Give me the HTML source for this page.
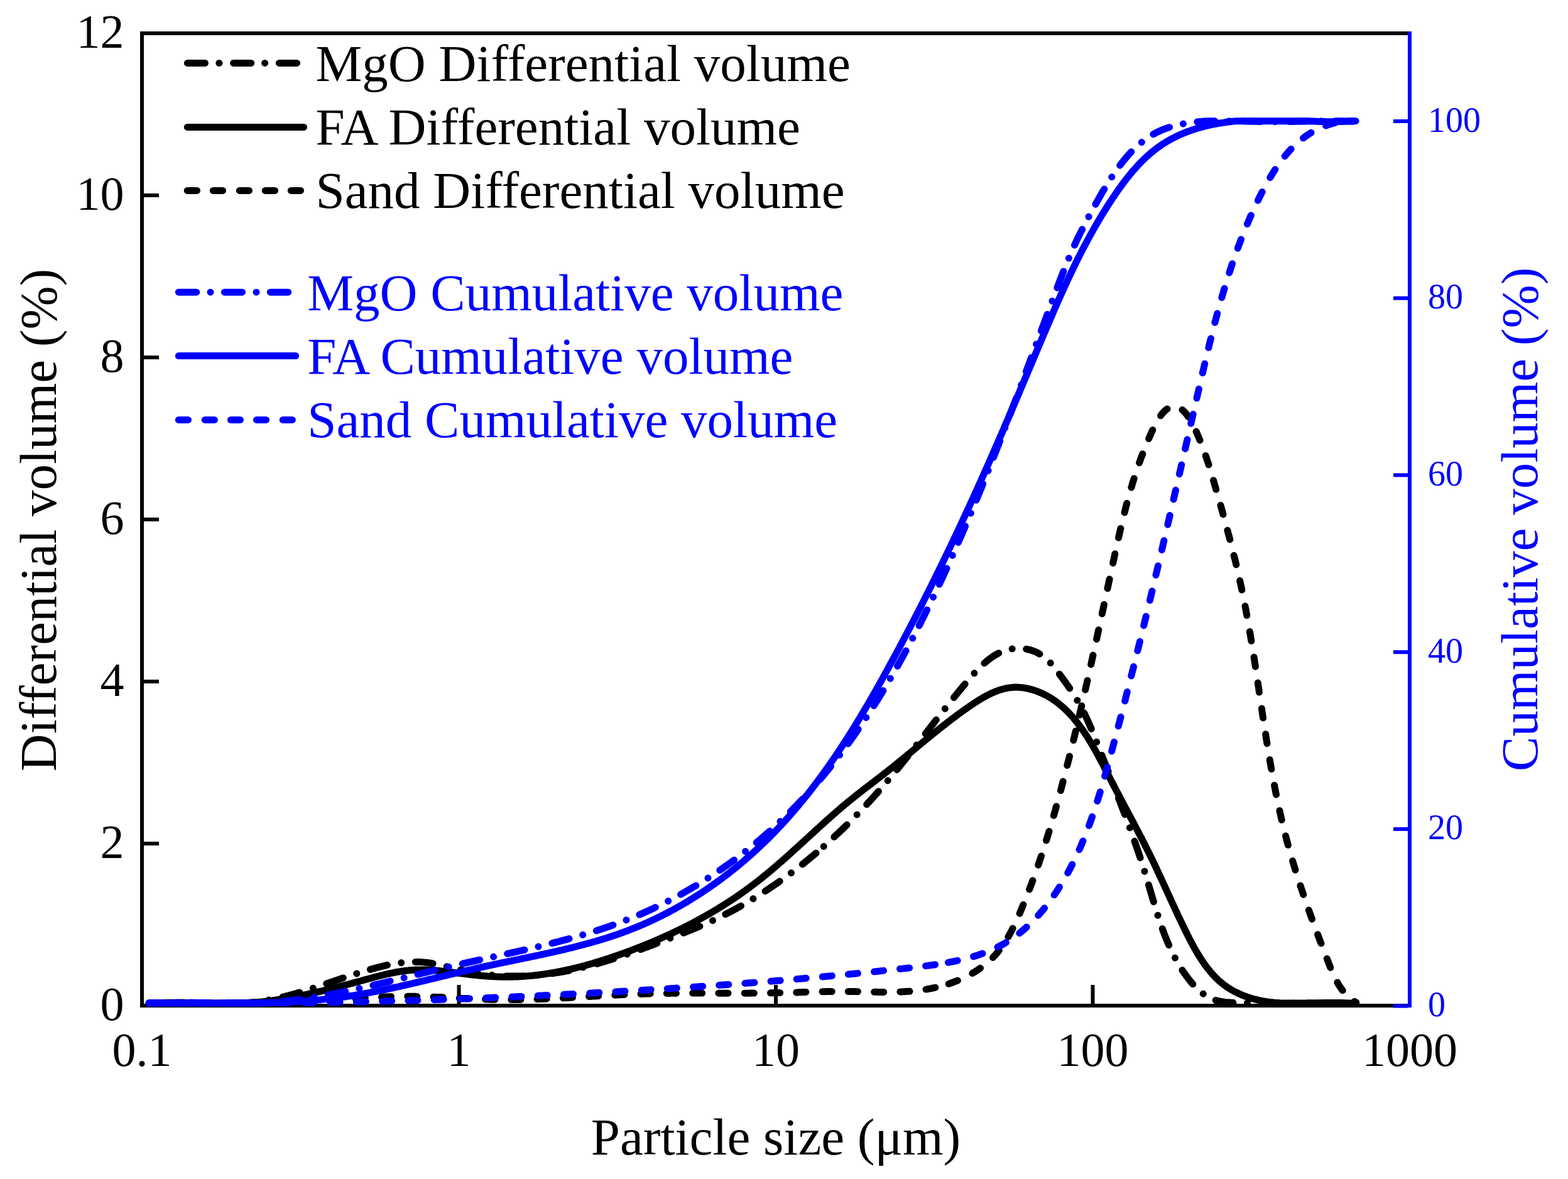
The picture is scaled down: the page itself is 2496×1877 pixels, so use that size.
<!DOCTYPE html>
<html><head><meta charset="utf-8"><title>Particle size distribution</title>
<style>html,body{margin:0;padding:0;background:#fff;overflow:hidden}svg{display:block}</style>
</head><body>
<svg xmlns="http://www.w3.org/2000/svg" width="2496" height="1877" viewBox="0 0 2496 1877">
<rect x="0" y="0" width="2496" height="1877" fill="#ffffff"/>
<g fill="#000">
<rect x="223" y="50" width="6" height="1554"/>
<rect x="223" y="50" width="2021" height="6"/>
<rect x="223" y="1598" width="2021" height="6"/>
<rect x="229" y="1598.0" width="24" height="6"/>
<rect x="229" y="1340.0" width="24" height="6"/>
<rect x="229" y="1082.0" width="24" height="6"/>
<rect x="229" y="824.0" width="24" height="6"/>
<rect x="229" y="566.0" width="24" height="6"/>
<rect x="229" y="308.0" width="24" height="6"/>
<rect x="229" y="50.0" width="24" height="6"/>
<rect x="223.0" y="1568" width="6" height="30"/>
<rect x="727.5" y="1568" width="6" height="30"/>
<rect x="1232.0" y="1568" width="6" height="30"/>
<rect x="1736.5" y="1568" width="6" height="30"/>
<rect x="2241.0" y="1568" width="6" height="30"/>
</g>
<g fill="#0000ff">
<rect x="2241" y="50" width="6" height="1554"/>
<rect x="2218" y="1598.6" width="23" height="6"/>
<rect x="2218" y="1316.9" width="23" height="6"/>
<rect x="2218" y="1035.2" width="23" height="6"/>
<rect x="2218" y="753.4" width="23" height="6"/>
<rect x="2218" y="471.7" width="23" height="6"/>
<rect x="2218" y="190.0" width="23" height="6"/>
</g>
<path d="M237.0 1597.0 L239.0 1597.0 L241.0 1597.0 L243.0 1597.0 L245.0 1597.0 L247.0 1597.0 L249.0 1597.0 L251.0 1597.0 L253.0 1597.0 L255.0 1597.0 L257.0 1597.0 L259.0 1597.0 L261.0 1596.9 L263.0 1596.8 L265.0 1596.8 L267.0 1596.7 L269.0 1596.7 L271.0 1596.6 L273.0 1596.6 L275.0 1596.5 L277.0 1596.5 L279.0 1596.4 L281.0 1596.4 L283.0 1596.4 L285.0 1596.3 L287.0 1596.3 L289.0 1596.3 L291.0 1596.3 L293.0 1596.3 L295.0 1596.3 L297.0 1596.3 L299.0 1596.3 L301.0 1596.3 L303.0 1596.3 L305.0 1596.3 L307.0 1596.3 L309.0 1596.3 L311.0 1596.3 L313.0 1596.3 L315.0 1596.3 L317.0 1596.3 L319.0 1596.3 L321.0 1596.4 L323.0 1596.4 L325.0 1596.4 L327.0 1596.4 L329.0 1596.5 L331.0 1596.5 L333.0 1596.5 L335.0 1596.6 L337.0 1596.6 L339.0 1596.6 L341.0 1596.7 L343.0 1596.7 L345.0 1596.7 L347.0 1596.8 L349.0 1596.8 L351.0 1596.9 L353.0 1596.9 L355.0 1596.9 L357.0 1597.0 L359.0 1597.0 L361.0 1597.0 L363.0 1597.0 L365.0 1597.0 L367.0 1597.0 L369.0 1597.0 L371.0 1597.0 L373.0 1597.0 L375.0 1597.0 L377.0 1597.0 L379.0 1597.0 L381.0 1597.0 L383.0 1597.0 L385.0 1597.0 L387.0 1597.0 L389.0 1597.0 L391.0 1597.0 L393.0 1597.0 L395.0 1597.0 L397.0 1597.0 L399.0 1597.0 L401.0 1597.0 L403.0 1597.0 L405.0 1597.0 L407.0 1597.0 L409.0 1597.0 L411.0 1597.0 L413.0 1597.0 L415.0 1597.0 L417.0 1597.0 L419.0 1597.0 L421.0 1597.0 L423.0 1597.0 L425.0 1597.0 L427.0 1597.0 L429.0 1597.0 L431.0 1597.0 L433.0 1597.0 L435.0 1597.0 L437.0 1597.0 L439.0 1597.0 L441.0 1597.0 L443.0 1597.0 L445.0 1597.0 L447.0 1597.0 L449.0 1597.0 L451.0 1597.0 L453.0 1597.0 L455.0 1597.0 L457.0 1597.0 L459.0 1597.0 L461.0 1597.0 L463.0 1597.0 L465.0 1597.0 L467.0 1597.0 L469.0 1597.0 L471.0 1597.0 L473.0 1597.0 L475.0 1597.0 L477.0 1596.9 L479.0 1596.8 L481.0 1596.7 L483.0 1596.6 L484.9 1596.5 L486.9 1596.4 L488.9 1596.2 L490.9 1596.1 L492.9 1596.0 L494.9 1595.9 L496.9 1595.7 L498.9 1595.6 L500.9 1595.5 L502.9 1595.3 L504.9 1595.2 L506.9 1595.0 L508.9 1594.9 L510.9 1594.7 L512.9 1594.6 L514.9 1594.4 L516.9 1594.3 L518.9 1594.1 L520.9 1594.0 L522.9 1593.8 L524.8 1593.6 L526.8 1593.5 L528.8 1593.3 L530.8 1593.2 L532.8 1593.0 L534.8 1592.8 L536.8 1592.7 L538.8 1592.5 L540.8 1592.3 L542.8 1592.1 L544.8 1592.0 L546.8 1591.8 L548.8 1591.6 L550.8 1591.5 L552.8 1591.3 L554.8 1591.1 L556.7 1591.0 L558.7 1590.8 L560.7 1590.6 L562.7 1590.5 L564.7 1590.3 L566.7 1590.1 L568.7 1590.0 L570.7 1589.8 L572.7 1589.7 L574.7 1589.5 L576.7 1589.4 L578.7 1589.2 L580.7 1589.1 L582.7 1588.9 L584.7 1588.8 L586.6 1588.6 L588.6 1588.5 L590.6 1588.4 L592.6 1588.2 L594.6 1588.1 L596.6 1588.0 L598.6 1587.8 L600.6 1587.7 L602.6 1587.6 L604.6 1587.5 L606.6 1587.4 L608.6 1587.3 L610.6 1587.2 L612.6 1587.1 L614.6 1587.0 L616.6 1586.9 L618.5 1586.8 L620.5 1586.8 L622.5 1586.7 L624.5 1586.6 L626.5 1586.6 L628.5 1586.5 L630.5 1586.4 L632.5 1586.4 L634.5 1586.4 L636.5 1586.3 L638.5 1586.3 L640.5 1586.3 L642.5 1586.3 L644.5 1586.2 L646.5 1586.2 L648.5 1586.2 L650.5 1586.2 L652.5 1586.3 L654.5 1586.3 L656.5 1586.3 L658.5 1586.3 L660.5 1586.3 L662.4 1586.4 L664.4 1586.4 L666.4 1586.4 L668.4 1586.5 L670.4 1586.5 L672.4 1586.6 L674.4 1586.6 L676.4 1586.7 L678.4 1586.8 L680.4 1586.8 L682.4 1586.9 L684.4 1587.0 L686.4 1587.0 L688.4 1587.1 L690.4 1587.2 L692.4 1587.3 L694.4 1587.4 L696.4 1587.4 L698.4 1587.5 L700.4 1587.6 L702.4 1587.7 L704.4 1587.8 L706.4 1587.9 L708.4 1588.0 L710.4 1588.1 L712.4 1588.2 L714.4 1588.3 L716.4 1588.4 L718.4 1588.5 L720.4 1588.6 L722.4 1588.7 L724.4 1588.8 L726.4 1588.9 L728.4 1589.0 L730.4 1589.1 L732.3 1589.2 L734.3 1589.3 L736.3 1589.4 L738.3 1589.5 L740.3 1589.6 L742.3 1589.7 L744.3 1589.8 L746.3 1589.9 L748.3 1589.9 L750.3 1590.0 L752.3 1590.1 L754.3 1590.2 L756.3 1590.3 L758.3 1590.4 L760.3 1590.5 L762.3 1590.6 L764.3 1590.6 L766.3 1590.7 L768.3 1590.8 L770.3 1590.9 L772.3 1590.9 L774.3 1591.0 L776.3 1591.1 L778.3 1591.1 L780.3 1591.2 L782.3 1591.2 L784.3 1591.3 L786.3 1591.3 L788.3 1591.4 L790.3 1591.4 L792.3 1591.4 L794.3 1591.5 L796.2 1591.5 L798.2 1591.5 L800.2 1591.5 L802.2 1591.6 L804.2 1591.6 L806.2 1591.6 L808.2 1591.6 L810.2 1591.6 L812.2 1591.6 L814.2 1591.6 L816.2 1591.5 L818.2 1591.5 L820.2 1591.5 L822.2 1591.5 L824.2 1591.5 L826.2 1591.4 L828.2 1591.4 L830.2 1591.4 L832.2 1591.3 L834.2 1591.3 L836.2 1591.2 L838.1 1591.2 L840.1 1591.2 L842.1 1591.1 L844.1 1591.0 L846.1 1591.0 L848.1 1590.9 L850.1 1590.9 L852.1 1590.8 L854.1 1590.7 L856.1 1590.7 L858.1 1590.6 L860.1 1590.5 L862.1 1590.4 L864.1 1590.4 L866.1 1590.3 L868.1 1590.2 L870.1 1590.1 L872.0 1590.0 L874.0 1589.9 L876.0 1589.8 L878.0 1589.8 L880.0 1589.7 L882.0 1589.6 L884.0 1589.5 L886.0 1589.4 L888.0 1589.3 L890.0 1589.2 L892.0 1589.1 L894.0 1589.0 L896.0 1588.9 L898.0 1588.8 L900.0 1588.6 L902.0 1588.5 L903.9 1588.4 L905.9 1588.3 L907.9 1588.2 L909.9 1588.1 L911.9 1588.0 L913.9 1587.9 L915.9 1587.8 L917.9 1587.6 L919.9 1587.5 L921.9 1587.4 L923.9 1587.3 L925.9 1587.2 L927.9 1587.1 L929.9 1586.9 L931.9 1586.8 L933.9 1586.7 L935.9 1586.6 L937.8 1586.5 L939.8 1586.4 L941.8 1586.2 L943.8 1586.1 L945.8 1586.0 L947.8 1585.9 L949.8 1585.8 L951.8 1585.7 L953.8 1585.5 L955.8 1585.4 L957.8 1585.3 L959.8 1585.2 L961.8 1585.1 L963.8 1585.0 L965.8 1584.9 L967.8 1584.8 L969.8 1584.6 L971.8 1584.5 L973.8 1584.4 L975.8 1584.3 L977.7 1584.2 L979.7 1584.1 L981.7 1584.0 L983.7 1583.9 L985.7 1583.8 L987.7 1583.7 L989.7 1583.6 L991.7 1583.5 L993.7 1583.4 L995.7 1583.3 L997.7 1583.2 L999.7 1583.2 L1001.7 1583.1 L1003.7 1583.0 L1005.7 1582.9 L1007.7 1582.8 L1009.7 1582.7 L1011.7 1582.7 L1013.7 1582.6 L1015.7 1582.5 L1017.7 1582.4 L1019.7 1582.4 L1021.7 1582.3 L1023.7 1582.2 L1025.7 1582.2 L1027.7 1582.1 L1029.7 1582.1 L1031.7 1582.0 L1033.7 1582.0 L1035.7 1581.9 L1037.7 1581.9 L1039.7 1581.8 L1041.7 1581.8 L1043.7 1581.7 L1045.7 1581.7 L1047.7 1581.6 L1049.7 1581.6 L1051.7 1581.6 L1053.7 1581.5 L1055.7 1581.5 L1057.7 1581.5 L1059.7 1581.4 L1061.7 1581.4 L1063.7 1581.4 L1065.7 1581.4 L1067.7 1581.3 L1069.7 1581.3 L1071.7 1581.3 L1073.6 1581.3 L1075.6 1581.3 L1077.6 1581.2 L1079.6 1581.2 L1081.6 1581.2 L1083.6 1581.2 L1085.6 1581.2 L1087.6 1581.2 L1089.7 1581.2 L1091.7 1581.2 L1093.7 1581.2 L1095.7 1581.1 L1097.7 1581.1 L1099.7 1581.1 L1101.7 1581.1 L1103.7 1581.1 L1105.7 1581.1 L1107.7 1581.1 L1109.7 1581.1 L1111.7 1581.1 L1113.7 1581.1 L1115.7 1581.1 L1117.7 1581.1 L1119.7 1581.1 L1121.7 1581.1 L1123.7 1581.1 L1125.7 1581.1 L1127.7 1581.1 L1129.7 1581.1 L1131.7 1581.1 L1133.7 1581.1 L1135.7 1581.1 L1137.7 1581.1 L1139.7 1581.2 L1141.7 1581.2 L1143.7 1581.2 L1145.7 1581.2 L1147.7 1581.2 L1149.7 1581.2 L1151.7 1581.2 L1153.7 1581.2 L1155.7 1581.2 L1157.7 1581.2 L1159.7 1581.2 L1161.7 1581.2 L1163.7 1581.2 L1165.7 1581.2 L1167.7 1581.2 L1169.7 1581.2 L1171.7 1581.2 L1173.6 1581.2 L1175.6 1581.2 L1177.6 1581.2 L1179.6 1581.2 L1181.6 1581.2 L1183.6 1581.2 L1185.6 1581.2 L1187.6 1581.2 L1189.6 1581.2 L1191.6 1581.2 L1193.6 1581.2 L1195.6 1581.1 L1197.6 1581.1 L1199.6 1581.1 L1201.6 1581.1 L1203.6 1581.1 L1205.6 1581.1 L1207.6 1581.1 L1209.6 1581.1 L1211.6 1581.0 L1213.6 1581.0 L1215.6 1581.0 L1217.6 1581.0 L1219.6 1581.0 L1221.6 1580.9 L1223.6 1580.9 L1225.6 1580.9 L1227.6 1580.8 L1229.6 1580.8 L1231.6 1580.8 L1233.6 1580.8 L1235.6 1580.7 L1237.6 1580.7 L1239.6 1580.6 L1241.6 1580.6 L1243.6 1580.6 L1245.5 1580.5 L1247.5 1580.5 L1249.5 1580.4 L1251.5 1580.4 L1253.5 1580.3 L1255.5 1580.3 L1257.5 1580.2 L1259.5 1580.1 L1261.5 1580.1 L1263.5 1580.0 L1265.5 1580.0 L1267.5 1579.9 L1269.5 1579.9 L1271.5 1579.8 L1273.5 1579.7 L1275.5 1579.7 L1277.5 1579.6 L1279.4 1579.6 L1281.4 1579.5 L1283.4 1579.4 L1285.4 1579.4 L1287.4 1579.3 L1289.4 1579.3 L1291.4 1579.2 L1293.4 1579.1 L1295.4 1579.1 L1297.4 1579.0 L1299.4 1579.0 L1301.4 1578.9 L1303.4 1578.9 L1305.4 1578.8 L1307.4 1578.8 L1309.4 1578.7 L1311.4 1578.7 L1313.4 1578.7 L1315.4 1578.6 L1317.4 1578.6 L1319.4 1578.6 L1321.4 1578.5 L1323.4 1578.5 L1325.4 1578.5 L1327.4 1578.5 L1329.4 1578.4 L1331.4 1578.4 L1333.4 1578.4 L1335.4 1578.4 L1337.4 1578.4 L1339.4 1578.4 L1341.4 1578.4 L1343.4 1578.4 L1345.4 1578.4 L1347.4 1578.4 L1349.4 1578.5 L1351.4 1578.5 L1353.4 1578.5 L1355.4 1578.5 L1357.4 1578.6 L1359.4 1578.6 L1361.4 1578.6 L1363.4 1578.7 L1365.4 1578.7 L1367.4 1578.8 L1369.4 1578.8 L1371.4 1578.9 L1373.5 1578.9 L1375.5 1578.9 L1377.5 1579.0 L1379.5 1579.0 L1381.5 1579.1 L1383.5 1579.1 L1385.5 1579.2 L1387.5 1579.2 L1389.5 1579.2 L1391.5 1579.3 L1393.5 1579.3 L1395.5 1579.3 L1397.5 1579.4 L1399.6 1579.4 L1401.6 1579.4 L1403.6 1579.4 L1405.6 1579.4 L1407.6 1579.5 L1409.6 1579.5 L1411.6 1579.5 L1413.6 1579.5 L1415.6 1579.4 L1417.6 1579.4 L1419.6 1579.4 L1421.6 1579.4 L1423.6 1579.3 L1425.6 1579.3 L1427.6 1579.2 L1429.6 1579.2 L1431.6 1579.1 L1433.6 1579.0 L1435.6 1578.9 L1437.6 1578.8 L1439.6 1578.7 L1441.5 1578.6 L1443.5 1578.5 L1445.5 1578.3 L1447.5 1578.2 L1449.5 1578.0 L1451.5 1577.9 L1453.5 1577.7 L1455.5 1577.5 L1457.4 1577.3 L1459.4 1577.1 L1461.4 1576.9 L1463.4 1576.6 L1465.3 1576.4 L1467.3 1576.1 L1469.3 1575.8 L1471.3 1575.5 L1473.2 1575.2 L1475.2 1574.9 L1477.2 1574.5 L1479.1 1574.2 L1481.1 1573.8 L1483.1 1573.4 L1485.0 1573.0 L1487.0 1572.6 L1488.9 1572.2 L1490.9 1571.7 L1492.8 1571.2 L1494.8 1570.7 L1496.7 1570.2 L1498.7 1569.7 L1500.6 1569.2" fill="none" stroke="#000" stroke-width="11" stroke-linecap="round" stroke-linejoin="round" stroke-dasharray="15.1 26.2" stroke-dashoffset="0.81"/>
<path d="M1500.6 1569.2 L1502.5 1568.6 L1504.4 1568.1 L1506.4 1567.5 L1508.3 1566.9 L1510.2 1566.3 L1512.1 1565.6 L1514.0 1565.0 L1515.8 1564.3 L1517.7 1563.6 L1519.6 1562.9 L1521.5 1562.2 L1523.3 1561.5 L1525.2 1560.7 L1527.0 1560.0 L1528.8 1559.2 L1530.6 1558.4 L1532.4 1557.5 L1534.2 1556.7 L1536.0 1555.8 L1537.8 1554.9 L1539.6 1554.1 L1541.3 1553.1 L1543.1 1552.2 L1544.8 1551.3 L1546.5 1550.3 L1548.2 1549.3 L1549.9 1548.3 L1551.6 1547.3 L1553.3 1546.2 L1554.9 1545.2 L1556.6 1544.1 L1558.2 1543.0 L1559.8 1541.9 L1561.4 1540.7 L1563.0 1539.6 L1564.5 1538.4 L1566.1 1537.2 L1567.6 1536.0 L1569.1 1534.7 L1570.6 1533.5 L1572.1 1532.2 L1573.6 1530.9 L1575.0 1529.6 L1576.5 1528.3 L1577.9 1526.9 L1579.3 1525.6 L1580.7 1524.2 L1582.0 1522.8 L1583.3 1521.3 L1584.7 1519.9 L1586.0 1518.4 L1587.2 1516.9 L1588.5 1515.4 L1589.7 1513.9 L1591.0 1512.3 L1592.2 1510.8 L1593.3 1509.2 L1594.5 1507.6 L1595.7 1506.0 L1596.8 1504.3 L1597.9 1502.7 L1599.0 1501.0 L1600.1 1499.3 L1601.2 1497.6 L1602.2 1495.9 L1603.3 1494.2 L1604.3 1492.5 L1605.3 1490.7 L1606.3 1489.0 L1607.3 1487.2 L1608.3 1485.4 L1609.2 1483.7 L1610.2 1481.9 L1611.1 1480.1 L1612.0 1478.2 L1612.9 1476.4 L1613.8 1474.6 L1614.7 1472.7 L1615.6 1470.9 L1616.5 1469.0 L1617.4 1467.2 L1618.2 1465.3 L1619.1 1463.5 L1619.9 1461.6 L1620.7 1459.7 L1621.6 1457.8 L1622.4 1455.9 L1623.2 1454.1 L1624.0 1452.2 L1624.8 1450.3 L1625.6 1448.4 L1626.4 1446.5 L1627.2 1444.6 L1628.0 1442.7 L1628.7 1440.8 L1629.5 1438.9 L1630.3 1437.0 L1631.1 1435.2 L1631.8 1433.3 L1632.6 1431.4 L1633.3 1429.5 L1634.1 1427.6 L1634.8 1425.7 L1635.6 1423.8 L1636.3 1421.9 L1637.0 1420.0 L1637.8 1418.1 L1638.5 1416.2 L1639.2 1414.4 L1639.9 1412.5 L1640.6 1410.6 L1641.4 1408.7 L1642.1 1406.8 L1642.8 1404.9 L1643.5 1403.0 L1644.2 1401.1 L1644.8 1399.2 L1645.5 1397.4 L1646.2 1395.5 L1646.9 1393.6 L1647.6 1391.7 L1648.3 1389.8 L1648.9 1387.9 L1649.6 1386.0 L1650.3 1384.1 L1650.9 1382.2 L1651.6 1380.3 L1652.2 1378.4 L1652.9 1376.6 L1653.5 1374.7 L1654.2 1372.8 L1654.8 1370.9 L1655.5 1369.0 L1656.1 1367.1 L1656.7 1365.2 L1657.4 1363.3 L1658.0 1361.4 L1658.6 1359.5 L1659.2 1357.6 L1659.9 1355.7 L1660.5 1353.9 L1661.1 1352.0 L1661.7 1350.1 L1662.3 1348.2 L1662.9 1346.3 L1663.5 1344.4 L1664.1 1342.5 L1664.7 1340.6 L1665.3 1338.7 L1665.9 1336.8 L1666.5 1334.9 L1667.1 1333.0 L1667.7 1331.1 L1668.2 1329.2 L1668.8 1327.3 L1669.4 1325.4 L1670.0 1323.5 L1670.5 1321.6 L1671.1 1319.7 L1671.7 1317.8 L1672.2 1315.9 L1672.8 1314.0 L1673.4 1312.1 L1673.9 1310.2 L1674.5 1308.3 L1675.0 1306.4 L1675.6 1304.5 L1676.2 1302.6 L1676.7 1300.7 L1677.2 1298.8 L1677.8 1296.9 L1678.3 1295.0 L1678.9 1293.1 L1679.4 1291.2 L1680.0 1289.3 L1680.5 1287.3 L1681.0 1285.4 L1681.6 1283.5 L1682.1 1281.6 L1682.6 1279.7 L1683.2 1277.8 L1683.7 1275.9 L1684.2 1274.0 L1684.7 1272.1 L1685.3 1270.1 L1685.8 1268.2 L1686.3 1266.3 L1686.8 1264.4 L1687.3 1262.5 L1687.9 1260.6 L1688.4 1258.6 L1688.9 1256.7 L1689.4 1254.8 L1689.9 1252.9 L1690.4 1251.0 L1690.9 1249.0 L1691.4 1247.1 L1691.9 1245.2 L1692.4 1243.3 L1692.9 1241.3 L1693.5 1239.4 L1694.0 1237.5 L1694.5 1235.6 L1695.0 1233.6 L1695.5 1231.7 L1696.0 1229.8 L1696.5 1227.8 L1696.9 1225.9 L1697.4 1224.0 L1697.9 1222.1 L1698.4 1220.1 L1698.9 1218.2 L1699.4 1216.2 L1699.9 1214.3 L1700.4 1212.4 L1700.9 1210.4 L1701.4 1208.5 L1701.9 1206.6 L1702.3 1204.6 L1702.8 1202.7 L1703.3 1200.8 L1703.8 1198.8 L1704.3 1196.9 L1704.8 1194.9 L1705.2 1193.0 L1705.7 1191.0 L1706.2 1189.1 L1706.7 1187.2 L1707.2 1185.2 L1707.6 1183.3 L1708.1 1181.3 L1708.6 1179.4 L1709.1 1177.4 L1709.5 1175.5 L1710.0 1173.5 L1710.5 1171.6 L1710.9 1169.6 L1711.4 1167.7 L1711.9 1165.7 L1712.4 1163.8 L1712.8 1161.8 L1713.3 1159.9 L1713.8 1157.9 L1714.2 1156.0 L1714.7 1154.0 L1715.1 1152.1 L1715.6 1150.1 L1716.1 1148.2 L1716.5 1146.2 L1717.0 1144.3 L1717.5 1142.3 L1717.9 1140.4 L1718.4 1138.4 L1718.8 1136.5 L1719.3 1134.5 L1719.7 1132.6 L1720.2 1130.6 L1720.7 1128.6 L1721.1 1126.7 L1721.6 1124.7 L1722.0 1122.8 L1722.5 1120.8 L1722.9 1118.9 L1723.4 1116.9 L1723.8 1114.9 L1724.3 1113.0 L1724.7 1111.0 L1725.2 1109.1 L1725.6 1107.1 L1726.1 1105.1 L1726.5 1103.2 L1727.0 1101.2 L1727.4 1099.3 L1727.9 1097.3 L1728.3 1095.3 L1728.7 1093.4 L1729.2 1091.4 L1729.6 1089.5 L1730.1 1087.5 L1730.5 1085.5 L1731.0 1083.6 L1731.4 1081.6 L1731.8 1079.7 L1732.3 1077.7 L1732.7 1075.7 L1733.2 1073.8 L1733.6 1071.8 L1734.0 1069.8 L1734.5 1067.9 L1734.9 1065.9 L1735.3 1064.0 L1735.8 1062.0 L1736.2 1060.0 L1736.6 1058.1 L1737.1 1056.1 L1737.5 1054.2 L1737.9 1052.2 L1738.4 1050.2 L1738.8 1048.3 L1739.2 1046.3 L1739.7 1044.3 L1740.1 1042.4 L1740.5 1040.4 L1741.0 1038.5 L1741.4 1036.5 L1741.8 1034.5 L1742.3 1032.6 L1742.7 1030.6 L1743.1 1028.6 L1743.5 1026.7 L1744.0 1024.7 L1744.4 1022.8 L1744.8 1020.8 L1745.3 1018.8 L1745.7 1016.9 L1746.1 1014.9 L1746.5 1013.0 L1747.0 1011.0 L1747.4 1009.0 L1747.8 1007.1 L1748.2 1005.1 L1748.7 1003.2 L1749.1 1001.2 L1749.5 999.2 L1749.9 997.3 L1750.4 995.3 L1750.8 993.4 L1751.2 991.4 L1751.6 989.4 L1752.1 987.5 L1752.5 985.5 L1752.9 983.6 L1753.3 981.6 L1753.7 979.7 L1754.2 977.7 L1754.6 975.7 L1755.0 973.8 L1755.4 971.8 L1755.9 969.9 L1756.3 967.9 L1756.7 966.0 L1757.1 964.0 L1757.5 962.1 L1758.0 960.1 L1758.4 958.1 L1758.8 956.2 L1759.2 954.2 L1759.6 952.3 L1760.1 950.3 L1760.5 948.4 L1760.9 946.4 L1761.3 944.5 L1761.7 942.5 L1762.2 940.6 L1762.6 938.6 L1763.0 936.7 L1763.4 934.7 L1763.8 932.8 L1764.3 930.8 L1764.7 928.9 L1765.1 926.9 L1765.5 925.0 L1765.9 923.1 L1766.4 921.1 L1766.8 919.2 L1767.2 917.2 L1767.6 915.3 L1768.0 913.3 L1768.4 911.4 L1768.9 909.4 L1769.3 907.5 L1769.7 905.6 L1770.1 903.6 L1770.5 901.7 L1771.0 899.7 L1771.4 897.8 L1771.8 895.9 L1772.2 893.9 L1772.6 892.0 L1773.1 890.1 L1773.5 888.1 L1773.9 886.2 L1774.3 884.3 L1774.7 882.3 L1775.2 880.4 L1775.6 878.5 L1776.0 876.5 L1776.4 874.6 L1776.9 872.7 L1777.3 870.7 L1777.7 868.8 L1778.1 866.9 L1778.6 865.0 L1779.0 863.0 L1779.4 861.1 L1779.8 859.2 L1780.3 857.2 L1780.7 855.3 L1781.1 853.4 L1781.6 851.5 L1782.0 849.5 L1782.5 847.6 L1782.9 845.7 L1783.3 843.8 L1783.8 841.8 L1784.2 839.9 L1784.7 838.0 L1785.1 836.1 L1785.6 834.2 L1786.0 832.2 L1786.5 830.3 L1787.0 828.4 L1787.4 826.5 L1787.9 824.5 L1788.4 822.6 L1788.8 820.7 L1789.3 818.8 L1789.8 816.9 L1790.3 814.9 L1790.8 813.0 L1791.3 811.1 L1791.7 809.2 L1792.2 807.3 L1792.7 805.3 L1793.2 803.4 L1793.7 801.5 L1794.3 799.6 L1794.8 797.7 L1795.3 795.7 L1795.8 793.8 L1796.3 791.9 L1796.9 790.0 L1797.4 788.1 L1798.0 786.2 L1798.5 784.2 L1799.0 782.3 L1799.6 780.4 L1800.2 778.5 L1800.7 776.5 L1801.3 774.6 L1801.9 772.7 L1802.4 770.8 L1803.0 768.9 L1803.6 766.9 L1804.2 765.0 L1804.8 763.1 L1805.4 761.2 L1806.0 759.3 L1806.6 757.3 L1807.3 755.4 L1807.9 753.5 L1808.5 751.6 L1809.2 749.6 L1809.8 747.7 L1810.5 745.8 L1811.1 743.9 L1811.8 741.9 L1812.5 740.0 L1813.1 738.1 L1813.8 736.2 L1814.5 734.2 L1815.2 732.3 L1815.9 730.4 L1816.6 728.4 L1817.4 726.5 L1818.1 724.6 L1818.8 722.7 L1819.6 720.7 L1820.3 718.8 L1821.1 716.9 L1821.8 714.9 L1822.6 713.0 L1823.4 711.1 L1824.2 709.1 L1825.0 707.2 L1825.8 705.2 L1826.6 703.3 L1827.4 701.4 L1828.2 699.4 L1829.0 697.5 L1829.9 695.6 L1830.7 693.6 L1831.6 691.7 L1832.5 689.7 L1833.3 687.8 L1834.2 685.8 L1835.1 683.9 L1836.0 682.0 L1837.0 680.1 L1837.9 678.2 L1838.8 676.3 L1839.8 674.5 L1840.8 672.6 L1841.8 670.8 L1842.8 669.1 L1843.8 667.4 L1844.9 665.7 L1845.9 664.1 L1847.0 662.5 L1848.1 661.0 L1849.2 659.5 L1850.4 658.1 L1851.6 656.8 L1852.8 655.5 L1854.0 654.3 L1855.2 653.2 L1856.5 652.1 L1857.8 651.2 L1859.2 650.3 L1860.5 649.5 L1861.9 648.8 L1863.3 648.2 L1864.8 647.7 L1866.3 647.4 L1867.7 647.1 L1869.2 647.1 L1870.7 647.1 L1872.1 647.4 L1873.5 647.7 L1875.0 648.2 L1876.4 648.8 L1877.7 649.5 L1879.1 650.3 L1880.4 651.2 L1881.8 652.3 L1883.1 653.4 L1884.3 654.6 L1885.6 655.9 L1886.8 657.3 L1888.1 658.7 L1889.2 660.3 L1890.4 661.9 L1891.6 663.5 L1892.7 665.3 L1893.9 667.0 L1895.0 668.9 L1896.0 670.7 L1897.1 672.7 L1898.2 674.6 L1899.2 676.6 L1900.2 678.6 L1901.2 680.7 L1902.2 682.7 L1903.1 684.8 L1904.1 686.9 L1905.0 688.9 L1905.9 691.0 L1906.8 693.1 L1907.7 695.2 L1908.5 697.2 L1909.4 699.3 L1910.2 701.3 L1911.0 703.3 L1911.8 705.3 L1912.6 707.3 L1913.4 709.3 L1914.1 711.3 L1914.9 713.3 L1915.6 715.2 L1916.3 717.2 L1917.0 719.1 L1917.7 721.0 L1918.4 723.0 L1919.0 724.9 L1919.7 726.8 L1920.3 728.7 L1921.0 730.6 L1921.6 732.4 L1922.2 734.3 L1922.9 736.2 L1923.5 738.1 L1924.1 739.9 L1924.6 741.8 L1925.2 743.6 L1925.8 745.5 L1926.4 747.3 L1926.9 749.2 L1927.5 751.0 L1928.1 752.9 L1928.6 754.7 L1929.2 756.5 L1929.7 758.4 L1930.3 760.2 L1930.8 762.1 L1931.3 763.9 L1931.9 765.7 L1932.4 767.6 L1932.9 769.4 L1933.5 771.3 L1934.0 773.1 L1934.5 774.9 L1935.1 776.8 L1935.6 778.7 L1936.1 780.5 L1936.7 782.4 L1937.2 784.2 L1937.7 786.1 L1938.3 788.0 L1938.8 789.8 L1939.3 791.7 L1939.9 793.6 L1940.4 795.4 L1940.9 797.3 L1941.5 799.2 L1942.0 801.1 L1942.5 803.0 L1943.1 804.9 L1943.6 806.8 L1944.1 808.6 L1944.7 810.5 L1945.2 812.4 L1945.7 814.3 L1946.3 816.2 L1946.8 818.1 L1947.3 820.0 L1947.8 822.0 L1948.4 823.9 L1948.9 825.8 L1949.4 827.7 L1949.9 829.6 L1950.5 831.5 L1951.0 833.4 L1951.5 835.4 L1952.0 837.3 L1952.6 839.2 L1953.1 841.1 L1953.6 843.1 L1954.1 845.0 L1954.6 846.9 L1955.1 848.8 L1955.6 850.8 L1956.2 852.7 L1956.7 854.7 L1957.2 856.6 L1957.7 858.5 L1958.2 860.5 L1958.7 862.4 L1959.2 864.4 L1959.7 866.3 L1960.2 868.2 L1960.7 870.2 L1961.2 872.1 L1961.7 874.1 L1962.2 876.0 L1962.7 878.0 L1963.2 879.9 L1963.6 881.9 L1964.1 883.9 L1964.6 885.8 L1965.1 887.8 L1965.6 889.7 L1966.1 891.7 L1966.5 893.6 L1967.0 895.6 L1967.5 897.6 L1967.9 899.5 L1968.4 901.5 L1968.9 903.5 L1969.3 905.4 L1969.8 907.4 L1970.3 909.3 L1970.7 911.3 L1971.2 913.3 L1971.6 915.2 L1972.1 917.2 L1972.5 919.2 L1972.9 921.1 L1973.4 923.1 L1973.8 925.1 L1974.3 927.1 L1974.7 929.0 L1975.1 931.0 L1975.5 933.0 L1976.0 934.9 L1976.4 936.9 L1976.8 938.9 L1977.2 940.9 L1977.6 942.8 L1978.0 944.8 L1978.4 946.8 L1978.8 948.7 L1979.2 950.7 L1979.6 952.7 L1980.0 954.7 L1980.4 956.6 L1980.8 958.6 L1981.2 960.6 L1981.6 962.5 L1982.0 964.5 L1982.3 966.5 L1982.7 968.5 L1983.1 970.4 L1983.5 972.4 L1983.8 974.4 L1984.2 976.4 L1984.6 978.3 L1984.9 980.3 L1985.3 982.3 L1985.7 984.3 L1986.0 986.2 L1986.4 988.2 L1986.7 990.2 L1987.1 992.2 L1987.4 994.1 L1987.8 996.1 L1988.1 998.1 L1988.5 1000.1 L1988.8 1002.0 L1989.1 1004.0 L1989.5 1006.0 L1989.8 1008.0 L1990.2 1009.9 L1990.5 1011.9 L1990.8 1013.9 L1991.2 1015.9 L1991.5 1017.8 L1991.8 1019.8 L1992.1 1021.8 L1992.5 1023.8 L1992.8 1025.8 L1993.1 1027.7 L1993.4 1029.7 L1993.7 1031.7 L1994.1 1033.7 L1994.4 1035.6 L1994.7 1037.6 L1995.0 1039.6 L1995.3 1041.6 L1995.6 1043.5 L1996.0 1045.5 L1996.3 1047.5 L1996.6 1049.5 L1996.9 1051.5 L1997.2 1053.4 L1997.5 1055.4 L1997.8 1057.4 L1998.1 1059.4 L1998.4 1061.3 L1998.7 1063.3 L1999.0 1065.3 L1999.3 1067.3 L1999.6 1069.2 L1999.9 1071.2 L2000.2 1073.2 L2000.5 1075.2 L2000.8 1077.1 L2001.1 1079.1 L2001.4 1081.1 L2001.7 1083.1 L2002.0 1085.1 L2002.3 1087.0 L2002.6 1089.0 L2002.9 1091.0 L2003.2 1093.0 L2003.5 1094.9 L2003.8 1096.9 L2004.1 1098.9 L2004.3 1100.9 L2004.6 1102.8 L2004.9 1104.8 L2005.2 1106.8 L2005.5 1108.8 L2005.8 1110.7 L2006.1 1112.7 L2006.4 1114.7 L2006.7 1116.7 L2007.0 1118.6 L2007.3 1120.6 L2007.6 1122.6 L2007.9 1124.6 L2008.2 1126.5 L2008.5 1128.5 L2008.8 1130.5 L2009.0 1132.5 L2009.3 1134.4 L2009.6 1136.4 L2009.9 1138.4 L2010.2 1140.3 L2010.5 1142.3 L2010.8 1144.3 L2011.1 1146.3 L2011.4 1148.2 L2011.7 1150.2 L2012.0 1152.2 L2012.3 1154.1 L2012.6 1156.1 L2012.9 1158.1 L2013.2 1160.1 L2013.5 1162.0 L2013.8 1164.0 L2014.2 1166.0 L2014.5 1167.9 L2014.8 1169.9 L2015.1 1171.9 L2015.4 1173.8 L2015.7 1175.8 L2016.0 1177.8 L2016.3 1179.8 L2016.6 1181.7 L2017.0 1183.7 L2017.3 1185.7 L2017.6 1187.6 L2017.9 1189.6 L2018.2 1191.6 L2018.5 1193.5 L2018.9 1195.5 L2019.2 1197.5 L2019.5 1199.4 L2019.8 1201.4 L2020.2 1203.3 L2020.5 1205.3 L2020.8 1207.3 L2021.2 1209.2 L2021.5 1211.2 L2021.8 1213.2 L2022.2 1215.1 L2022.5 1217.1 L2022.9 1219.1 L2023.2 1221.0 L2023.6 1223.0 L2023.9 1224.9 L2024.3 1226.9 L2024.6 1228.9 L2025.0 1230.8 L2025.3 1232.8 L2025.7 1234.7 L2026.0 1236.7 L2026.4 1238.7 L2026.8 1240.6 L2027.1 1242.6 L2027.5 1244.5 L2027.9 1246.5 L2028.2 1248.4 L2028.6 1250.4 L2029.0 1252.4 L2029.4 1254.3 L2029.8 1256.3 L2030.1 1258.2 L2030.5 1260.2 L2030.9 1262.1 L2031.3 1264.1 L2031.7 1266.0 L2032.1 1268.0 L2032.5 1269.9 L2032.9 1271.9 L2033.3 1273.8 L2033.7 1275.8 L2034.1 1277.7 L2034.5 1279.7 L2035.0 1281.6 L2035.4 1283.6 L2035.8 1285.5 L2036.2 1287.5 L2036.7 1289.4 L2037.1 1291.4 L2037.5 1293.3 L2038.0 1295.3 L2038.4 1297.2 L2038.8 1299.2 L2039.3 1301.1 L2039.7 1303.1 L2040.2 1305.0 L2040.6 1306.9 L2041.1 1308.9 L2041.6 1310.8 L2042.0 1312.8 L2042.5 1314.7 L2043.0 1316.7 L2043.5 1318.6 L2043.9 1320.5 L2044.4 1322.5 L2044.9 1324.4 L2045.4 1326.4 L2045.9 1328.3 L2046.4 1330.2 L2046.9 1332.2 L2047.4 1334.1 L2047.9 1336.0 L2048.4 1338.0 L2048.9 1339.9 L2049.4 1341.8 L2050.0 1343.8 L2050.5 1345.7 L2051.0 1347.6 L2051.6 1349.6 L2052.1 1351.5 L2052.6 1353.4 L2053.2 1355.4 L2053.7 1357.3 L2054.3 1359.2 L2054.8 1361.1 L2055.4 1363.1 L2056.0 1365.0 L2056.5 1366.9 L2057.1 1368.8 L2057.7 1370.8 L2058.2 1372.7 L2058.8 1374.6 L2059.4 1376.5 L2060.0 1378.5 L2060.6 1380.4 L2061.2 1382.3 L2061.7 1384.2 L2062.3 1386.1 L2062.9 1388.1 L2063.5 1390.0 L2064.1 1391.9 L2064.8 1393.8 L2065.4 1395.7 L2066.0 1397.6 L2066.6 1399.5 L2067.2 1401.5 L2067.8 1403.4 L2068.5 1405.3 L2069.1 1407.2 L2069.7 1409.1 L2070.3 1411.0 L2071.0 1412.9 L2071.6 1414.8 L2072.2 1416.7 L2072.9 1418.6 L2073.5 1420.5 L2074.2 1422.4 L2074.8 1424.4 L2075.5 1426.3 L2076.1 1428.2 L2076.8 1430.1 L2077.4 1432.0 L2078.1 1433.9 L2078.7 1435.8 L2079.4 1437.7 L2080.1 1439.6 L2080.7 1441.4 L2081.4 1443.3 L2082.1 1445.2 L2082.7 1447.1 L2083.4 1449.0 L2084.1 1450.9 L2084.8 1452.8 L2085.4 1454.7 L2086.1 1456.6 L2086.8 1458.5 L2087.5 1460.4 L2088.2 1462.2 L2088.9 1464.1 L2089.6 1466.0 L2090.2 1467.9 L2090.9 1469.8 L2091.6 1471.7 L2092.3 1473.5 L2093.0 1475.4 L2093.7 1477.3 L2094.4 1479.2 L2095.1 1481.1 L2095.8 1482.9 L2096.5 1484.8 L2097.2 1486.7 L2097.9 1488.6 L2098.6 1490.4 L2099.3 1492.3 L2100.0 1494.2 L2100.7 1496.0 L2101.4 1497.9 L2102.1 1499.8 L2102.9 1501.6 L2103.6 1503.5 L2104.3 1505.4 L2105.0 1507.2 L2105.7 1509.1 L2106.4 1511.0 L2107.1 1512.8 L2107.8 1514.7 L2108.6 1516.5 L2109.3 1518.4 L2110.0 1520.2 L2110.7 1522.1 L2111.4 1524.0 L2112.1 1525.8 L2112.9 1527.7 L2113.6 1529.5 L2114.3 1531.4 L2115.0 1533.2 L2115.7 1535.1 L2116.5 1536.9 L2117.2 1538.7 L2117.9 1540.6 L2118.7 1542.4 L2119.4 1544.2 L2120.2 1546.1 L2120.9 1547.9 L2121.7 1549.7 L2122.5 1551.5 L2123.3 1553.2 L2124.2 1555.0 L2125.0 1556.8 L2125.9 1558.5 L2126.8 1560.3 L2127.7 1562.0 L2128.7 1563.7 L2129.6 1565.4 L2130.6 1567.1 L2131.6 1568.7 L2132.7 1570.4 L2133.8 1572.0 L2134.9 1573.6 L2136.1 1575.2 L2137.3 1576.8 L2138.5 1578.3 L2139.8 1579.8 L2141.1 1581.3 L2142.5 1582.8 L2143.9 1584.2 L2145.3 1585.7 L2146.8 1587.1 L2148.4 1588.4 L2150.0 1589.8 L2151.6 1591.1 L2153.3 1592.3 L2155.1 1593.6 L2156.9 1594.8 L2158.8 1596.0" fill="none" stroke="#000" stroke-width="11" stroke-linecap="round" stroke-linejoin="round" stroke-dasharray="15.1 26.2" stroke-dashoffset="31.27"/>
<path d="M237.3 1597.0 L239.3 1597.0 L241.2 1597.0 L243.2 1597.0 L245.1 1597.0 L247.1 1597.0 L249.0 1597.0 L251.0 1597.0 L253.0 1596.9 L254.9 1596.8 L256.9 1596.7 L258.9 1596.6 L260.9 1596.5 L262.8 1596.5 L264.8 1596.4 L266.8 1596.4 L268.8 1596.3 L270.8 1596.3 L272.8 1596.3 L274.8 1596.3 L276.7 1596.3 L278.7 1596.3 L280.7 1596.3 L282.7 1596.3 L284.7 1596.3 L286.7 1596.3 L288.7 1596.3 L290.7 1596.4 L292.7 1596.4 L294.8 1596.4 L296.8 1596.5 L298.8 1596.5 L300.8 1596.5 L302.8 1596.6 L304.8 1596.6 L306.8 1596.7 L308.8 1596.7 L310.8 1596.8 L312.9 1596.8 L314.9 1596.9 L316.9 1597.0 L318.9 1597.0 L320.9 1597.0 L322.9 1597.0 L324.9 1597.0 L327.0 1597.0 L329.0 1597.0 L331.0 1597.0 L333.0 1597.0 L335.0 1597.0 L337.1 1597.0 L339.1 1597.0 L341.1 1597.0 L343.1 1597.0 L345.1 1597.0 L347.1 1597.0 L349.1 1597.0 L351.2 1597.0 L353.2 1597.0 L355.2 1597.0 L357.2 1597.0 L359.2 1597.0 L361.2 1597.0 L363.2 1597.0 L365.2 1597.0 L367.2 1597.0 L369.2 1597.0 L371.3 1597.0 L373.3 1597.0 L375.3 1597.0 L377.3 1597.0 L379.3 1597.0 L381.2 1597.0 L383.2 1597.0 L385.2 1597.0 L387.2 1596.9 L389.2 1596.8 L391.2 1596.7 L393.2 1596.5 L395.2 1596.4 L397.2 1596.2 L399.1 1596.0 L401.1 1595.9 L403.1 1595.7 L405.1 1595.5 L407.0 1595.2 L409.0 1595.0 L411.0 1594.7 L412.9 1594.5 L414.9 1594.2 L416.8 1593.9 L418.8 1593.6 L420.7 1593.3 L422.7 1593.0 L424.6 1592.7 L426.6 1592.3 L428.5 1592.0 L430.5 1591.6 L432.4 1591.2 L434.4 1590.8 L436.3 1590.4 L438.2 1590.0 L440.2 1589.6 L442.1 1589.2 L444.0 1588.8 L445.9 1588.3 L447.9 1587.9 L449.8 1587.4 L451.7 1586.9 L453.6 1586.4 L455.5 1585.9 L457.5 1585.5 L459.4 1584.9 L461.3 1584.4 L463.2 1583.9 L465.1 1583.4 L467.0 1582.9 L468.9 1582.3 L470.8 1581.8 L472.7 1581.2 L474.7 1580.6 L476.6 1580.1 L478.5 1579.5 L480.4 1578.9 L482.3 1578.4 L484.2 1577.8 L486.1 1577.2 L488.0 1576.6 L489.9 1576.0 L491.8 1575.4 L493.7 1574.8 L495.6 1574.1 L497.5 1573.5 L499.4 1572.9 L501.3 1572.3 L503.2 1571.6 L505.1 1571.0 L507.0 1570.4 L508.9 1569.7 L510.7 1569.1 L512.6 1568.5 L514.5 1567.8 L516.4 1567.2 L518.3 1566.5 L520.2 1565.9 L522.1 1565.2 L524.0 1564.6 L525.9 1563.9 L527.8 1563.3 L529.7 1562.6 L531.6 1562.0 L533.5 1561.3 L535.4 1560.7 L537.3 1560.0 L539.2 1559.4 L541.1 1558.7 L543.0 1558.1 L544.9 1557.4 L546.8 1556.8 L548.7 1556.2 L550.6 1555.5 L552.5 1554.9 L554.5 1554.3 L556.4 1553.6 L558.3 1553.0 L560.2 1552.4 L562.1 1551.7 L564.0 1551.1 L565.9 1550.5 L567.8 1549.9 L569.8 1549.3 L571.7 1548.7 L573.6 1548.1 L575.5 1547.5 L577.4 1546.9 L579.4 1546.3 L581.3 1545.7 L583.2 1545.1 L585.2 1544.6 L587.1 1544.0 L589.0 1543.5 L591.0 1542.9 L592.9 1542.4 L594.8 1541.8 L596.8 1541.3 L598.7 1540.8 L600.7 1540.3 L602.6 1539.8 L604.6 1539.3 L606.5 1538.8 L608.5 1538.3 L610.4 1537.9 L612.4 1537.4 L614.3 1537.0 L616.3 1536.5 L618.3 1536.1 L620.2 1535.7 L622.2 1535.3 L624.1 1535.0 L626.1 1534.6 L628.1 1534.3 L630.0 1534.0 L632.0 1533.6 L634.0 1533.4 L635.9 1533.1 L637.9 1532.8 L639.9 1532.6 L641.8 1532.4 L643.8 1532.2 L645.8 1532.0 L647.7 1531.8 L649.7 1531.7 L651.7 1531.6 L653.6 1531.5 L655.6 1531.4 L657.6 1531.4 L659.6 1531.4 L661.5 1531.4 L663.5 1531.4 L665.5 1531.4 L667.4 1531.5 L669.4 1531.6 L671.4 1531.7 L673.4 1531.9 L675.3 1532.1 L677.3 1532.3 L679.3 1532.5 L681.2 1532.7 L683.2 1533.0 L685.2 1533.3 L687.1 1533.6 L689.1 1534.0 L691.1 1534.3 L693.1 1534.7 L695.0 1535.1 L697.0 1535.5 L699.0 1535.9 L700.9 1536.3 L702.9 1536.8 L704.9 1537.2 L706.8 1537.7 L708.8 1538.2 L710.8 1538.6 L712.7 1539.1 L714.7 1539.6 L716.7 1540.1 L718.6 1540.6 L720.6 1541.1 L722.6 1541.6 L724.5 1542.0 L726.5 1542.5 L728.5 1543.0 L730.4 1543.5 L732.4 1544.0 L734.4 1544.4 L736.4 1544.9 L738.3 1545.3 L740.3 1545.8 L742.3 1546.2 L744.2 1546.6 L746.2 1547.0 L748.2 1547.4 L750.2 1547.8 L752.1 1548.1 L754.1 1548.5 L756.1 1548.8 L758.1 1549.2 L760.0 1549.5 L762.0 1549.8 L764.0 1550.1 L766.0 1550.4 L767.9 1550.7 L769.9 1550.9 L771.9 1551.2 L773.9 1551.4 L775.9 1551.6 L777.8 1551.9 L779.8 1552.1 L781.8 1552.3 L783.8 1552.5 L785.7 1552.6 L787.7 1552.8 L789.7 1553.0 L791.7 1553.1 L793.7 1553.3 L795.6 1553.4 L797.6 1553.5 L799.6 1553.6 L801.6 1553.7 L803.6 1553.8 L805.5 1553.9 L807.5 1553.9 L809.5 1554.0 L811.5 1554.0 L813.4 1554.1 L815.4 1554.1 L817.4 1554.1 L819.4 1554.1 L821.4 1554.1 L823.3 1554.1 L825.3 1554.0 L827.3 1554.0 L829.3 1554.0 L831.2 1553.9 L833.2 1553.8 L835.2 1553.8 L837.2 1553.7 L839.1 1553.6 L841.1 1553.5 L843.1 1553.4 L845.1 1553.3 L847.0 1553.1 L849.0 1553.0 L851.0 1552.8 L853.0 1552.7 L854.9 1552.5 L856.9 1552.3 L858.9 1552.1 L860.8 1552.0 L862.8 1551.8 L864.8 1551.5 L866.7 1551.3 L868.7 1551.1 L870.7 1550.8 L872.7 1550.6 L874.6 1550.3 L876.6 1550.1 L878.6 1549.8 L880.5 1549.5 L882.5 1549.2 L884.4 1548.9 L886.4 1548.6 L888.4 1548.3 L890.3 1548.0 L892.3 1547.6 L894.3 1547.3 L896.2 1547.0 L898.2 1546.6 L900.1 1546.2 L902.1 1545.9 L904.0 1545.5 L906.0 1545.1 L908.0 1544.7 L909.9 1544.3 L911.9 1543.9 L913.8 1543.5 L915.8 1543.0 L917.7 1542.6 L919.7 1542.1 L921.6 1541.7 L923.6 1541.2 L925.5 1540.8 L927.5 1540.3 L929.4 1539.8 L931.3 1539.3 L933.3 1538.9 L935.2 1538.4 L937.2 1537.8 L939.1 1537.3 L941.0 1536.8 L943.0 1536.3 L944.9 1535.8 L946.9 1535.2 L948.8 1534.7 L950.7 1534.2 L952.7 1533.6 L954.6 1533.0 L956.5 1532.5 L958.5 1531.9 L960.4 1531.3 L962.3 1530.8 L964.2 1530.2 L966.2 1529.6 L968.1 1529.0 L970.0 1528.4 L971.9 1527.8 L973.9 1527.2 L975.8 1526.6 L977.7 1526.0 L979.6 1525.3 L981.5 1524.7 L983.4 1524.1 L985.4 1523.5 L987.3 1522.8 L989.2 1522.2 L991.1 1521.5 L993.0 1520.9 L994.9 1520.2 L996.8 1519.6 L998.7 1518.9 L1000.6 1518.3 L1002.5 1517.6 L1004.4 1516.9 L1006.3 1516.3 L1008.2 1515.6 L1010.1 1514.9 L1012.0 1514.2 L1013.9 1513.5 L1015.8 1512.9 L1017.7 1512.2 L1019.6 1511.5 L1021.5 1510.8 L1023.4 1510.1 L1025.2 1509.4 L1027.1 1508.7 L1029.0 1508.0 L1030.9 1507.3 L1032.8 1506.6 L1034.6 1505.9 L1036.5 1505.2 L1038.4 1504.5 L1040.3 1503.8 L1042.1 1503.1 L1044.0 1502.3 L1045.9 1501.6 L1047.7 1500.9 L1049.6 1500.2 L1051.5 1499.5 L1053.3 1498.8 L1055.2 1498.1 L1057.1 1497.3 L1058.9 1496.6 L1060.8 1495.9 L1062.6 1495.2 L1064.5 1494.5 L1066.3 1493.7 L1068.2 1493.0 L1070.0 1492.3 L1071.9 1491.6 L1073.7 1490.9 L1075.6 1490.2 L1077.4 1489.4 L1079.2 1488.7 L1081.1 1488.0 L1082.9 1487.3 L1084.8 1486.5 L1086.6 1485.8 L1088.4 1485.1 L1090.2 1484.4 L1092.1 1483.6 L1093.9 1482.9 L1095.7 1482.2 L1097.5 1481.4 L1099.4 1480.7 L1101.2 1480.0 L1103.0 1479.2 L1104.8 1478.5 L1106.6 1477.7 L1108.4 1477.0 L1110.2 1476.2 L1112.0 1475.4 L1113.8 1474.7 L1115.6 1473.9 L1117.4 1473.1 L1119.2 1472.3 L1121.0 1471.6 L1122.8 1470.8 L1124.6 1470.0 L1126.4 1469.2 L1128.2 1468.4 L1130.0 1467.6 L1131.8 1466.7 L1133.5 1465.9 L1135.3 1465.1 L1137.1 1464.3 L1138.9 1463.4 L1140.6 1462.6 L1142.4 1461.7 L1144.2 1460.9 L1145.9 1460.0 L1147.7 1459.1 L1149.5 1458.3 L1151.2 1457.4 L1153.0 1456.5 L1154.7 1455.6 L1156.5 1454.7 L1158.2 1453.8 L1160.0 1452.9 L1161.7 1452.0 L1163.5 1451.1 L1165.2 1450.2 L1167.0 1449.2 L1168.7 1448.3 L1170.4 1447.3 L1172.2 1446.4 L1173.9 1445.4 L1175.6 1444.5 L1177.3 1443.5 L1179.1 1442.6 L1180.8 1441.6 L1182.5 1440.6 L1184.2 1439.6 L1185.9 1438.6 L1187.6 1437.6 L1189.3 1436.6 L1191.0 1435.6 L1192.7 1434.6 L1194.4 1433.6 L1196.1 1432.6 L1197.8 1431.6 L1199.5 1430.5 L1201.2 1429.5 L1202.9 1428.4 L1204.6 1427.4 L1206.3 1426.3 L1208.0 1425.3 L1209.6 1424.2 L1211.3 1423.2 L1213.0 1422.1 L1214.7 1421.0 L1216.3 1419.9 L1218.0 1418.8 L1219.7 1417.8 L1221.3 1416.7 L1223.0 1415.6 L1224.6 1414.5 L1226.3 1413.4 L1227.9 1412.2 L1229.6 1411.1 L1231.2 1410.0 L1232.9 1408.9 L1234.5 1407.7 L1236.1 1406.6 L1237.8 1405.5 L1239.4 1404.3 L1241.0 1403.2 L1242.7 1402.0 L1244.3 1400.8 L1245.9 1399.7 L1247.5 1398.5 L1249.2 1397.3 L1250.8 1396.2 L1252.4 1395.0 L1254.0 1393.8 L1255.6 1392.6 L1257.2 1391.4 L1258.8 1390.2 L1260.4 1389.0 L1262.0 1387.8 L1263.6 1386.6 L1265.2 1385.4 L1266.8 1384.2 L1268.3 1382.9 L1269.9 1381.7 L1271.5 1380.5 L1273.1 1379.3 L1274.7 1378.0 L1276.2 1376.8 L1277.8 1375.5 L1279.4 1374.3 L1280.9 1373.0 L1282.5 1371.8 L1284.0 1370.5 L1285.6 1369.2 L1287.1 1368.0 L1288.7 1366.7 L1290.2 1365.4 L1291.8 1364.1 L1293.3 1362.9 L1294.9 1361.6 L1296.4 1360.3 L1297.9 1359.0 L1299.5 1357.7 L1301.0 1356.4" fill="none" stroke="#000" stroke-width="11" stroke-linecap="round" stroke-linejoin="round" stroke-dasharray="28 22.6 0.01 22.6" stroke-dashoffset="6.28"/>
<path d="M1301.0 1356.4 L1302.5 1355.1 L1304.0 1353.8 L1305.5 1352.4 L1307.1 1351.1 L1308.6 1349.8 L1310.1 1348.5 L1311.6 1347.2 L1313.1 1345.8 L1314.6 1344.5 L1316.1 1343.2 L1317.6 1341.8 L1319.1 1340.5 L1320.5 1339.1 L1322.0 1337.8 L1323.5 1336.4 L1325.0 1335.1 L1326.5 1333.7 L1327.9 1332.4 L1329.4 1331.0 L1330.9 1329.6 L1332.3 1328.3 L1333.8 1326.9 L1335.3 1325.5 L1336.7 1324.1 L1338.2 1322.7 L1339.6 1321.4 L1341.1 1320.0 L1342.5 1318.6 L1343.9 1317.2 L1345.4 1315.8 L1346.8 1314.4 L1348.2 1313.0 L1349.7 1311.6 L1351.1 1310.2 L1352.5 1308.8 L1353.9 1307.3 L1355.3 1305.9 L1356.8 1304.5 L1358.2 1303.1 L1359.6 1301.7 L1361.0 1300.2 L1362.4 1298.8 L1363.8 1297.4 L1365.2 1295.9 L1366.6 1294.5 L1367.9 1293.1 L1369.3 1291.6 L1370.7 1290.2 L1372.1 1288.7 L1373.4 1287.3 L1374.8 1285.8 L1376.2 1284.4 L1377.5 1282.9 L1378.9 1281.5 L1380.3 1280.0 L1381.6 1278.6 L1383.0 1277.1 L1384.3 1275.6 L1385.7 1274.2 L1387.0 1272.7 L1388.3 1271.2 L1389.7 1269.7 L1391.0 1268.3 L1392.3 1266.8 L1393.7 1265.3 L1395.0 1263.8 L1396.3 1262.3 L1397.6 1260.9 L1398.9 1259.4 L1400.2 1257.9 L1401.5 1256.4 L1402.8 1254.9 L1404.1 1253.4 L1405.4 1251.9 L1406.7 1250.4 L1408.0 1248.9 L1409.3 1247.4 L1410.6 1245.9 L1411.9 1244.4 L1413.1 1242.9 L1414.4 1241.4 L1415.7 1239.9 L1416.9 1238.4 L1418.2 1236.8 L1419.5 1235.3 L1420.7 1233.8 L1422.0 1232.3 L1423.3 1230.8 L1424.5 1229.3 L1425.8 1227.7 L1427.0 1226.2 L1428.3 1224.7 L1429.5 1223.2 L1430.8 1221.6 L1432.0 1220.1 L1433.2 1218.6 L1434.5 1217.0 L1435.7 1215.5 L1437.0 1214.0 L1438.2 1212.4 L1439.4 1210.9 L1440.7 1209.3 L1441.9 1207.8 L1443.1 1206.3 L1444.4 1204.7 L1445.6 1203.2 L1446.8 1201.6 L1448.0 1200.1 L1449.3 1198.5 L1450.5 1197.0 L1451.7 1195.4 L1453.0 1193.9 L1454.2 1192.3 L1455.4 1190.8 L1456.6 1189.2 L1457.8 1187.7 L1459.1 1186.1 L1460.3 1184.5 L1461.5 1183.0 L1462.7 1181.4 L1464.0 1179.9 L1465.2 1178.3 L1466.4 1176.7 L1467.6 1175.2 L1468.8 1173.6 L1470.1 1172.0 L1471.3 1170.5 L1472.5 1168.9 L1473.7 1167.3 L1475.0 1165.8 L1476.2 1164.2 L1477.4 1162.6 L1478.6 1161.0 L1479.9 1159.5 L1481.1 1157.9 L1482.3 1156.3 L1483.5 1154.7 L1484.8 1153.2 L1486.0 1151.6 L1487.2 1150.0 L1488.5 1148.4 L1489.7 1146.8 L1490.9 1145.3 L1492.2 1143.7 L1493.4 1142.1 L1494.7 1140.5 L1495.9 1138.9 L1497.1 1137.3 L1498.4 1135.8 L1499.6 1134.2 L1500.9 1132.6 L1502.1 1131.0 L1503.4 1129.4 L1504.7 1127.8 L1505.9 1126.2 L1507.2 1124.6 L1508.4 1123.0 L1509.7 1121.5 L1511.0 1119.9 L1512.2 1118.3 L1513.5 1116.7 L1514.8 1115.1 L1516.1 1113.5 L1517.3 1111.9 L1518.6 1110.3 L1519.9 1108.7 L1521.2 1107.1 L1522.5 1105.5 L1523.8 1103.9 L1525.1 1102.3 L1526.4 1100.7 L1527.7 1099.2 L1529.0 1097.6 L1530.3 1096.0 L1531.6 1094.4 L1532.9 1092.8 L1534.3 1091.2 L1535.6 1089.6 L1536.9 1088.0 L1538.3 1086.4 L1539.6 1084.8 L1540.9 1083.2 L1542.3 1081.6 L1543.6 1080.0 L1545.0 1078.5 L1546.4 1076.9 L1547.7 1075.3 L1549.1 1073.8 L1550.5 1072.3 L1551.9 1070.7 L1553.3 1069.2 L1554.7 1067.7 L1556.1 1066.2 L1557.5 1064.8 L1559.0 1063.3 L1560.4 1061.9 L1561.8 1060.5 L1563.3 1059.1 L1564.8 1057.7 L1566.3 1056.4 L1567.8 1055.1 L1569.3 1053.8 L1570.8 1052.5 L1572.3 1051.3 L1573.8 1050.1 L1575.4 1048.9 L1577.0 1047.7 L1578.5 1046.6 L1580.1 1045.5 L1581.7 1044.5 L1583.3 1043.4 L1585.0 1042.5 L1586.6 1041.5 L1588.3 1040.6 L1590.0 1039.8 L1591.7 1038.9 L1593.4 1038.2 L1595.1 1037.4 L1596.8 1036.7 L1598.6 1036.1 L1600.4 1035.5 L1602.2 1034.9 L1604.0 1034.4 L1605.8 1034.0 L1607.7 1033.5 L1609.5 1033.2 L1611.4 1032.9 L1613.3 1032.6 L1615.2 1032.5 L1617.2 1032.3 L1619.1 1032.2 L1621.1 1032.2 L1623.1 1032.2 L1625.1 1032.3 L1627.0 1032.5 L1629.0 1032.7 L1631.0 1032.9 L1633.0 1033.2 L1634.9 1033.6 L1636.9 1034.0 L1638.8 1034.5 L1640.8 1035.0" fill="none" stroke="#000" stroke-width="11" stroke-linecap="round" stroke-linejoin="round" stroke-dasharray="28 22.6 0.01 22.6" stroke-dashoffset="37.14"/>
<path d="M1640.8 1035.0 L1642.7 1035.6 L1644.6 1036.3 L1646.4 1037.0 L1648.3 1037.7 L1650.1 1038.6 L1651.9 1039.4 L1653.6 1040.4 L1655.3 1041.4 L1657.0 1042.4 L1658.6 1043.5 L1660.2 1044.7 L1661.8 1045.9 L1663.4 1047.2 L1664.9 1048.5 L1666.4 1049.8 L1667.8 1051.2 L1669.3 1052.6 L1670.7 1054.0 L1672.1 1055.5 L1673.5 1057.0 L1674.8 1058.5 L1676.1 1060.1 L1677.5 1061.7 L1678.8 1063.3 L1680.0 1064.9 L1681.3 1066.5 L1682.6 1068.1 L1683.8 1069.7 L1685.1 1071.4 L1686.3 1073.0 L1687.5 1074.6 L1688.8 1076.3 L1690.0 1077.9 L1691.2 1079.6 L1692.4 1081.2 L1693.6 1082.8 L1694.8 1084.5 L1696.0 1086.1 L1697.1 1087.8 L1698.3 1089.4 L1699.4 1091.0 L1700.6 1092.7 L1701.7 1094.3 L1702.9 1096.0 L1704.0 1097.7 L1705.1 1099.3 L1706.2 1101.0 L1707.3 1102.6 L1708.4 1104.3 L1709.4 1106.0 L1710.5 1107.7 L1711.5 1109.4 L1712.6 1111.1 L1713.6 1112.8 L1714.6 1114.5 L1715.6 1116.2 L1716.6 1117.9 L1717.6 1119.6 L1718.6 1121.4 L1719.5 1123.1 L1720.5 1124.9 L1721.4 1126.6 L1722.3 1128.4 L1723.2 1130.1 L1724.1 1131.9 L1725.0 1133.7 L1725.9 1135.5 L1726.8 1137.3 L1727.6 1139.1 L1728.5 1140.9 L1729.4 1142.7 L1730.2 1144.5 L1731.0 1146.3 L1731.9 1148.1 L1732.7 1149.9 L1733.5 1151.8 L1734.3 1153.6 L1735.1 1155.4 L1735.9 1157.3 L1736.7 1159.1 L1737.4 1161.0 L1738.2 1162.8 L1739.0 1164.7 L1739.7 1166.5 L1740.5 1168.4 L1741.3 1170.2 L1742.0 1172.1 L1742.8 1174.0 L1743.5 1175.8 L1744.2 1177.7 L1745.0 1179.5 L1745.7 1181.4 L1746.4 1183.3 L1747.2 1185.1 L1747.9 1187.0 L1748.6 1188.9 L1749.4 1190.7 L1750.1 1192.6 L1750.8 1194.5 L1751.5 1196.3 L1752.3 1198.2 L1753.0 1200.1 L1753.7 1201.9 L1754.4 1203.8 L1755.2 1205.7 L1755.9 1207.5 L1756.6 1209.4 L1757.3 1211.2 L1758.1 1213.1 L1758.8 1215.0 L1759.5 1216.8 L1760.2 1218.7 L1761.0 1220.5 L1761.7 1222.4 L1762.4 1224.2 L1763.2 1226.1 L1763.9 1227.9 L1764.6 1229.8 L1765.3 1231.6 L1766.1 1233.5 L1766.8 1235.3 L1767.5 1237.2 L1768.2 1239.0 L1769.0 1240.9 L1769.7 1242.7 L1770.4 1244.6 L1771.1 1246.4 L1771.9 1248.3 L1772.6 1250.1 L1773.3 1252.0 L1774.0 1253.8 L1774.7 1255.7 L1775.5 1257.5 L1776.2 1259.4 L1776.9 1261.2 L1777.6 1263.1 L1778.3 1264.9 L1779.1 1266.7 L1779.8 1268.6 L1780.5 1270.4 L1781.2 1272.3 L1781.9 1274.1 L1782.6 1276.0 L1783.3 1277.8 L1784.0 1279.7 L1784.8 1281.5 L1785.5 1283.4 L1786.2 1285.2 L1786.9 1287.1 L1787.6 1288.9 L1788.3 1290.8 L1789.0 1292.6 L1789.7 1294.5 L1790.4 1296.3 L1791.1 1298.2 L1791.8 1300.0 L1792.5 1301.9 L1793.2 1303.7 L1793.9 1305.6 L1794.6 1307.4 L1795.2 1309.3 L1795.9 1311.2 L1796.6 1313.0 L1797.3 1314.9 L1798.0 1316.7 L1798.7 1318.6 L1799.3 1320.5 L1800.0 1322.3 L1800.7 1324.2 L1801.4 1326.1 L1802.0 1327.9 L1802.7 1329.8 L1803.4 1331.7 L1804.0 1333.5 L1804.7 1335.4 L1805.4 1337.3 L1806.0 1339.2 L1806.7 1341.0 L1807.3 1342.9 L1808.0 1344.8 L1808.7 1346.7 L1809.3 1348.5 L1809.9 1350.4 L1810.6 1352.3 L1811.2 1354.2 L1811.9 1356.1 L1812.5 1358.0 L1813.1 1359.9 L1813.8 1361.8 L1814.4 1363.6 L1815.0 1365.5 L1815.7 1367.4 L1816.3 1369.3 L1816.9 1371.2 L1817.5 1373.1 L1818.1 1375.1 L1818.7 1377.0 L1819.3 1378.9 L1819.9 1380.8 L1820.6 1382.7 L1821.2 1384.6 L1821.7 1386.5 L1822.3 1388.4 L1822.9 1390.4 L1823.5 1392.3 L1824.1 1394.2 L1824.7 1396.1 L1825.3 1398.1 L1825.8 1400.0 L1826.4 1401.9 L1827.0 1403.9 L1827.6 1405.8 L1828.1 1407.7 L1828.7 1409.7 L1829.3 1411.6 L1829.9 1413.6 L1830.4 1415.5 L1831.0 1417.4 L1831.6 1419.4 L1832.1 1421.3 L1832.7 1423.3 L1833.3 1425.2 L1833.9 1427.1 L1834.4 1429.1 L1835.0 1431.0 L1835.6 1432.9 L1836.2 1434.9 L1836.7 1436.8 L1837.3 1438.8 L1837.9 1440.7 L1838.5 1442.6 L1839.1 1444.5 L1839.7 1446.5 L1840.3 1448.4 L1840.9 1450.3 L1841.5 1452.2 L1842.1 1454.2 L1842.7 1456.1 L1843.3 1458.0 L1843.9 1459.9 L1844.5 1461.8 L1845.2 1463.7 L1845.8 1465.6 L1846.5 1467.5 L1847.1 1469.4 L1847.7 1471.3 L1848.4 1473.2 L1849.1 1475.1 L1849.7 1477.0 L1850.4 1478.9 L1851.1 1480.8 L1851.8 1482.6 L1852.5 1484.5 L1853.2 1486.4 L1853.9 1488.2 L1854.6 1490.1 L1855.3 1491.9 L1856.1 1493.8 L1856.8 1495.6 L1857.6 1497.4 L1858.3 1499.3 L1859.1 1501.1 L1859.9 1502.9 L1860.7 1504.7 L1861.5 1506.5 L1862.3 1508.3 L1863.1 1510.1 L1863.9 1511.9 L1864.8 1513.7 L1865.6 1515.4 L1866.5 1517.2 L1867.4 1519.0 L1868.3 1520.7 L1869.2 1522.5 L1870.1 1524.2 L1871.0 1525.9 L1871.9 1527.6 L1872.9 1529.4 L1873.8 1531.1 L1874.8 1532.8 L1875.8 1534.5 L1876.8 1536.1 L1877.8 1537.8 L1878.8 1539.5 L1879.8 1541.1 L1880.9 1542.8 L1882.0 1544.4 L1883.0 1546.1 L1884.1 1547.7 L1885.2 1549.3 L1886.4 1550.9 L1887.5 1552.5 L1888.7 1554.1 L1889.8 1555.6 L1891.0 1557.2 L1892.2 1558.8 L1893.4 1560.3 L1894.7 1561.8 L1895.9 1563.4 L1897.2 1564.9 L1898.5 1566.4 L1899.8 1567.8 L1901.1 1569.3 L1902.5 1570.8 L1903.8 1572.2 L1905.2 1573.6 L1906.6 1574.9 L1908.1 1576.3 L1909.5 1577.6 L1911.0 1578.9 L1912.5 1580.1 L1914.0 1581.3 L1915.6 1582.5 L1917.1 1583.6 L1918.7 1584.7 L1920.4 1585.7 L1922.0 1586.7 L1923.7 1587.7 L1925.4 1588.6 L1927.1 1589.4 L1928.9 1590.2 L1930.7 1590.9 L1932.5 1591.6 L1934.4 1592.2 L1936.2 1592.8 L1938.1 1593.3 L1940.1 1593.7 L1942.0 1594.1 L1944.0 1594.5 L1946.0 1594.8 L1948.0 1595.1 L1950.0 1595.4 L1952.0 1595.6 L1954.0 1595.8 L1956.1 1596.0 L1958.2 1596.1 L1960.2 1596.2 L1962.3 1596.3 L1964.3 1596.4 L1966.4 1596.5 L1968.5 1596.5 L1970.5 1596.6 L1972.6 1596.6 L1974.7 1596.7 L1976.7 1596.7 L1978.8 1596.7 L1980.8 1596.7 L1982.9 1596.7 L1984.9 1596.7 L1987.0 1596.7 L1989.0 1596.7 L1991.0 1596.7 L1993.1 1596.7 L1995.1 1596.7 L1997.1 1596.7 L1999.1 1596.7 L2001.2 1596.7 L2003.2 1596.7 L2005.2 1596.7 L2007.2 1596.7 L2009.2 1596.7 L2011.2 1596.7 L2013.3 1596.7 L2015.3 1596.7 L2017.3 1596.7 L2019.3 1596.7 L2021.3 1596.7 L2023.3 1596.7 L2025.3 1596.7 L2027.3 1596.7 L2029.3 1596.7 L2031.3 1596.7 L2033.3 1596.7 L2035.3 1596.7 L2037.3 1596.7 L2039.3 1596.7 L2041.3 1596.8 L2043.3 1596.8 L2045.2 1596.8 L2047.2 1596.8 L2049.2 1596.8 L2051.2 1596.8 L2053.2 1596.8 L2055.2 1596.9 L2057.2 1596.9 L2059.2 1596.9 L2061.1 1596.9 L2063.1 1596.9 L2065.1 1596.9 L2067.1 1596.9 L2069.1 1597.0 L2071.1 1597.0 L2073.1 1597.0 L2075.0 1597.0 L2077.0 1597.0 L2079.0 1597.0 L2081.0 1597.0 L2083.0 1597.0 L2085.0 1597.0 L2087.0 1597.0 L2089.0 1597.0 L2090.9 1597.0 L2092.9 1597.0 L2094.9 1597.0 L2096.9 1597.0 L2098.9 1597.0 L2100.9 1597.0 L2102.9 1597.0 L2104.9 1597.0 L2106.9 1597.0 L2108.9 1597.0 L2110.9 1597.0 L2112.9 1597.0 L2114.9 1597.0 L2116.9 1597.0 L2118.9 1597.0 L2120.9 1597.0 L2122.9 1597.0 L2124.9 1597.0 L2126.9 1597.0 L2128.9 1597.0 L2130.9 1597.0 L2132.9 1597.0 L2134.9 1597.0 L2136.9 1597.0 L2139.0 1597.0 L2141.0 1597.0 L2143.0 1597.0 L2145.0 1597.0 L2147.0 1597.0 L2149.1 1596.9 L2151.1 1596.9 L2153.1 1596.9 L2155.2 1596.8 L2157.2 1596.8" fill="none" stroke="#000" stroke-width="11" stroke-linecap="round" stroke-linejoin="round" stroke-dasharray="28 22.6 0.01 22.6" stroke-dashoffset="12.54"/>
<path d="M237.2 1597.0 L239.2 1597.0 L241.1 1597.0 L243.1 1597.0 L245.1 1597.0 L247.0 1597.0 L249.0 1597.0 L251.0 1596.9 L253.0 1596.8 L254.9 1596.7 L256.9 1596.6 L258.9 1596.6 L260.9 1596.5 L262.9 1596.4 L264.9 1596.4 L266.8 1596.3 L268.8 1596.3 L270.8 1596.3 L272.8 1596.2 L274.8 1596.2 L276.8 1596.2 L278.8 1596.2 L280.8 1596.2 L282.8 1596.2 L284.8 1596.2 L286.8 1596.3 L288.8 1596.3 L290.8 1596.3 L292.8 1596.3 L294.8 1596.4 L296.8 1596.4 L298.8 1596.5 L300.8 1596.5 L302.8 1596.6 L304.9 1596.6 L306.9 1596.7 L308.9 1596.7 L310.9 1596.8 L312.9 1596.8 L314.9 1596.9 L316.9 1596.9 L318.9 1597.0 L320.9 1597.0 L323.0 1597.0 L325.0 1597.0 L327.0 1597.0 L329.0 1597.0 L331.0 1597.0 L333.0 1597.0 L335.0 1597.0 L337.0 1597.0 L339.1 1597.0 L341.1 1597.0 L343.1 1597.0 L345.1 1597.0 L347.1 1597.0 L349.1 1597.0 L351.1 1597.0 L353.1 1597.0 L355.1 1597.0 L357.1 1597.0 L359.1 1597.0 L361.2 1597.0 L363.2 1597.0 L365.2 1597.0 L367.2 1597.0 L369.2 1597.0 L371.2 1597.0 L373.2 1597.0 L375.2 1597.0 L377.2 1597.0 L379.2 1597.0 L381.2 1597.0 L383.2 1597.0 L385.2 1597.0 L387.1 1597.0 L389.1 1597.0 L391.1 1597.0 L393.1 1596.9 L395.1 1596.8 L397.1 1596.6 L399.1 1596.5 L401.1 1596.3 L403.0 1596.2 L405.0 1596.0 L407.0 1595.8 L409.0 1595.7 L411.0 1595.5 L412.9 1595.3 L414.9 1595.1 L416.9 1594.9 L418.9 1594.7 L420.8 1594.4 L422.8 1594.2 L424.8 1594.0 L426.8 1593.7 L428.7 1593.5 L430.7 1593.2 L432.7 1593.0 L434.6 1592.7 L436.6 1592.4 L438.6 1592.1 L440.5 1591.8 L442.5 1591.5 L444.5 1591.2 L446.4 1590.9 L448.4 1590.6 L450.3 1590.3 L452.3 1590.0 L454.3 1589.7 L456.2 1589.3 L458.2 1589.0 L460.1 1588.6 L462.1 1588.3 L464.0 1587.9 L466.0 1587.6 L468.0 1587.2 L469.9 1586.8 L471.9 1586.5 L473.8 1586.1 L475.8 1585.7 L477.7 1585.3 L479.7 1584.9 L481.6 1584.5 L483.6 1584.1 L485.5 1583.7 L487.5 1583.3 L489.4 1582.9 L491.4 1582.4 L493.3 1582.0 L495.3 1581.6 L497.2 1581.1 L499.1 1580.7 L501.1 1580.3 L503.0 1579.8 L505.0 1579.4 L506.9 1578.9 L508.9 1578.5 L510.8 1578.0 L512.8 1577.6 L514.7 1577.1 L516.6 1576.6 L518.6 1576.1 L520.5 1575.7 L522.5 1575.2 L524.4 1574.7 L526.3 1574.2 L528.3 1573.7 L530.2 1573.3 L532.2 1572.8 L534.1 1572.3 L536.0 1571.8 L538.0 1571.3 L539.9 1570.8 L541.9 1570.3 L543.8 1569.8 L545.7 1569.3 L547.7 1568.8 L549.6 1568.3 L551.6 1567.7 L553.5 1567.2 L555.4 1566.7 L557.4 1566.2 L559.3 1565.7 L561.3 1565.2 L563.2 1564.6 L565.1 1564.1 L567.1 1563.6 L569.0 1563.1 L571.0 1562.6 L572.9 1562.0 L574.8 1561.5 L576.8 1561.0 L578.7 1560.4 L580.6 1559.9 L582.6 1559.4 L584.5 1558.9 L586.5 1558.3 L588.4 1557.8 L590.4 1557.3 L592.3 1556.8 L594.2 1556.2 L596.2 1555.7 L598.1 1555.2 L600.1 1554.7 L602.0 1554.2 L603.9 1553.7 L605.9 1553.2 L607.8 1552.7 L609.8 1552.3 L611.7 1551.8 L613.7 1551.3 L615.6 1550.9 L617.6 1550.4 L619.5 1550.0 L621.5 1549.6 L623.4 1549.2 L625.4 1548.8 L627.3 1548.4 L629.3 1548.0 L631.2 1547.6 L633.2 1547.3 L635.1 1547.0 L637.1 1546.6 L639.1 1546.3 L641.0 1546.0 L643.0 1545.8 L645.0 1545.5 L646.9 1545.3 L648.9 1545.1 L650.9 1544.8 L652.8 1544.7 L654.8 1544.5 L656.8 1544.4 L658.7 1544.2 L660.7 1544.1 L662.7 1544.1 L664.7 1544.0 L666.6 1543.9 L668.6 1543.9 L670.6 1543.9 L672.6 1543.9 L674.6 1544.0 L676.6 1544.0 L678.5 1544.1 L680.5 1544.2 L682.5 1544.3 L684.5 1544.4 L686.5 1544.5 L688.5 1544.6 L690.5 1544.8 L692.5 1544.9 L694.5 1545.1 L696.5 1545.3 L698.5 1545.5 L700.4 1545.7 L702.4 1545.9 L704.4 1546.1 L706.4 1546.3 L708.4 1546.6 L710.4 1546.8 L712.4 1547.0 L714.4 1547.3 L716.4 1547.5 L718.4 1547.8 L720.4 1548.0 L722.4 1548.3 L724.4 1548.6 L726.4 1548.8 L728.4 1549.1 L730.4 1549.3 L732.4 1549.6 L734.4 1549.8 L736.4 1550.1 L738.4 1550.4 L740.4 1550.6 L742.4 1550.8 L744.4 1551.1 L746.3 1551.3 L748.3 1551.5 L750.3 1551.8 L752.3 1552.0 L754.3 1552.2 L756.3 1552.4 L758.3 1552.6 L760.3 1552.8 L762.3 1553.0 L764.2 1553.2 L766.2 1553.4 L768.2 1553.5 L770.2 1553.7 L772.2 1553.8 L774.2 1554.0 L776.2 1554.1 L778.1 1554.3 L780.1 1554.4 L782.1 1554.5 L784.1 1554.6 L786.1 1554.7 L788.1 1554.8 L790.0 1554.9 L792.0 1555.0 L794.0 1555.1 L796.0 1555.1 L798.0 1555.2 L800.0 1555.2 L801.9 1555.2 L803.9 1555.3 L805.9 1555.3 L807.9 1555.3 L809.9 1555.3 L811.8 1555.2 L813.8 1555.2 L815.8 1555.2 L817.8 1555.1 L819.8 1555.1 L821.7 1555.0 L823.7 1554.9 L825.7 1554.8 L827.7 1554.7 L829.7 1554.6 L831.7 1554.5 L833.6 1554.4 L835.6 1554.2 L837.6 1554.1 L839.6 1553.9 L841.6 1553.7 L843.5 1553.6 L845.5 1553.4 L847.5 1553.2 L849.5 1553.0 L851.4 1552.7 L853.4 1552.5 L855.4 1552.3 L857.4 1552.0 L859.3 1551.8 L861.3 1551.5 L863.3 1551.3 L865.3 1551.0 L867.2 1550.7 L869.2 1550.4 L871.2 1550.1 L873.2 1549.8 L875.1 1549.5 L877.1 1549.1 L879.1 1548.8 L881.0 1548.5 L883.0 1548.1 L885.0 1547.8 L886.9 1547.4 L888.9 1547.0 L890.9 1546.6 L892.8 1546.2 L894.8 1545.8 L896.8 1545.4 L898.7 1545.0 L900.7 1544.6 L902.6 1544.2 L904.6 1543.7 L906.5 1543.3 L908.5 1542.9 L910.5 1542.4 L912.4 1541.9 L914.4 1541.5 L916.3 1541.0 L918.3 1540.5 L920.2 1540.0 L922.2 1539.5 L924.1 1539.0 L926.1 1538.5 L928.0 1538.0 L930.0 1537.5 L931.9 1537.0 L933.8 1536.4 L935.8 1535.9 L937.7 1535.3 L939.7 1534.8 L941.6 1534.2 L943.5 1533.7 L945.5 1533.1 L947.4 1532.5 L949.3 1531.9 L951.3 1531.4 L953.2 1530.8 L955.1 1530.2 L957.0 1529.6 L959.0 1529.0 L960.9 1528.4 L962.8 1527.7 L964.7 1527.1 L966.6 1526.5 L968.6 1525.9 L970.5 1525.2 L972.4 1524.6 L974.3 1523.9 L976.2 1523.3 L978.1 1522.6 L980.0 1522.0 L981.9 1521.3 L983.8 1520.7 L985.7 1520.0 L987.6 1519.3 L989.5 1518.6 L991.4 1517.9 L993.3 1517.3 L995.2 1516.6 L997.1 1515.9 L999.0 1515.2 L1000.9 1514.5 L1002.8 1513.8 L1004.6 1513.1 L1006.5 1512.3 L1008.4 1511.6 L1010.3 1510.9 L1012.1 1510.2 L1014.0 1509.5 L1015.9 1508.7 L1017.8 1508.0 L1019.6 1507.3 L1021.5 1506.5 L1023.4 1505.8 L1025.2 1505.0 L1027.1 1504.3 L1028.9 1503.5 L1030.8 1502.8 L1032.6 1502.0 L1034.5 1501.2 L1036.3 1500.5 L1038.2 1499.7 L1040.0 1498.9 L1041.9 1498.1 L1043.7 1497.3 L1045.5 1496.5 L1047.4 1495.8 L1049.2 1495.0 L1051.0 1494.2 L1052.9 1493.3 L1054.7 1492.5 L1056.5 1491.7 L1058.3 1490.9 L1060.1 1490.1 L1061.9 1489.3 L1063.8 1488.4 L1065.6 1487.6 L1067.4 1486.8 L1069.2 1485.9 L1071.0 1485.1 L1072.8 1484.2 L1074.6 1483.4 L1076.4 1482.5 L1078.2 1481.6 L1080.0 1480.8 L1081.8 1479.9 L1083.5 1479.0 L1085.3 1478.2 L1087.1 1477.3 L1088.9 1476.4 L1090.7 1475.5 L1092.4 1474.6 L1094.2 1473.7 L1096.0 1472.8 L1097.7 1471.9 L1099.5 1471.0 L1101.3 1470.0 L1103.0 1469.1 L1104.8 1468.2 L1106.5 1467.3 L1108.3 1466.3 L1110.0 1465.4 L1111.8 1464.4 L1113.5 1463.5 L1115.3 1462.5 L1117.0 1461.6 L1118.7 1460.6 L1120.5 1459.7 L1122.2 1458.7 L1123.9 1457.7 L1125.6 1456.7 L1127.3 1455.7 L1129.1 1454.8 L1130.8 1453.8 L1132.5 1452.8 L1134.2 1451.8 L1135.9 1450.7 L1137.6 1449.7 L1139.3 1448.7 L1141.0 1447.7 L1142.7 1446.7 L1144.4 1445.6 L1146.1 1444.6 L1147.8 1443.6 L1149.4 1442.5 L1151.1 1441.5 L1152.8 1440.4 L1154.5 1439.3 L1156.1 1438.3 L1157.8 1437.2 L1159.5 1436.1 L1161.1 1435.1 L1162.8 1434.0 L1164.4 1432.9 L1166.1 1431.8 L1167.7 1430.7 L1169.4 1429.6 L1171.0 1428.5 L1172.7 1427.4 L1174.3 1426.2 L1175.9 1425.1 L1177.6 1424.0 L1179.2 1422.8 L1180.8 1421.7 L1182.4 1420.6 L1184.0 1419.4 L1185.7 1418.3 L1187.3 1417.1 L1188.9 1415.9 L1190.5 1414.8 L1192.1 1413.6 L1193.7 1412.4 L1195.3 1411.2 L1196.9 1410.0 L1198.4 1408.8 L1200.0 1407.6 L1201.6 1406.4 L1203.2 1405.2 L1204.8 1404.0 L1206.3 1402.8 L1207.9 1401.5 L1209.5 1400.3 L1211.0 1399.1 L1212.6 1397.8 L1214.1 1396.6 L1215.7 1395.3 L1217.2 1394.1 L1218.8 1392.8 L1220.3 1391.5 L1221.8 1390.3 L1223.4 1389.0 L1224.9 1387.7 L1226.5 1386.4 L1228.0 1385.1 L1229.5 1383.9 L1231.0 1382.6 L1232.6 1381.3 L1234.1 1380.0 L1235.6 1378.7 L1237.1 1377.4 L1238.6 1376.0 L1240.1 1374.7 L1241.6 1373.4 L1243.2 1372.1 L1244.7 1370.8 L1246.2 1369.5 L1247.7 1368.1 L1249.2 1366.8 L1250.7 1365.5 L1252.2 1364.1 L1253.7 1362.8 L1255.2 1361.5 L1256.7 1360.1 L1258.2 1358.8 L1259.6 1357.4 L1261.1 1356.1 L1262.6 1354.7 L1264.1 1353.4 L1265.6 1352.0 L1267.1 1350.7 L1268.6 1349.3 L1270.1 1348.0 L1271.5 1346.6 L1273.0 1345.3 L1274.5 1343.9 L1276.0 1342.6 L1277.5 1341.2 L1279.0 1339.9 L1280.5 1338.5 L1281.9 1337.1 L1283.4 1335.8 L1284.9 1334.4 L1286.4 1333.1 L1287.9 1331.7 L1289.3 1330.3 L1290.8 1329.0 L1292.3 1327.6 L1293.8 1326.3 L1295.3 1324.9 L1296.8 1323.6 L1298.2 1322.2 L1299.7 1320.8 L1301.2 1319.5 L1302.7 1318.1 L1304.2 1316.8 L1305.7 1315.4 L1307.2 1314.1 L1308.7 1312.7 L1310.1 1311.4 L1311.6 1310.0 L1313.1 1308.7 L1314.6 1307.4 L1316.1 1306.0 L1317.6 1304.7 L1319.1 1303.4 L1320.6 1302.0 L1322.1 1300.7 L1323.6 1299.4 L1325.1 1298.0 L1326.6 1296.7 L1328.1 1295.4 L1329.6 1294.1 L1331.1 1292.8 L1332.7 1291.4 L1334.2 1290.1 L1335.7 1288.8 L1337.2 1287.5 L1338.7 1286.2 L1340.2 1284.9 L1341.8 1283.6 L1343.3 1282.4 L1344.8 1281.1 L1346.4 1279.8 L1347.9 1278.5 L1349.4 1277.2 L1351.0 1276.0 L1352.5 1274.7 L1354.1 1273.4 L1355.6 1272.2 L1357.2 1270.9 L1358.7 1269.7 L1360.3 1268.4 L1361.8 1267.2 L1363.4 1266.0 L1364.9 1264.7 L1366.5 1263.5 L1368.1 1262.3 L1369.6 1261.0 L1371.2 1259.8 L1372.8 1258.6 L1374.3 1257.4 L1375.9 1256.2 L1377.5 1255.0 L1379.1 1253.7 L1380.6 1252.5 L1382.2 1251.3 L1383.8 1250.1 L1385.4 1248.9 L1386.9 1247.7 L1388.5 1246.5 L1390.1 1245.3 L1391.7 1244.1 L1393.2 1242.9 L1394.8 1241.7 L1396.4 1240.4 L1398.0 1239.2 L1399.5 1238.0 L1401.1 1236.8 L1402.7 1235.6 L1404.2 1234.4 L1405.8 1233.2 L1407.4 1232.0 L1408.9 1230.7 L1410.5 1229.5 L1412.1 1228.3 L1413.6 1227.1 L1415.2 1225.8 L1416.7 1224.6 L1418.3 1223.4 L1419.8 1222.1 L1421.4 1220.9 L1422.9 1219.6 L1424.5 1218.4 L1426.0 1217.1 L1427.6 1215.9 L1429.1 1214.6 L1430.6 1213.4 L1432.2 1212.1 L1433.7 1210.9 L1435.3 1209.6 L1436.8 1208.4 L1438.3 1207.1 L1439.9 1205.8 L1441.4 1204.6 L1442.9 1203.3 L1444.5 1202.0 L1446.0 1200.8 L1447.5 1199.5 L1449.1 1198.2 L1450.6 1197.0 L1452.1 1195.7 L1453.7 1194.4 L1455.2 1193.2 L1456.7 1191.9 L1458.3 1190.6 L1459.8 1189.4 L1461.3 1188.1 L1462.9 1186.8 L1464.4 1185.5 L1465.9 1184.3 L1467.5 1183.0 L1469.0 1181.7 L1470.6 1180.5 L1472.1 1179.2 L1473.6 1177.9 L1475.2 1176.6 L1476.7 1175.4 L1478.3 1174.1 L1479.8 1172.8 L1481.4 1171.6 L1482.9 1170.3 L1484.5 1169.0 L1486.0 1167.8 L1487.6 1166.5 L1489.2 1165.3 L1490.7 1164.0 L1492.3 1162.7 L1493.9 1161.5 L1495.4 1160.2 L1497.0 1159.0 L1498.6 1157.7 L1500.2 1156.5 L1501.7 1155.2 L1503.3 1154.0 L1504.9 1152.8 L1506.5 1151.5 L1508.1 1150.3 L1509.7 1149.0 L1511.3 1147.8 L1512.9 1146.6 L1514.5 1145.4 L1516.1 1144.1 L1517.7 1142.9 L1519.4 1141.7 L1521.0 1140.5 L1522.6 1139.3 L1524.3 1138.1 L1525.9 1136.8 L1527.5 1135.6 L1529.2 1134.4 L1530.8 1133.3 L1532.5 1132.1 L1534.2 1130.9 L1535.8 1129.7 L1537.5 1128.5 L1539.2 1127.3 L1540.8 1126.2 L1542.5 1125.0 L1544.2 1123.8 L1545.9 1122.7 L1547.6 1121.5 L1549.3 1120.4 L1551.0 1119.2 L1552.8 1118.1 L1554.5 1117.0 L1556.2 1115.9 L1557.9 1114.8 L1559.7 1113.8 L1561.4 1112.7 L1563.2 1111.7 L1564.9 1110.6 L1566.7 1109.6 L1568.5 1108.7 L1570.2 1107.7 L1572.0 1106.8 L1573.8 1105.9 L1575.6 1105.0 L1577.4 1104.1 L1579.2 1103.3 L1581.0 1102.5 L1582.8 1101.7 L1584.6 1101.0 L1586.5 1100.2 L1588.3 1099.6 L1590.1 1098.9 L1592.0 1098.3 L1593.8 1097.7 L1595.7 1097.2 L1597.5 1096.7 L1599.4 1096.3 L1601.3 1095.8 L1603.2 1095.5 L1605.0 1095.1 L1606.9 1094.9 L1608.8 1094.6 L1610.7 1094.4 L1612.6 1094.3 L1614.6 1094.2 L1616.5 1094.1 L1618.4 1094.1 L1620.3 1094.2 L1622.3 1094.3 L1624.2 1094.4 L1626.1 1094.6 L1628.1 1094.8 L1630.0 1095.1 L1631.9 1095.4 L1633.9 1095.8 L1635.8 1096.2 L1637.7 1096.6 L1639.6 1097.1 L1641.5 1097.6 L1643.4 1098.1 L1645.3 1098.7 L1647.2 1099.3 L1649.1 1099.9 L1650.9 1100.6 L1652.8 1101.3 L1654.6 1102.1 L1656.4 1102.8 L1658.2 1103.6 L1660.0 1104.4 L1661.8 1105.3 L1663.5 1106.2 L1665.3 1107.1 L1667.0 1108.0 L1668.7 1109.0 L1670.3 1109.9 L1672.0 1110.9 L1673.7 1112.0 L1675.3 1113.0 L1676.9 1114.1 L1678.5 1115.2 L1680.1 1116.3 L1681.6 1117.4 L1683.2 1118.6 L1684.7 1119.8 L1686.2 1121.0 L1687.7 1122.2 L1689.2 1123.5 L1690.7 1124.7 L1692.1 1126.0 L1693.6 1127.3 L1695.0 1128.6 L1696.4 1130.0 L1697.8 1131.3 L1699.2 1132.7 L1700.6 1134.1 L1702.0 1135.5 L1703.3 1137.0 L1704.6 1138.4 L1706.0 1139.9 L1707.3 1141.4 L1708.6 1142.9 L1709.9 1144.4 L1711.1 1145.9 L1712.4 1147.4 L1713.6 1149.0 L1714.9 1150.6 L1716.1 1152.2 L1717.3 1153.8 L1718.5 1155.4 L1719.7 1157.0 L1720.9 1158.6 L1722.1 1160.3 L1723.3 1161.9 L1724.4 1163.6 L1725.6 1165.3 L1726.7 1167.0 L1727.8 1168.7 L1729.0 1170.4 L1730.1 1172.1 L1731.2 1173.8 L1732.3 1175.6 L1733.4 1177.3 L1734.4 1179.1 L1735.5 1180.8 L1736.6 1182.6 L1737.6 1184.4 L1738.7 1186.2 L1739.7 1188.0 L1740.8 1189.8 L1741.8 1191.6 L1742.8 1193.4 L1743.8 1195.2 L1744.8 1197.0 L1745.9 1198.8 L1746.9 1200.6 L1747.9 1202.5 L1748.8 1204.3 L1749.8 1206.1 L1750.8 1208.0 L1751.8 1209.8 L1752.8 1211.7 L1753.7 1213.5 L1754.7 1215.3 L1755.7 1217.2 L1756.6 1219.0 L1757.6 1220.9 L1758.5 1222.7 L1759.5 1224.6 L1760.4 1226.4 L1761.4 1228.3 L1762.3 1230.1 L1763.3 1231.9 L1764.2 1233.8 L1765.2 1235.6 L1766.1 1237.4 L1767.0 1239.3 L1768.0 1241.1 L1768.9 1242.9 L1769.8 1244.7 L1770.8 1246.6 L1771.7 1248.4 L1772.6 1250.2 L1773.6 1252.0 L1774.5 1253.8 L1775.4 1255.5 L1776.4 1257.3 L1777.3 1259.1 L1778.2 1260.9 L1779.2 1262.7 L1780.1 1264.4 L1781.0 1266.2 L1782.0 1268.0 L1782.9 1269.7 L1783.8 1271.5 L1784.8 1273.3 L1785.7 1275.0 L1786.6 1276.8 L1787.5 1278.5 L1788.5 1280.2 L1789.4 1282.0 L1790.3 1283.7 L1791.2 1285.5 L1792.2 1287.2 L1793.1 1288.9 L1794.0 1290.7 L1794.9 1292.4 L1795.8 1294.1 L1796.8 1295.8 L1797.7 1297.6 L1798.6 1299.3 L1799.5 1301.0 L1800.4 1302.7 L1801.3 1304.5 L1802.2 1306.2 L1803.2 1307.9 L1804.1 1309.6 L1805.0 1311.3 L1805.9 1313.0 L1806.8 1314.8 L1807.7 1316.5 L1808.6 1318.2 L1809.5 1319.9 L1810.4 1321.6 L1811.3 1323.4 L1812.2 1325.1 L1813.1 1326.8 L1814.0 1328.5 L1814.9 1330.2 L1815.8 1332.0 L1816.7 1333.7 L1817.5 1335.4 L1818.4 1337.1 L1819.3 1338.9 L1820.2 1340.6 L1821.1 1342.3 L1822.0 1344.0 L1822.8 1345.8 L1823.7 1347.5 L1824.6 1349.2 L1825.5 1351.0 L1826.3 1352.7 L1827.2 1354.5 L1828.1 1356.2 L1829.0 1358.0 L1829.8 1359.7 L1830.7 1361.5 L1831.5 1363.2 L1832.4 1365.0 L1833.3 1366.8 L1834.1 1368.5 L1835.0 1370.3 L1835.8 1372.1 L1836.7 1373.8 L1837.5 1375.6 L1838.4 1377.4 L1839.2 1379.2 L1840.1 1381.0 L1840.9 1382.8 L1841.7 1384.6 L1842.6 1386.4 L1843.4 1388.2 L1844.3 1390.0 L1845.1 1391.8 L1845.9 1393.6 L1846.8 1395.4 L1847.6 1397.2 L1848.4 1399.0 L1849.3 1400.8 L1850.1 1402.6 L1851.0 1404.4 L1851.8 1406.3 L1852.6 1408.1 L1853.5 1409.9 L1854.3 1411.7 L1855.1 1413.6 L1856.0 1415.4 L1856.8 1417.2 L1857.6 1419.1 L1858.5 1420.9 L1859.3 1422.7 L1860.2 1424.6 L1861.0 1426.4 L1861.8 1428.2 L1862.7 1430.1 L1863.5 1431.9 L1864.4 1433.8 L1865.2 1435.6 L1866.1 1437.4 L1866.9 1439.3 L1867.8 1441.1 L1868.6 1443.0 L1869.5 1444.8 L1870.3 1446.7 L1871.2 1448.5 L1872.1 1450.4 L1872.9 1452.2 L1873.8 1454.1 L1874.6 1455.9 L1875.5 1457.8 L1876.4 1459.6 L1877.3 1461.5 L1878.1 1463.3 L1879.0 1465.2 L1879.9 1467.0 L1880.8 1468.9 L1881.7 1470.7 L1882.6 1472.6 L1883.5 1474.4 L1884.4 1476.3 L1885.3 1478.2 L1886.2 1480.0 L1887.1 1481.9 L1888.0 1483.7 L1888.9 1485.6 L1889.8 1487.4 L1890.7 1489.2 L1891.7 1491.1 L1892.6 1492.9 L1893.5 1494.8 L1894.5 1496.6 L1895.4 1498.4 L1896.4 1500.2 L1897.4 1502.1 L1898.3 1503.9 L1899.3 1505.7 L1900.3 1507.5 L1901.3 1509.3 L1902.3 1511.1 L1903.3 1512.8 L1904.3 1514.6 L1905.4 1516.4 L1906.4 1518.1 L1907.5 1519.8 L1908.5 1521.6 L1909.6 1523.3 L1910.7 1525.0 L1911.8 1526.7 L1912.9 1528.4 L1914.0 1530.0 L1915.1 1531.7 L1916.2 1533.3 L1917.4 1535.0 L1918.6 1536.6 L1919.7 1538.2 L1920.9 1539.8 L1922.1 1541.3 L1923.3 1542.9 L1924.6 1544.4 L1925.8 1545.9 L1927.1 1547.4 L1928.3 1548.9 L1929.6 1550.4 L1930.9 1551.8 L1932.3 1553.3 L1933.6 1554.7 L1934.9 1556.1 L1936.3 1557.4 L1937.7 1558.8 L1939.1 1560.1 L1940.5 1561.4 L1942.0 1562.7 L1943.4 1563.9 L1944.9 1565.1 L1946.4 1566.3 L1947.9 1567.5 L1949.4 1568.7 L1951.0 1569.8 L1952.6 1570.9 L1954.2 1572.0 L1955.8 1573.1 L1957.4 1574.1 L1959.1 1575.1 L1960.7 1576.1 L1962.4 1577.0 L1964.1 1578.0 L1965.8 1578.9 L1967.6 1579.7 L1969.3 1580.6 L1971.1 1581.4 L1972.8 1582.2 L1974.6 1583.0 L1976.4 1583.8 L1978.2 1584.5 L1980.1 1585.3 L1981.9 1586.0 L1983.8 1586.6 L1985.6 1587.3 L1987.5 1587.9 L1989.4 1588.5 L1991.3 1589.1 L1993.2 1589.7 L1995.1 1590.2 L1997.0 1590.7 L1999.0 1591.2 L2000.9 1591.7 L2002.9 1592.1 L2004.8 1592.6 L2006.8 1593.0 L2008.7 1593.4 L2010.7 1593.8 L2012.7 1594.1 L2014.7 1594.4 L2016.7 1594.8 L2018.7 1595.1 L2020.7 1595.3 L2022.6 1595.6 L2024.6 1595.8 L2026.7 1596.0 L2028.7 1596.2 L2030.7 1596.4 L2032.7 1596.6 L2034.7 1596.7 L2036.7 1596.9 L2038.7 1597.0 L2040.7 1597.0 L2042.8 1597.0 L2044.8 1597.0 L2046.8 1597.0 L2048.8 1597.0 L2050.9 1597.0 L2052.9 1597.0 L2054.9 1597.0 L2056.9 1597.0 L2059.0 1597.0 L2061.0 1597.0 L2063.0 1597.0 L2065.0 1597.0 L2067.1 1597.0 L2069.1 1597.0 L2071.1 1597.0 L2073.1 1597.0 L2075.2 1597.0 L2077.2 1597.0 L2079.2 1597.0 L2081.2 1597.0 L2083.2 1597.0 L2085.3 1597.0 L2087.3 1597.0 L2089.3 1597.0 L2091.3 1597.0 L2093.3 1597.0 L2095.3 1596.9 L2097.3 1596.9 L2099.3 1596.8 L2101.3 1596.8 L2103.3 1596.7 L2105.3 1596.7 L2107.3 1596.6 L2109.3 1596.6 L2111.3 1596.6 L2113.3 1596.5 L2115.3 1596.5 L2117.2 1596.5 L2119.2 1596.5 L2121.2 1596.5 L2123.2 1596.4 L2125.2 1596.4 L2127.2 1596.5 L2129.1 1596.5 L2131.1 1596.5 L2133.1 1596.5 L2135.1 1596.6 L2137.0 1596.6 L2139.0 1596.7 L2141.0 1596.7 L2143.0 1596.8 L2144.9 1596.9 L2146.9 1597.0 L2148.9 1597.0 L2150.8 1597.0 L2152.8 1597.0 L2154.8 1597.0 L2156.7 1597.0" fill="none" stroke="#000" stroke-width="11" stroke-linecap="round" stroke-linejoin="round"/>
<path d="M237.2 1596.6 L239.2 1596.6 L241.2 1596.6 L243.2 1596.7 L245.1 1596.7 L247.1 1596.7 L249.1 1596.7 L251.1 1596.7 L253.1 1596.8 L255.1 1596.8 L257.1 1596.8 L259.1 1596.8 L261.1 1596.8 L263.1 1596.9 L265.1 1596.9 L267.1 1596.9 L269.1 1596.9 L271.1 1596.9 L273.1 1596.9 L275.1 1597.0 L277.1 1597.0 L279.1 1597.0 L281.1 1597.0 L283.0 1597.0 L285.0 1597.0 L287.0 1597.0 L289.0 1597.0 L291.0 1597.0 L293.0 1597.0 L295.0 1597.0 L297.0 1597.0 L299.0 1597.0 L301.0 1597.0 L303.0 1597.0 L305.0 1597.0 L307.0 1597.0 L309.0 1597.0 L311.0 1597.0 L313.0 1597.0 L315.0 1597.0 L317.0 1597.0 L319.0 1597.0 L321.0 1597.0 L323.0 1597.0 L325.0 1597.0 L327.0 1597.0 L329.0 1597.0 L331.0 1597.0 L333.0 1597.0 L335.0 1597.0 L337.0 1597.0 L338.9 1597.0 L340.9 1597.0 L342.9 1597.0 L344.9 1597.0 L346.9 1597.0 L348.9 1597.0 L350.9 1597.0 L352.9 1597.0 L354.9 1597.0 L356.9 1597.0 L358.9 1597.0 L360.9 1597.0 L362.9 1597.0 L364.9 1597.0 L366.9 1597.0 L368.9 1597.0 L370.9 1597.0 L372.9 1597.0 L374.9 1597.0 L376.9 1597.0 L378.9 1597.0 L380.9 1597.0 L382.9 1597.0 L384.9 1597.0 L386.9 1597.0 L388.9 1597.0 L390.9 1597.0 L392.9 1597.0 L394.9 1597.0 L396.9 1597.0 L398.9 1597.0 L400.9 1597.0 L402.9 1597.0 L404.9 1597.0 L406.9 1597.0 L408.9 1597.0 L410.9 1597.0 L412.9 1597.0 L414.9 1597.0 L416.9 1597.0 L418.9 1597.0 L420.9 1597.0 L422.9 1597.0 L424.9 1597.0 L426.9 1597.0 L428.9 1597.0 L430.9 1596.9 L432.9 1596.9 L434.9 1596.9 L436.9 1596.9 L438.9 1596.9 L440.9 1596.9 L442.9 1596.8 L444.9 1596.8 L446.9 1596.8 L448.9 1596.8 L450.9 1596.8 L452.9 1596.7 L454.9 1596.7 L456.9 1596.7 L458.9 1596.7 L460.9 1596.7 L462.9 1596.6 L464.9 1596.6 L466.9 1596.6 L468.9 1596.6 L470.9 1596.5 L472.9 1596.5 L474.9 1596.5 L476.9 1596.5 L478.9 1596.4 L480.9 1596.4 L482.9 1596.4 L484.9 1596.4 L486.9 1596.3 L488.9 1596.3 L490.9 1596.3 L492.9 1596.3 L494.9 1596.2 L496.9 1596.2 L498.9 1596.2 L500.9 1596.1 L502.9 1596.1 L504.9 1596.1 L506.9 1596.1 L508.9 1596.0 L510.9 1596.0 L512.9 1596.0 L514.9 1595.9 L516.9 1595.9 L518.9 1595.9 L520.9 1595.8 L522.9 1595.8 L524.9 1595.8 L526.9 1595.7 L528.9 1595.7 L530.9 1595.7 L532.9 1595.6 L534.9 1595.6 L536.9 1595.5 L538.9 1595.5 L540.9 1595.5 L542.9 1595.4 L544.9 1595.4 L546.9 1595.4 L548.9 1595.3 L550.9 1595.3 L552.9 1595.2 L554.9 1595.2 L556.9 1595.2 L558.9 1595.1 L560.9 1595.1 L562.9 1595.0 L564.9 1595.0 L566.9 1595.0 L568.9 1594.9 L570.9 1594.9 L572.9 1594.8 L574.9 1594.8 L576.9 1594.7 L578.9 1594.7 L580.9 1594.7 L582.9 1594.6 L584.9 1594.6 L586.9 1594.5 L588.9 1594.5 L590.9 1594.4 L592.9 1594.4 L594.9 1594.3 L596.9 1594.3 L598.9 1594.2 L600.9 1594.2 L602.9 1594.1 L604.9 1594.1 L606.9 1594.1 L608.9 1594.0 L610.9 1594.0 L612.9 1593.9 L614.9 1593.9 L616.9 1593.8 L618.9 1593.8 L620.9 1593.7 L622.9 1593.6 L624.9 1593.6 L626.9 1593.5 L628.9 1593.5 L630.9 1593.4 L632.9 1593.4 L634.9 1593.3 L636.9 1593.3 L638.9 1593.2 L640.9 1593.2 L642.9 1593.1 L644.9 1593.1 L646.9 1593.0 L648.9 1592.9 L650.9 1592.9 L652.9 1592.8 L654.9 1592.8 L656.9 1592.7 L658.9 1592.7 L660.9 1592.6 L662.9 1592.5 L664.9 1592.5 L666.9 1592.4 L668.9 1592.4 L670.9 1592.3 L672.9 1592.2 L674.9 1592.2 L677.0 1592.1 L679.0 1592.0 L681.0 1592.0 L683.0 1591.9 L685.0 1591.9 L687.0 1591.8 L689.0 1591.7 L691.0 1591.7 L693.0 1591.6 L695.0 1591.5 L697.0 1591.5 L699.0 1591.4 L701.0 1591.3 L703.0 1591.3 L705.0 1591.2 L707.0 1591.1 L709.0 1591.1 L711.0 1591.0 L713.0 1590.9 L715.0 1590.9 L717.0 1590.8 L719.0 1590.7 L721.0 1590.7 L723.0 1590.6 L725.0 1590.5 L726.9 1590.5 L728.9 1590.4 L730.9 1590.3 L732.9 1590.2 L734.9 1590.2 L736.9 1590.1 L738.9 1590.0 L740.9 1590.0 L742.9 1589.9 L744.9 1589.8 L746.9 1589.7 L748.9 1589.7 L750.9 1589.6 L752.9 1589.5 L754.9 1589.4 L756.9 1589.4 L758.9 1589.3 L760.9 1589.2 L762.9 1589.1 L764.9 1589.1 L766.9 1589.0 L768.9 1588.9 L770.9 1588.8 L772.9 1588.8 L774.9 1588.7 L776.9 1588.6 L778.9 1588.5 L780.9 1588.4 L782.9 1588.4 L784.9 1588.3 L786.9 1588.2 L788.9 1588.1 L790.9 1588.0 L792.9 1588.0 L794.9 1587.9 L796.9 1587.8 L798.9 1587.7 L800.9 1587.6 L802.9 1587.5 L804.9 1587.5 L806.9 1587.4 L808.9 1587.3 L810.9 1587.2 L812.9 1587.1 L814.9 1587.0 L816.9 1587.0 L818.9 1586.9 L820.9 1586.8 L822.9 1586.7 L824.9 1586.6 L826.9 1586.5 L828.9 1586.4 L830.9 1586.4 L832.9 1586.3 L834.9 1586.2 L836.9 1586.1 L838.9 1586.0 L840.9 1585.9 L842.9 1585.8 L844.8 1585.7 L846.8 1585.6 L848.8 1585.5 L850.8 1585.5 L852.8 1585.4 L854.8 1585.3 L856.8 1585.2 L858.8 1585.1 L860.8 1585.0 L862.8 1584.9 L864.8 1584.8 L866.8 1584.7 L868.8 1584.6 L870.8 1584.5 L872.8 1584.4 L874.8 1584.3 L876.8 1584.3 L878.8 1584.2 L880.8 1584.1 L882.8 1584.0 L884.8 1583.9 L886.8 1583.8 L888.8 1583.7 L890.8 1583.6 L892.7 1583.5 L894.7 1583.4 L896.7 1583.3 L898.7 1583.2 L900.7 1583.1 L902.7 1583.0 L904.7 1582.9 L906.7 1582.8 L908.7 1582.7 L910.7 1582.6 L912.7 1582.5 L914.7 1582.4 L916.7 1582.3 L918.7 1582.2 L920.7 1582.1 L922.7 1582.0 L924.7 1581.9 L926.7 1581.8 L928.6 1581.7 L930.6 1581.6 L932.6 1581.5 L934.6 1581.4 L936.6 1581.3 L938.6 1581.2 L940.6 1581.1 L942.6 1580.9 L944.6 1580.8 L946.6 1580.7 L948.6 1580.6 L950.6 1580.5 L952.6 1580.4 L954.6 1580.3 L956.5 1580.2 L958.5 1580.1 L960.5 1580.0 L962.5 1579.9 L964.5 1579.8 L966.5 1579.7 L968.5 1579.6 L970.5 1579.4 L972.5 1579.3 L974.5 1579.2 L976.5 1579.1 L978.5 1579.0 L980.4 1578.9 L982.4 1578.8 L984.4 1578.7 L986.4 1578.6 L988.4 1578.4 L990.4 1578.3 L992.4 1578.2 L994.4 1578.1 L996.4 1578.0 L998.4 1577.9 L1000.4 1577.8 L1002.3 1577.6 L1004.3 1577.5 L1006.3 1577.4 L1008.3 1577.3 L1010.3 1577.2 L1012.3 1577.1 L1014.3 1577.0 L1016.3 1576.8 L1018.3 1576.7 L1020.3 1576.6 L1022.3 1576.5 L1024.2 1576.4 L1026.2 1576.2 L1028.2 1576.1 L1030.2 1576.0 L1032.2 1575.9 L1034.2 1575.8 L1036.2 1575.6 L1038.2 1575.5 L1040.2 1575.4 L1042.2 1575.3 L1044.2 1575.2 L1046.1 1575.0 L1048.1 1574.9 L1050.1 1574.8 L1052.1 1574.7 L1054.1 1574.5 L1056.1 1574.4 L1058.1 1574.3 L1060.1 1574.2 L1062.1 1574.0 L1064.1 1573.9 L1066.0 1573.8 L1068.0 1573.7 L1070.0 1573.5 L1072.0 1573.4 L1074.0 1573.3 L1076.0 1573.1 L1078.0 1573.0 L1080.0 1572.9 L1082.0 1572.8 L1084.0 1572.6 L1086.0 1572.5 L1087.9 1572.4 L1089.9 1572.2 L1091.9 1572.1 L1093.9 1572.0 L1095.9 1571.8 L1097.9 1571.7 L1099.9 1571.6 L1101.9 1571.4 L1103.9 1571.3 L1105.9 1571.2 L1107.9 1571.0 L1109.8 1570.9 L1111.8 1570.8 L1113.8 1570.6 L1115.8 1570.5 L1117.8 1570.4 L1119.8 1570.2 L1121.8 1570.1 L1123.8 1569.9 L1125.8 1569.8 L1127.8 1569.7 L1129.8 1569.5 L1131.7 1569.4 L1133.7 1569.2 L1135.7 1569.1 L1137.7 1569.0 L1139.7 1568.8 L1141.7 1568.7 L1143.7 1568.5 L1145.7 1568.4 L1147.7 1568.2 L1149.7 1568.1 L1151.7 1568.0 L1153.7 1567.8 L1155.7 1567.7 L1157.6 1567.5 L1159.6 1567.4 L1161.6 1567.2 L1163.6 1567.1 L1165.6 1566.9 L1167.6 1566.8 L1169.6 1566.6 L1171.6 1566.5 L1173.6 1566.3 L1175.6 1566.2 L1177.6 1566.0 L1179.6 1565.9 L1181.6 1565.7 L1183.6 1565.6 L1185.6 1565.4 L1187.5 1565.3 L1189.5 1565.1 L1191.5 1565.0 L1193.5 1564.8 L1195.5 1564.7 L1197.5 1564.5 L1199.5 1564.3 L1201.5 1564.2 L1203.5 1564.0 L1205.5 1563.9 L1207.5 1563.7 L1209.5 1563.6 L1211.5 1563.4 L1213.5 1563.2 L1215.5 1563.1 L1217.5 1562.9 L1219.5 1562.8 L1221.5 1562.6 L1223.5 1562.4 L1225.5 1562.3 L1227.5 1562.1 L1229.5 1561.9 L1231.5 1561.8 L1233.4 1561.6 L1235.4 1561.5 L1237.4 1561.3 L1239.4 1561.1 L1241.4 1561.0 L1243.4 1560.8 L1245.4 1560.6 L1247.4 1560.5 L1249.4 1560.3 L1251.4 1560.1 L1253.4 1559.9 L1255.4 1559.8 L1257.4 1559.6 L1259.4 1559.4 L1261.4 1559.3 L1263.4 1559.1 L1265.4 1558.9 L1267.4 1558.7 L1269.4 1558.6 L1271.4 1558.4 L1273.4 1558.2 L1275.4 1558.0 L1277.4 1557.9 L1279.4 1557.7 L1281.4 1557.5 L1283.4 1557.3 L1285.4 1557.2 L1287.4 1557.0 L1289.4 1556.8 L1291.4 1556.6 L1293.4 1556.4 L1295.4 1556.3 L1297.4 1556.1 L1299.4 1555.9 L1301.5 1555.7 L1303.5 1555.5 L1305.5 1555.4 L1307.5 1555.2 L1309.5 1555.0 L1311.5 1554.8 L1313.5 1554.6 L1315.5 1554.4 L1317.5 1554.2 L1319.5 1554.0 L1321.5 1553.9 L1323.5 1553.7 L1325.5 1553.5 L1327.5 1553.3 L1329.5 1553.1 L1331.5 1552.9 L1333.5 1552.7 L1335.5 1552.5 L1337.5 1552.3 L1339.6 1552.1 L1341.6 1551.9 L1343.6 1551.8 L1345.6 1551.6 L1347.6 1551.4 L1349.6 1551.2 L1351.6 1551.0 L1353.6 1550.8 L1355.6 1550.6 L1357.6 1550.4 L1359.6 1550.2 L1361.7 1550.0 L1363.7 1549.8 L1365.7 1549.6 L1367.7 1549.4 L1369.7 1549.2 L1371.7 1549.0 L1373.7 1548.8 L1375.7 1548.6 L1377.7 1548.4 L1379.8 1548.1 L1381.8 1547.9 L1383.8 1547.7 L1385.8 1547.5 L1387.8 1547.3 L1389.8 1547.1 L1391.8 1546.9 L1393.8 1546.7 L1395.9 1546.5 L1397.9 1546.3 L1399.9 1546.1 L1401.9 1545.8 L1403.9 1545.6 L1405.9 1545.4 L1408.0 1545.2 L1410.0 1545.0 L1412.0 1544.8 L1414.0 1544.6 L1416.0 1544.3 L1418.0 1544.1 L1420.1 1543.9 L1422.1 1543.7 L1424.1 1543.5 L1426.1 1543.3 L1428.1 1543.0 L1430.2 1542.8 L1432.2 1542.6 L1434.2 1542.4 L1436.2 1542.1 L1438.2 1541.9 L1440.3 1541.7 L1442.3 1541.5 L1444.3 1541.2 L1446.3 1541.0 L1448.4 1540.8 L1450.4 1540.6 L1452.4 1540.3 L1454.4 1540.1 L1456.4 1539.9 L1458.5 1539.6 L1460.5 1539.4 L1462.5 1539.1 L1464.5 1538.9 L1466.5 1538.7 L1468.5 1538.4 L1470.6 1538.2 L1472.6 1537.9 L1474.6 1537.6 L1476.6 1537.4 L1478.6 1537.1 L1480.6 1536.8 L1482.6 1536.6 L1484.6 1536.3 L1486.6 1536.0 L1488.6 1535.7 L1490.6 1535.4 L1492.6 1535.1 L1494.6 1534.8 L1496.6 1534.5 L1498.6 1534.1 L1500.6 1533.8" fill="none" stroke="#0000ff" stroke-width="11" stroke-linecap="round" stroke-linejoin="round" stroke-dasharray="15.1 26.2" stroke-dashoffset="0.24"/>
<path d="M1500.6 1533.8 L1502.5 1533.5 L1504.5 1533.1 L1506.5 1532.8 L1508.4 1532.5 L1510.4 1532.1 L1512.4 1531.7 L1514.3 1531.3 L1516.3 1531.0 L1518.2 1530.6 L1520.2 1530.2 L1522.1 1529.8 L1524.0 1529.3 L1526.0 1528.9 L1527.9 1528.5 L1529.8 1528.0 L1531.7 1527.6 L1533.7 1527.1 L1535.6 1526.7 L1537.5 1526.2 L1539.4 1525.7 L1541.2 1525.2 L1543.1 1524.7 L1545.0 1524.1 L1546.9 1523.6 L1548.7 1523.1 L1550.6 1522.5 L1552.5 1521.9 L1554.3 1521.4 L1556.2 1520.8 L1558.0 1520.2 L1559.8 1519.5 L1561.6 1518.9 L1563.5 1518.3 L1565.3 1517.6 L1567.1 1516.9 L1568.9 1516.3 L1570.6 1515.6 L1572.4 1514.9 L1574.2 1514.1 L1575.9 1513.4 L1577.7 1512.6 L1579.4 1511.9 L1581.2 1511.1 L1582.9 1510.3 L1584.6 1509.5 L1586.4 1508.7 L1588.1 1507.8 L1589.8 1507.0 L1591.4 1506.1 L1593.1 1505.2 L1594.8 1504.3 L1596.4 1503.4 L1598.1 1502.4 L1599.7 1501.5 L1601.4 1500.5 L1603.0 1499.5 L1604.6 1498.5 L1606.2 1497.5 L1607.8 1496.5 L1609.4 1495.4 L1611.0 1494.3 L1612.5 1493.3 L1614.1 1492.2 L1615.6 1491.1 L1617.2 1489.9 L1618.7 1488.8 L1620.2 1487.6 L1621.7 1486.5 L1623.2 1485.3 L1624.7 1484.1 L1626.2 1482.8 L1627.7 1481.6 L1629.2 1480.4 L1630.6 1479.1 L1632.1 1477.9 L1633.5 1476.6 L1634.9 1475.3 L1636.4 1474.0 L1637.8 1472.6 L1639.2 1471.3 L1640.6 1470.0 L1642.0 1468.6 L1643.3 1467.2 L1644.7 1465.8 L1646.1 1464.5 L1647.4 1463.0 L1648.7 1461.6 L1650.1 1460.2 L1651.4 1458.8 L1652.7 1457.3 L1654.0 1455.8 L1655.3 1454.4 L1656.6 1452.9 L1657.9 1451.4 L1659.2 1449.9 L1660.4 1448.4 L1661.7 1446.9 L1662.9 1445.3 L1664.2 1443.8 L1665.4 1442.2 L1666.6 1440.7 L1667.8 1439.1 L1669.0 1437.5 L1670.2 1435.9 L1671.4 1434.3 L1672.6 1432.7 L1673.8 1431.1 L1674.9 1429.5 L1676.1 1427.9 L1677.2 1426.2 L1678.4 1424.6 L1679.5 1422.9 L1680.6 1421.3 L1681.7 1419.6 L1682.8 1417.9 L1683.9 1416.2 L1685.0 1414.5 L1686.1 1412.8 L1687.2 1411.1 L1688.2 1409.4 L1689.3 1407.7 L1690.3 1406.0 L1691.4 1404.3 L1692.4 1402.6 L1693.4 1400.8 L1694.4 1399.1 L1695.5 1397.3 L1696.5 1395.6 L1697.4 1393.8 L1698.4 1392.1 L1699.4 1390.3 L1700.4 1388.5 L1701.3 1386.8 L1702.3 1385.0 L1703.2 1383.2 L1704.2 1381.4 L1705.1 1379.6 L1706.0 1377.8 L1706.9 1376.0 L1707.8 1374.2 L1708.7 1372.4 L1709.6 1370.6 L1710.5 1368.8 L1711.4 1367.0 L1712.2 1365.2 L1713.1 1363.4 L1714.0 1361.5 L1714.8 1359.7 L1715.7 1357.9 L1716.5 1356.0 L1717.3 1354.2 L1718.1 1352.4 L1719.0 1350.5 L1719.8 1348.7 L1720.6 1346.8 L1721.4 1345.0 L1722.1 1343.1 L1722.9 1341.3 L1723.7 1339.4 L1724.5 1337.6 L1725.2 1335.7 L1726.0 1333.8 L1726.8 1331.9 L1727.5 1330.1 L1728.2 1328.2 L1729.0 1326.3 L1729.7 1324.4 L1730.4 1322.6 L1731.2 1320.7 L1731.9 1318.8 L1732.6 1316.9 L1733.3 1315.0 L1734.0 1313.1 L1734.7 1311.2 L1735.4 1309.3 L1736.1 1307.4 L1736.7 1305.5 L1737.4 1303.6 L1738.1 1301.7 L1738.7 1299.8 L1739.4 1297.9 L1740.1 1296.0 L1740.7 1294.1 L1741.4 1292.1 L1742.0 1290.2 L1742.6 1288.3 L1743.3 1286.4 L1743.9 1284.5 L1744.5 1282.5 L1745.2 1280.6 L1745.8 1278.7 L1746.4 1276.8 L1747.0 1274.8 L1747.6 1272.9 L1748.2 1271.0 L1748.8 1269.0 L1749.4 1267.1 L1750.0 1265.2 L1750.6 1263.2 L1751.2 1261.3 L1751.8 1259.3 L1752.4 1257.4 L1752.9 1255.5 L1753.5 1253.5 L1754.1 1251.6 L1754.7 1249.6 L1755.2 1247.7 L1755.8 1245.7 L1756.4 1243.8 L1756.9 1241.9 L1757.5 1239.9 L1758.0 1238.0 L1758.6 1236.0 L1759.1 1234.1 L1759.7 1232.1 L1760.2 1230.2 L1760.8 1228.2 L1761.3 1226.3 L1761.9 1224.3 L1762.4 1222.3 L1763.0 1220.4 L1763.5 1218.4 L1764.0 1216.5 L1764.6 1214.5 L1765.1 1212.6 L1765.6 1210.6 L1766.2 1208.7 L1766.7 1206.7 L1767.2 1204.8 L1767.8 1202.8 L1768.3 1200.9 L1768.8 1198.9 L1769.3 1197.0 L1769.9 1195.0 L1770.4 1193.1 L1770.9 1191.1 L1771.4 1189.2 L1772.0 1187.2 L1772.5 1185.3 L1773.0 1183.3 L1773.5 1181.4 L1774.0 1179.4 L1774.6 1177.5 L1775.1 1175.5 L1775.6 1173.6 L1776.1 1171.6 L1776.6 1169.7 L1777.1 1167.7 L1777.7 1165.8 L1778.2 1163.8 L1778.7 1161.9 L1779.2 1159.9 L1779.7 1158.0 L1780.2 1156.0 L1780.7 1154.1 L1781.3 1152.1 L1781.8 1150.2 L1782.3 1148.2 L1782.8 1146.3 L1783.3 1144.4 L1783.8 1142.4 L1784.3 1140.5 L1784.8 1138.5 L1785.3 1136.6 L1785.8 1134.6 L1786.3 1132.7 L1786.8 1130.7 L1787.3 1128.8 L1787.8 1126.9 L1788.3 1124.9 L1788.8 1123.0 L1789.3 1121.0 L1789.9 1119.1 L1790.4 1117.1 L1790.9 1115.2 L1791.4 1113.3 L1791.8 1111.3 L1792.3 1109.4 L1792.8 1107.4 L1793.3 1105.5 L1793.8 1103.6 L1794.3 1101.6 L1794.8 1099.7 L1795.3 1097.7 L1795.8 1095.8 L1796.3 1093.8 L1796.8 1091.9 L1797.3 1090.0 L1797.8 1088.0 L1798.3 1086.1 L1798.8 1084.1 L1799.3 1082.2 L1799.8 1080.3 L1800.3 1078.3 L1800.7 1076.4 L1801.2 1074.5 L1801.7 1072.5 L1802.2 1070.6 L1802.7 1068.6 L1803.2 1066.7 L1803.7 1064.8 L1804.2 1062.8 L1804.6 1060.9 L1805.1 1059.0 L1805.6 1057.0 L1806.1 1055.1 L1806.6 1053.1 L1807.1 1051.2 L1807.5 1049.3 L1808.0 1047.3 L1808.5 1045.4 L1809.0 1043.5 L1809.5 1041.5 L1810.0 1039.6 L1810.4 1037.6 L1810.9 1035.7 L1811.4 1033.8 L1811.9 1031.8 L1812.4 1029.9 L1812.8 1028.0 L1813.3 1026.0 L1813.8 1024.1 L1814.3 1022.2 L1814.7 1020.2 L1815.2 1018.3 L1815.7 1016.4 L1816.2 1014.4 L1816.6 1012.5 L1817.1 1010.5 L1817.6 1008.6 L1818.1 1006.7 L1818.5 1004.7 L1819.0 1002.8 L1819.5 1000.9 L1820.0 998.9 L1820.4 997.0 L1820.9 995.1 L1821.4 993.1 L1821.8 991.2 L1822.3 989.3 L1822.8 987.3 L1823.3 985.4 L1823.7 983.5 L1824.2 981.5 L1824.7 979.6 L1825.1 977.7 L1825.6 975.7 L1826.1 973.8 L1826.5 971.9 L1827.0 969.9 L1827.5 968.0 L1827.9 966.1 L1828.4 964.1 L1828.9 962.2 L1829.3 960.3 L1829.8 958.3 L1830.3 956.4 L1830.7 954.5 L1831.2 952.5 L1831.6 950.6 L1832.1 948.7 L1832.6 946.7 L1833.0 944.8 L1833.5 942.9 L1834.0 940.9 L1834.4 939.0 L1834.9 937.1 L1835.3 935.1 L1835.8 933.2 L1836.3 931.3 L1836.7 929.3 L1837.2 927.4 L1837.6 925.5 L1838.1 923.5 L1838.6 921.6 L1839.0 919.7 L1839.5 917.7 L1839.9 915.8 L1840.4 913.9 L1840.9 911.9 L1841.3 910.0 L1841.8 908.1 L1842.2 906.1 L1842.7 904.2 L1843.1 902.3 L1843.6 900.3 L1844.0 898.4 L1844.5 896.5 L1845.0 894.5 L1845.4 892.6 L1845.9 890.7 L1846.3 888.7 L1846.8 886.8 L1847.2 884.9 L1847.7 882.9 L1848.1 881.0 L1848.6 879.1 L1849.1 877.1 L1849.5 875.2 L1850.0 873.3 L1850.4 871.3 L1850.9 869.4 L1851.3 867.4 L1851.8 865.5 L1852.2 863.6 L1852.7 861.6 L1853.1 859.7 L1853.6 857.8 L1854.0 855.8 L1854.5 853.9 L1854.9 852.0 L1855.4 850.0 L1855.8 848.1 L1856.3 846.2 L1856.7 844.2 L1857.2 842.3 L1857.6 840.4 L1858.1 838.4 L1858.5 836.5 L1859.0 834.5 L1859.4 832.6 L1859.9 830.7 L1860.3 828.7 L1860.8 826.8 L1861.2 824.9 L1861.7 822.9 L1862.1 821.0 L1862.6 819.1 L1863.0 817.1 L1863.5 815.2 L1863.9 813.2 L1864.4 811.3 L1864.8 809.4 L1865.3 807.4 L1865.7 805.5 L1866.2 803.6 L1866.6 801.6 L1867.0 799.7 L1867.5 797.7 L1867.9 795.8 L1868.4 793.9 L1868.8 791.9 L1869.3 790.0 L1869.7 788.0 L1870.2 786.1 L1870.6 784.2 L1871.1 782.2 L1871.5 780.3 L1872.0 778.3 L1872.4 776.4 L1872.9 774.5 L1873.3 772.5 L1873.7 770.6 L1874.2 768.6 L1874.6 766.7 L1875.1 764.8 L1875.5 762.8 L1876.0 760.9 L1876.4 758.9 L1876.9 757.0 L1877.3 755.0 L1877.8 753.1 L1878.2 751.2 L1878.6 749.2 L1879.1 747.3 L1879.5 745.3 L1880.0 743.4 L1880.4 741.4 L1880.9 739.5 L1881.3 737.6 L1881.8 735.6 L1882.2 733.7 L1882.7 731.7 L1883.1 729.8 L1883.6 727.8 L1884.0 725.9 L1884.4 723.9 L1884.9 722.0 L1885.3 720.0 L1885.8 718.1 L1886.2 716.2 L1886.7 714.2 L1887.1 712.3 L1887.6 710.3 L1888.0 708.4 L1888.5 706.4 L1888.9 704.5 L1889.3 702.5 L1889.8 700.6 L1890.2 698.6 L1890.7 696.7 L1891.1 694.7 L1891.6 692.8 L1892.0 690.8 L1892.5 688.9 L1892.9 686.9 L1893.4 685.0 L1893.8 683.0 L1894.2 681.1 L1894.7 679.1 L1895.1 677.2 L1895.6 675.2 L1896.0 673.3 L1896.5 671.3 L1896.9 669.4 L1897.4 667.4 L1897.8 665.5 L1898.3 663.5 L1898.7 661.5 L1899.2 659.6 L1899.6 657.6 L1900.1 655.7 L1900.5 653.7 L1901.0 651.8 L1901.4 649.8 L1901.9 647.9 L1902.3 645.9 L1902.7 643.9 L1903.2 642.0 L1903.6 640.0 L1904.1 638.1 L1904.5 636.1 L1905.0 634.2 L1905.4 632.2 L1905.9 630.2 L1906.3 628.3 L1906.8 626.3 L1907.2 624.4 L1907.7 622.4 L1908.1 620.4 L1908.6 618.5 L1909.0 616.5 L1909.5 614.6 L1909.9 612.6 L1910.4 610.6 L1910.8 608.7 L1911.3 606.7 L1911.7 604.8 L1912.2 602.8 L1912.7 600.8 L1913.1 598.9 L1913.6 596.9 L1914.0 594.9 L1914.5 593.0 L1914.9 591.0 L1915.4 589.0 L1915.8 587.1 L1916.3 585.1 L1916.8 583.2 L1917.2 581.2 L1917.7 579.2 L1918.2 577.3 L1918.6 575.3 L1919.1 573.3 L1919.5 571.4 L1920.0 569.4 L1920.5 567.5 L1921.0 565.5 L1921.4 563.5 L1921.9 561.6 L1922.4 559.6 L1922.8 557.7 L1923.3 555.7 L1923.8 553.7 L1924.3 551.8 L1924.7 549.8 L1925.2 547.9 L1925.7 545.9 L1926.2 543.9 L1926.7 542.0 L1927.2 540.0 L1927.7 538.1 L1928.1 536.1 L1928.6 534.1 L1929.1 532.2 L1929.6 530.2 L1930.1 528.3 L1930.6 526.3 L1931.1 524.4 L1931.6 522.4 L1932.1 520.5 L1932.6 518.5 L1933.1 516.6 L1933.6 514.6 L1934.1 512.7 L1934.7 510.7 L1935.2 508.8 L1935.7 506.8 L1936.2 504.9 L1936.7 502.9 L1937.3 501.0 L1937.8 499.0 L1938.3 497.1 L1938.8 495.1 L1939.4 493.2 L1939.9 491.2 L1940.4 489.3 L1941.0 487.4 L1941.5 485.4 L1942.1 483.5 L1942.6 481.5 L1943.2 479.6 L1943.7 477.7 L1944.3 475.7 L1944.8 473.8 L1945.4 471.9 L1945.9 469.9 L1946.5 468.0 L1947.1 466.1 L1947.6 464.1 L1948.2 462.2 L1948.8 460.3 L1949.4 458.3 L1949.9 456.4 L1950.5 454.5 L1951.1 452.6 L1951.7 450.7 L1952.3 448.7 L1952.9 446.8 L1953.5 444.9 L1954.1 443.0 L1954.7 441.1 L1955.3 439.1 L1955.9 437.2 L1956.5 435.3 L1957.1 433.4 L1957.8 431.5 L1958.4 429.6 L1959.0 427.7 L1959.6 425.8 L1960.3 423.9 L1960.9 422.0 L1961.5 420.1 L1962.2 418.2 L1962.8 416.3 L1963.5 414.4 L1964.1 412.5 L1964.8 410.6 L1965.5 408.7 L1966.1 406.8 L1966.8 404.9 L1967.5 403.0 L1968.1 401.1 L1968.8 399.2 L1969.5 397.3 L1970.2 395.5 L1970.9 393.6 L1971.6 391.7 L1972.3 389.8 L1973.0 388.0 L1973.7 386.1 L1974.4 384.2 L1975.1 382.3 L1975.8 380.5 L1976.6 378.6 L1977.3 376.7 L1978.0 374.9 L1978.8 373.0 L1979.5 371.1 L1980.2 369.3 L1981.0 367.4 L1981.7 365.6 L1982.5 363.7 L1983.3 361.9 L1984.0 360.0 L1984.8 358.2 L1985.6 356.3 L1986.4 354.5 L1987.1 352.7 L1987.9 350.8 L1988.7 349.0 L1989.5 347.1 L1990.3 345.3 L1991.1 343.5 L1991.9 341.7 L1992.8 339.8 L1993.6 338.0 L1994.4 336.2 L1995.2 334.4 L1996.1 332.5 L1996.9 330.7 L1997.8 328.9 L1998.6 327.1 L1999.5 325.3 L2000.3 323.5 L2001.2 321.7 L2002.1 319.9 L2003.0 318.1 L2003.8 316.3 L2004.7 314.5 L2005.6 312.7 L2006.5 310.9 L2007.4 309.1 L2008.3 307.3 L2009.2 305.6 L2010.2 303.8 L2011.1 302.0 L2012.0 300.2 L2013.0 298.5 L2013.9 296.7 L2014.9 295.0 L2015.8 293.2 L2016.8 291.5 L2017.8 289.7 L2018.7 288.0 L2019.7 286.3 L2020.7 284.5 L2021.7 282.8 L2022.8 281.1 L2023.8 279.4 L2024.8 277.7 L2025.8 276.0 L2026.9 274.4 L2027.9 272.7 L2029.0 271.1 L2030.1 269.4 L2031.2 267.8 L2032.3 266.1 L2033.4 264.5 L2034.5 262.9 L2035.6 261.3 L2036.7 259.7 L2037.9 258.2 L2039.0 256.6 L2040.2 255.0 L2041.4 253.5 L2042.6 252.0 L2043.8 250.4 L2045.0 248.9 L2046.2 247.4 L2047.4 246.0 L2048.7 244.5 L2049.9 243.1 L2051.2 241.6 L2052.5 240.2 L2053.8 238.8 L2055.1 237.4 L2056.4 236.0 L2057.7 234.7 L2059.1 233.3 L2060.4 232.0 L2061.8 230.7 L2063.2 229.4 L2064.6 228.1 L2066.0 226.8 L2067.4 225.6 L2068.9 224.4 L2070.3 223.1 L2071.8 221.9 L2073.3 220.8 L2074.8 219.6 L2076.3 218.5 L2077.8 217.4 L2079.4 216.3 L2080.9 215.2 L2082.5 214.1 L2084.1 213.1 L2085.7 212.1 L2087.3 211.1 L2089.0 210.1 L2090.6 209.2 L2092.3 208.2 L2094.0 207.3 L2095.7 206.4 L2097.5 205.6 L2099.2 204.7 L2101.0 203.9 L2102.7 203.1 L2104.5 202.4 L2106.3 201.6 L2108.2 200.9 L2110.0 200.2 L2111.9 199.5 L2113.8 198.9 L2115.7 198.2 L2117.6 197.6 L2119.6 197.1 L2121.5 196.5 L2123.5 196.0 L2125.5 195.5 L2127.5 195.1 L2129.6 194.6 L2131.7 194.2 L2133.7 193.8 L2135.8 193.5 L2138.0 193.2 L2140.1 192.9 L2142.3 192.7 L2144.5 192.7 L2146.7 192.7 L2148.9 192.7 L2151.2 192.7 L2153.4 192.7 L2155.7 192.7 L2158.1 192.7" fill="none" stroke="#0000ff" stroke-width="11" stroke-linecap="round" stroke-linejoin="round" stroke-dasharray="15.1 26.2" stroke-dashoffset="32.33"/>
<path d="M237.4 1597.0 L239.4 1597.0 L241.3 1597.0 L243.2 1597.0 L245.2 1597.0 L247.1 1597.0 L249.1 1597.0 L251.0 1597.0 L253.0 1596.9 L255.0 1596.8 L256.9 1596.7 L258.9 1596.6 L260.8 1596.5 L262.8 1596.4 L264.8 1596.3 L266.8 1596.2 L268.7 1596.2 L270.7 1596.1 L272.7 1596.1 L274.7 1596.0 L276.7 1596.0 L278.6 1596.0 L280.6 1595.9 L282.6 1595.9 L284.6 1595.9 L286.6 1595.9 L288.6 1595.9 L290.6 1595.9 L292.6 1595.9 L294.6 1596.0 L296.6 1596.0 L298.6 1596.0 L300.6 1596.0 L302.6 1596.1 L304.6 1596.1 L306.6 1596.2 L308.6 1596.2 L310.7 1596.3 L312.7 1596.3 L314.7 1596.4 L316.7 1596.4 L318.7 1596.5 L320.7 1596.5 L322.7 1596.6 L324.8 1596.7 L326.8 1596.7 L328.8 1596.8 L330.8 1596.9 L332.8 1596.9 L334.8 1597.0 L336.9 1597.0 L338.9 1597.0 L340.9 1597.0 L342.9 1597.0 L344.9 1597.0 L347.0 1597.0 L349.0 1597.0 L351.0 1597.0 L353.0 1597.0 L355.0 1597.0 L357.1 1597.0 L359.1 1597.0 L361.1 1597.0 L363.1 1597.0 L365.1 1597.0 L367.2 1597.0 L369.2 1597.0 L371.2 1597.0 L373.2 1597.0 L375.2 1597.0 L377.2 1597.0 L379.3 1597.0 L381.3 1597.0 L383.3 1597.0 L385.3 1597.0 L387.3 1597.0 L389.3 1597.0 L391.3 1597.0 L393.3 1597.0 L395.3 1597.0 L397.3 1597.0 L399.3 1597.0 L401.3 1597.0 L403.4 1597.0 L405.4 1597.0 L407.4 1597.0 L409.3 1597.0 L411.3 1597.0 L413.3 1597.0 L415.3 1597.0 L417.3 1597.0 L419.3 1597.0 L421.3 1596.8 L423.3 1596.7 L425.3 1596.6 L427.3 1596.4 L429.3 1596.3 L431.3 1596.1 L433.3 1596.0 L435.2 1595.8 L437.2 1595.7 L439.2 1595.5 L441.2 1595.3 L443.2 1595.1 L445.2 1594.9 L447.1 1594.7 L449.1 1594.5 L451.1 1594.3 L453.1 1594.1 L455.0 1593.9 L457.0 1593.7 L459.0 1593.5 L461.0 1593.2 L462.9 1593.0 L464.9 1592.8 L466.9 1592.5 L468.9 1592.3 L470.8 1592.0 L472.8 1591.8 L474.8 1591.5 L476.7 1591.2 L478.7 1591.0 L480.7 1590.7 L482.6 1590.4 L484.6 1590.1 L486.6 1589.8 L488.5 1589.5 L490.5 1589.2 L492.4 1588.9 L494.4 1588.6 L496.4 1588.3 L498.3 1588.0 L500.3 1587.7 L502.2 1587.4 L504.2 1587.0 L506.2 1586.7 L508.1 1586.4 L510.1 1586.0 L512.0 1585.7 L514.0 1585.3 L515.9 1585.0 L517.9 1584.6 L519.8 1584.3 L521.8 1583.9 L523.8 1583.6 L525.7 1583.2 L527.7 1582.8 L529.6 1582.4 L531.6 1582.1 L533.5 1581.7 L535.5 1581.3 L537.4 1580.9 L539.4 1580.5 L541.3 1580.1 L543.3 1579.7 L545.2 1579.3 L547.1 1578.9 L549.1 1578.5 L551.0 1578.1 L553.0 1577.7 L554.9 1577.3 L556.9 1576.9 L558.8 1576.5 L560.8 1576.1 L562.7 1575.6 L564.7 1575.2 L566.6 1574.8 L568.5 1574.4 L570.5 1573.9 L572.4 1573.5 L574.4 1573.1 L576.3 1572.6 L578.3 1572.2 L580.2 1571.8 L582.1 1571.3 L584.1 1570.9 L586.0 1570.4 L588.0 1570.0 L589.9 1569.5 L591.8 1569.1 L593.8 1568.6 L595.7 1568.2 L597.7 1567.7 L599.6 1567.2 L601.5 1566.8 L603.5 1566.3 L605.4 1565.9 L607.4 1565.4 L609.3 1564.9 L611.2 1564.5 L613.2 1564.0 L615.1 1563.5 L617.1 1563.1 L619.0 1562.6 L620.9 1562.1 L622.9 1561.6 L624.8 1561.2 L626.7 1560.7 L628.7 1560.2 L630.6 1559.7 L632.6 1559.3 L634.5 1558.8 L636.4 1558.3 L638.4 1557.8 L640.3 1557.4 L642.3 1556.9 L644.2 1556.4 L646.1 1555.9 L648.1 1555.4 L650.0 1555.0 L652.0 1554.5 L653.9 1554.0 L655.8 1553.5 L657.8 1553.0 L659.7 1552.6 L661.7 1552.1 L663.6 1551.6 L665.5 1551.1 L667.5 1550.6 L669.4 1550.2 L671.4 1549.7 L673.3 1549.2 L675.2 1548.7 L677.2 1548.2 L679.1 1547.8 L681.1 1547.3 L683.0 1546.8 L684.9 1546.3 L686.9 1545.9 L688.8 1545.4 L690.8 1544.9 L692.7 1544.5 L694.7 1544.0 L696.6 1543.5 L698.6 1543.0 L700.5 1542.6 L702.4 1542.1 L704.4 1541.6 L706.3 1541.2 L708.3 1540.7 L710.2 1540.2 L712.2 1539.8 L714.1 1539.3 L716.1 1538.9 L718.0 1538.4 L720.0 1538.0 L721.9 1537.5 L723.9 1537.1 L725.8 1536.6 L727.8 1536.2 L729.7 1535.7 L731.7 1535.3 L733.6 1534.8 L735.6 1534.4 L737.5 1533.9 L739.5 1533.5 L741.4 1533.0 L743.4 1532.6 L745.3 1532.2 L747.3 1531.7 L749.2 1531.3 L751.2 1530.9 L753.2 1530.4 L755.1 1530.0 L757.1 1529.6 L759.0 1529.1 L761.0 1528.7 L762.9 1528.3 L764.9 1527.8 L766.8 1527.4 L768.8 1527.0 L770.7 1526.5 L772.7 1526.1 L774.7 1525.7 L776.6 1525.2 L778.6 1524.8 L780.5 1524.4 L782.5 1523.9 L784.4 1523.5 L786.4 1523.1 L788.3 1522.7 L790.3 1522.2 L792.3 1521.8 L794.2 1521.4 L796.2 1520.9 L798.1 1520.5 L800.1 1520.1 L802.0 1519.6 L804.0 1519.2 L805.9 1518.8 L807.9 1518.3 L809.8 1517.9 L811.8 1517.5 L813.7 1517.0 L815.7 1516.6 L817.6 1516.2 L819.6 1515.7 L821.5 1515.3 L823.5 1514.8 L825.4 1514.4 L827.4 1514.0 L829.3 1513.5 L831.3 1513.1 L833.2 1512.6 L835.2 1512.2 L837.1 1511.7 L839.1 1511.3 L841.0 1510.8 L843.0 1510.4 L844.9 1509.9 L846.9 1509.5 L848.8 1509.0 L850.7 1508.5 L852.7 1508.1 L854.6 1507.6 L856.6 1507.2 L858.5 1506.7 L860.5 1506.2 L862.4 1505.8 L864.3 1505.3 L866.3 1504.8 L868.2 1504.3 L870.1 1503.9 L872.1 1503.4 L874.0 1502.9 L875.9 1502.4 L877.9 1501.9 L879.8 1501.4 L881.7 1500.9 L883.7 1500.4 L885.6 1500.0 L887.5 1499.5 L889.5 1499.0 L891.4 1498.4 L893.3 1497.9 L895.2 1497.4 L897.2 1496.9 L899.1 1496.4 L901.0 1495.9 L902.9 1495.4 L904.9 1494.8 L906.8 1494.3 L908.7 1493.8 L910.6 1493.3 L912.5 1492.7 L914.4 1492.2 L916.4 1491.6 L918.3 1491.1 L920.2 1490.5 L922.1 1490.0 L924.0 1489.4 L925.9 1488.9 L927.8 1488.3 L929.7 1487.8 L931.6 1487.2 L933.5 1486.6 L935.4 1486.0 L937.3 1485.4 L939.2 1484.9 L941.1 1484.3 L943.0 1483.7 L944.9 1483.1 L946.8 1482.5 L948.7 1481.9 L950.6 1481.3 L952.5 1480.7 L954.4 1480.0 L956.3 1479.4 L958.1 1478.8 L960.0 1478.2 L961.9 1477.5 L963.8 1476.9 L965.7 1476.3 L967.6 1475.6 L969.4 1475.0 L971.3 1474.3 L973.2 1473.6 L975.1 1473.0 L976.9 1472.3 L978.8 1471.6 L980.7 1470.9 L982.5 1470.3 L984.4 1469.6 L986.2 1468.9 L988.1 1468.2 L990.0 1467.5 L991.8 1466.8 L993.7 1466.0 L995.5 1465.3 L997.4 1464.6 L999.2 1463.9 L1001.1 1463.1 L1002.9 1462.4 L1004.8 1461.6 L1006.6 1460.9 L1008.5 1460.1 L1010.3 1459.4 L1012.1 1458.6 L1014.0 1457.8 L1015.8 1457.0 L1017.6 1456.3 L1019.5 1455.5 L1021.3 1454.7 L1023.1 1453.9 L1024.9 1453.1 L1026.8 1452.3 L1028.6 1451.4 L1030.4 1450.6 L1032.2 1449.8 L1034.0 1449.0 L1035.8 1448.1 L1037.6 1447.3 L1039.4 1446.5 L1041.3 1445.6 L1043.1 1444.7 L1044.9 1443.9 L1046.7 1443.0 L1048.5 1442.1 L1050.2 1441.3 L1052.0 1440.4 L1053.8 1439.5 L1055.6 1438.6 L1057.4 1437.7 L1059.2 1436.8 L1061.0 1435.9 L1062.7 1435.0 L1064.5 1434.1 L1066.3 1433.2 L1068.1 1432.2 L1069.8 1431.3 L1071.6 1430.4 L1073.4 1429.4 L1075.1 1428.5 L1076.9 1427.5 L1078.7 1426.6 L1080.4 1425.6 L1082.2 1424.7 L1083.9 1423.7 L1085.7 1422.7 L1087.4 1421.8 L1089.1 1420.8 L1090.9 1419.8 L1092.6 1418.8 L1094.4 1417.8 L1096.1 1416.8 L1097.8 1415.8 L1099.6 1414.8 L1101.3 1413.8 L1103.0 1412.7 L1104.7 1411.7 L1106.5 1410.7 L1108.2 1409.7 L1109.9 1408.6 L1111.6 1407.6 L1113.3 1406.5 L1115.0 1405.5 L1116.7 1404.4 L1118.4 1403.4 L1120.1 1402.3 L1121.8 1401.2 L1123.5 1400.2 L1125.2 1399.1 L1126.9 1398.0 L1128.6 1396.9 L1130.2 1395.8 L1131.9 1394.7 L1133.6 1393.6 L1135.3 1392.5 L1136.9 1391.4 L1138.6 1390.3 L1140.3 1389.2 L1141.9 1388.1 L1143.6 1386.9 L1145.2 1385.8 L1146.9 1384.7 L1148.6 1383.5 L1150.2 1382.4 L1151.8 1381.3 L1153.5 1380.1 L1155.1 1378.9 L1156.8 1377.8 L1158.4 1376.6 L1160.0 1375.5 L1161.7 1374.3 L1163.3 1373.1 L1164.9 1371.9 L1166.5 1370.7 L1168.1 1369.6 L1169.7 1368.4 L1171.4 1367.2 L1173.0 1366.0 L1174.6 1364.8 L1176.2 1363.6 L1177.8 1362.3 L1179.4 1361.1 L1180.9 1359.9 L1182.5 1358.7 L1184.1 1357.5 L1185.7 1356.2 L1187.3 1355.0 L1188.8 1353.7 L1190.4 1352.5 L1192.0 1351.3 L1193.6 1350.0 L1195.1 1348.7 L1196.7 1347.5 L1198.2 1346.2 L1199.8 1345.0 L1201.3 1343.7 L1202.9 1342.4 L1204.4 1341.1 L1206.0 1339.8 L1207.5 1338.6 L1209.0 1337.3 L1210.5 1336.0 L1212.1 1334.7 L1213.6 1333.4 L1215.1 1332.1 L1216.6 1330.8 L1218.1 1329.5 L1219.6 1328.1 L1221.2 1326.8 L1222.7 1325.5 L1224.2 1324.2 L1225.6 1322.8 L1227.1 1321.5 L1228.6 1320.2 L1230.1 1318.8 L1231.6 1317.5 L1233.1 1316.1 L1234.5 1314.8 L1236.0 1313.4 L1237.5 1312.1 L1238.9 1310.7 L1240.4 1309.3 L1241.8 1308.0 L1243.3 1306.6 L1244.7 1305.2 L1246.2 1303.8 L1247.6 1302.5 L1249.1 1301.1 L1250.5 1299.7 L1251.9 1298.3 L1253.4 1296.9 L1254.8 1295.5 L1256.2 1294.1 L1257.6 1292.7 L1259.0 1291.3 L1260.4 1289.9 L1261.8 1288.4 L1263.2 1287.0 L1264.6 1285.6 L1266.0 1284.2 L1267.4 1282.7 L1268.8 1281.3 L1270.2 1279.9 L1271.5 1278.4 L1272.9 1277.0 L1274.3 1275.6 L1275.7 1274.1 L1277.0 1272.7 L1278.4 1271.2 L1279.7 1269.7 L1281.1 1268.3 L1282.4 1266.8 L1283.8 1265.3 L1285.1 1263.9 L1286.5 1262.4 L1287.8 1260.9 L1289.1 1259.4 L1290.5 1258.0 L1291.8 1256.5 L1293.1 1255.0 L1294.4 1253.5 L1295.7 1252.0 L1297.0 1250.5 L1298.3 1249.0 L1299.6 1247.5 L1300.9 1246.0" fill="none" stroke="#0000ff" stroke-width="11" stroke-linecap="round" stroke-linejoin="round" stroke-dasharray="28 22.6 0.01 22.6" stroke-dashoffset="6.91"/>
<path d="M1300.9 1246.0 L1302.2 1244.5 L1303.5 1243.0 L1304.8 1241.5 L1306.1 1239.9 L1307.4 1238.4 L1308.7 1236.9 L1310.0 1235.4 L1311.2 1233.8 L1312.5 1232.3 L1313.8 1230.8 L1315.0 1229.2 L1316.3 1227.7 L1317.5 1226.2 L1318.8 1224.6 L1320.1 1223.1 L1321.3 1221.5 L1322.5 1220.0 L1323.8 1218.4 L1325.0 1216.9 L1326.3 1215.3 L1327.5 1213.7 L1328.7 1212.2 L1329.9 1210.6 L1331.2 1209.0 L1332.4 1207.5 L1333.6 1205.9 L1334.8 1204.3 L1336.0 1202.7 L1337.2 1201.1 L1338.4 1199.5 L1339.6 1198.0 L1340.8 1196.4 L1342.0 1194.8 L1343.2 1193.2 L1344.4 1191.6 L1345.6 1190.0 L1346.8 1188.4 L1347.9 1186.8 L1349.1 1185.2 L1350.3 1183.5 L1351.5 1181.9 L1352.6 1180.3 L1353.8 1178.7 L1355.0 1177.1 L1356.1 1175.5 L1357.3 1173.8 L1358.4 1172.2 L1359.6 1170.6 L1360.7 1168.9 L1361.9 1167.3 L1363.0 1165.7 L1364.1 1164.0 L1365.3 1162.4 L1366.4 1160.8 L1367.5 1159.1 L1368.7 1157.5 L1369.8 1155.8 L1370.9 1154.2 L1372.0 1152.5 L1373.1 1150.9 L1374.3 1149.2 L1375.4 1147.5 L1376.5 1145.9 L1377.6 1144.2 L1378.7 1142.6 L1379.8 1140.9 L1380.9 1139.2 L1382.0 1137.5 L1383.1 1135.9 L1384.2 1134.2 L1385.2 1132.5 L1386.3 1130.8 L1387.4 1129.2 L1388.5 1127.5 L1389.6 1125.8 L1390.6 1124.1 L1391.7 1122.4 L1392.8 1120.7 L1393.8 1119.0 L1394.9 1117.3 L1396.0 1115.6 L1397.0 1114.0 L1398.1 1112.3 L1399.1 1110.6 L1400.2 1108.8 L1401.2 1107.1 L1402.3 1105.4 L1403.3 1103.7 L1404.3 1102.0 L1405.4 1100.3 L1406.4 1098.6 L1407.5 1096.9 L1408.5 1095.2 L1409.5 1093.4 L1410.5 1091.7 L1411.6 1090.0 L1412.6 1088.3 L1413.6 1086.6 L1414.6 1084.8 L1415.6 1083.1 L1416.6 1081.4 L1417.6 1079.6 L1418.7 1077.9 L1419.7 1076.2 L1420.7 1074.4 L1421.7 1072.7 L1422.7 1071.0 L1423.7 1069.2 L1424.6 1067.5 L1425.6 1065.8 L1426.6 1064.0 L1427.6 1062.3 L1428.6 1060.5 L1429.6 1058.8 L1430.6 1057.0 L1431.5 1055.3 L1432.5 1053.5 L1433.5 1051.8 L1434.5 1050.0 L1435.4 1048.3 L1436.4 1046.5 L1437.4 1044.7 L1438.3 1043.0 L1439.3 1041.2 L1440.2 1039.5 L1441.2 1037.7 L1442.2 1035.9 L1443.1 1034.2 L1444.1 1032.4 L1445.0 1030.6 L1446.0 1028.9 L1446.9 1027.1 L1447.8 1025.3 L1448.8 1023.6 L1449.7 1021.8 L1450.7 1020.0 L1451.6 1018.2 L1452.5 1016.5 L1453.5 1014.7 L1454.4 1012.9 L1455.3 1011.1 L1456.2 1009.3 L1457.2 1007.6 L1458.1 1005.8 L1459.0 1004.0 L1459.9 1002.2 L1460.8 1000.4 L1461.7 998.6 L1462.7 996.9 L1463.6 995.1 L1464.5 993.3 L1465.4 991.5 L1466.3 989.7 L1467.2 987.9 L1468.1 986.1 L1469.0 984.3 L1469.9 982.5 L1470.8 980.7 L1471.7 978.9 L1472.6 977.1 L1473.5 975.3 L1474.3 973.6 L1475.2 971.8 L1476.1 970.0 L1477.0 968.2 L1477.9 966.4 L1478.8 964.6 L1479.6 962.8 L1480.5 961.0 L1481.4 959.2 L1482.3 957.3 L1483.1 955.5 L1484.0 953.7 L1484.9 951.9 L1485.8 950.1 L1486.6 948.3 L1487.5 946.5 L1488.3 944.7 L1489.2 942.9 L1490.1 941.1 L1490.9 939.3 L1491.8 937.5 L1492.6 935.7 L1493.5 933.9 L1494.4 932.1 L1495.2 930.2 L1496.1 928.4 L1496.9 926.6 L1497.7 924.8 L1498.6 923.0 L1499.4 921.2 L1500.3 919.4 L1501.1 917.6 L1502.0 915.7 L1502.8 913.9 L1503.6 912.1 L1504.5 910.3 L1505.3 908.5 L1506.1 906.7 L1507.0 904.8 L1507.8 903.0 L1508.6 901.2 L1509.5 899.4 L1510.3 897.6 L1511.1 895.7 L1511.9 893.9 L1512.8 892.1 L1513.6 890.3 L1514.4 888.5 L1515.2 886.6 L1516.0 884.8 L1516.8 883.0 L1517.7 881.2 L1518.5 879.3 L1519.3 877.5 L1520.1 875.7 L1520.9 873.9 L1521.7 872.0 L1522.5 870.2 L1523.3 868.4 L1524.1 866.6 L1524.9 864.7 L1525.7 862.9 L1526.5 861.1 L1527.3 859.2 L1528.1 857.4 L1528.9 855.6 L1529.7 853.8 L1530.5 851.9 L1531.3 850.1 L1532.1 848.3 L1532.9 846.4 L1533.7 844.6 L1534.5 842.8 L1535.3 840.9 L1536.0 839.1 L1536.8 837.3 L1537.6 835.4 L1538.4 833.6 L1539.2 831.7 L1540.0 829.9 L1540.7 828.1 L1541.5 826.2 L1542.3 824.4 L1543.1 822.6 L1543.8 820.7 L1544.6 818.9 L1545.4 817.0 L1546.2 815.2 L1546.9 813.4 L1547.7 811.5 L1548.5 809.7 L1549.2 807.8 L1550.0 806.0 L1550.8 804.2 L1551.5 802.3 L1552.3 800.5 L1553.1 798.6 L1553.8 796.8 L1554.6 795.0 L1555.4 793.1 L1556.1 791.3 L1556.9 789.4 L1557.6 787.6 L1558.4 785.7 L1559.1 783.9 L1559.9 782.0 L1560.6 780.2 L1561.4 778.3 L1562.2 776.5 L1562.9 774.6 L1563.7 772.8 L1564.4 770.9 L1565.1 769.1 L1565.9 767.3 L1566.6 765.4 L1567.4 763.6 L1568.1 761.7 L1568.9 759.9 L1569.6 758.0 L1570.4 756.2 L1571.1 754.3 L1571.8 752.4 L1572.6 750.6 L1573.3 748.7 L1574.1 746.9 L1574.8 745.0 L1575.5 743.2 L1576.3 741.3 L1577.0 739.5 L1577.7 737.6 L1578.5 735.8 L1579.2 733.9 L1579.9 732.1 L1580.7 730.2 L1581.4 728.3 L1582.1 726.5 L1582.9 724.6 L1583.6 722.8 L1584.3 720.9 L1585.0 719.1 L1585.8 717.2 L1586.5 715.3 L1587.2 713.5 L1587.9 711.6 L1588.7 709.8 L1589.4 707.9 L1590.1 706.1 L1590.8 704.2 L1591.6 702.3 L1592.3 700.5 L1593.0 698.6 L1593.7 696.7 L1594.4 694.9 L1595.2 693.0 L1595.9 691.2 L1596.6 689.3 L1597.3 687.4 L1598.0 685.6 L1598.7 683.7 L1599.5 681.9 L1600.2 680.0 L1600.9 678.1 L1601.6 676.3 L1602.3 674.4 L1603.0 672.5 L1603.7 670.7 L1604.4 668.8 L1605.2 666.9 L1605.9 665.1 L1606.6 663.2 L1607.3 661.3 L1608.0 659.5 L1608.7 657.6 L1609.4 655.7 L1610.1 653.9 L1610.8 652.0 L1611.5 650.1 L1612.2 648.3 L1612.9 646.4 L1613.6 644.5 L1614.4 642.7 L1615.1 640.8 L1615.8 638.9 L1616.5 637.1 L1617.2 635.2 L1617.9 633.3 L1618.6 631.5 L1619.3 629.6 L1620.0 627.7 L1620.7 625.8 L1621.4 624.0 L1622.1 622.1 L1622.8 620.2 L1623.5 618.4 L1624.2 616.5 L1624.9 614.6 L1625.6 612.8 L1626.3 610.9 L1627.0 609.0 L1627.7 607.1 L1628.4 605.3 L1629.1 603.4 L1629.8 601.5 L1630.5 599.6 L1631.2 597.8 L1631.9 595.9 L1632.6 594.0 L1633.3 592.2 L1633.9 590.3 L1634.6 588.4 L1635.3 586.5 L1636.0 584.7 L1636.7 582.8 L1637.4 580.9 L1638.1 579.0 L1638.8 577.2 L1639.5 575.3 L1640.2 573.4" fill="none" stroke="#0000ff" stroke-width="11" stroke-linecap="round" stroke-linejoin="round" stroke-dasharray="28 22.6 0.01 22.6" stroke-dashoffset="67.28"/>
<path d="M1640.2 573.4 L1640.9 571.5 L1641.6 569.7 L1642.3 567.8 L1643.0 565.9 L1643.7 564.0 L1644.4 562.2 L1645.1 560.3 L1645.8 558.4 L1646.5 556.5 L1647.1 554.7 L1647.8 552.8 L1648.5 550.9 L1649.2 549.0 L1649.9 547.1 L1650.6 545.3 L1651.3 543.4 L1652.0 541.5 L1652.7 539.6 L1653.4 537.8 L1654.1 535.9 L1654.8 534.0 L1655.5 532.1 L1656.2 530.2 L1656.8 528.4 L1657.5 526.5 L1658.2 524.6 L1658.9 522.7 L1659.6 520.9 L1660.3 519.0 L1661.0 517.1 L1661.7 515.2 L1662.4 513.3 L1663.1 511.5 L1663.8 509.6 L1664.5 507.7 L1665.2 505.8 L1665.9 503.9 L1666.5 502.1 L1667.2 500.2 L1667.9 498.3 L1668.6 496.4 L1669.3 494.5 L1670.0 492.7 L1670.7 490.8 L1671.4 488.9 L1672.1 487.0 L1672.8 485.1 L1673.5 483.3 L1674.2 481.4 L1674.9 479.5 L1675.6 477.6 L1676.3 475.7 L1677.0 473.9 L1677.7 472.0 L1678.4 470.1 L1679.1 468.2 L1679.8 466.3 L1680.5 464.5 L1681.2 462.6 L1681.9 460.7 L1682.6 458.8 L1683.3 457.0 L1684.0 455.1 L1684.7 453.2 L1685.4 451.3 L1686.1 449.5 L1686.8 447.6 L1687.5 445.7 L1688.2 443.9 L1689.0 442.0 L1689.7 440.1 L1690.4 438.3 L1691.1 436.4 L1691.8 434.5 L1692.6 432.7 L1693.3 430.8 L1694.0 429.0 L1694.8 427.1 L1695.5 425.3 L1696.3 423.4 L1697.0 421.6 L1697.8 419.7 L1698.5 417.9 L1699.3 416.1 L1700.0 414.2 L1700.8 412.4 L1701.6 410.6 L1702.3 408.8 L1703.1 406.9 L1703.9 405.1 L1704.7 403.3 L1705.4 401.5 L1706.2 399.7 L1707.0 397.9 L1707.8 396.1 L1708.6 394.3 L1709.5 392.5 L1710.3 390.7 L1711.1 388.9 L1711.9 387.1 L1712.7 385.4 L1713.6 383.6 L1714.4 381.8 L1715.3 380.0 L1716.1 378.3 L1717.0 376.5 L1717.8 374.8 L1718.7 373.0 L1719.5 371.2 L1720.4 369.5 L1721.3 367.7 L1722.2 366.0 L1723.1 364.2 L1724.0 362.5 L1724.8 360.7 L1725.7 359.0 L1726.7 357.2 L1727.6 355.5 L1728.5 353.8 L1729.4 352.0 L1730.3 350.3 L1731.2 348.5 L1732.2 346.8 L1733.1 345.0 L1734.1 343.3 L1735.0 341.5 L1736.0 339.7 L1736.9 338.0 L1737.9 336.2 L1738.8 334.5 L1739.8 332.7 L1740.8 330.9 L1741.8 329.2 L1742.7 327.4 L1743.7 325.6 L1744.7 323.8 L1745.7 322.0 L1746.7 320.2 L1747.7 318.5 L1748.7 316.7 L1749.7 314.9 L1750.8 313.1 L1751.8 311.3 L1752.8 309.5 L1753.8 307.7 L1754.9 305.9 L1755.9 304.1 L1757.0 302.4 L1758.0 300.6 L1759.1 298.8 L1760.2 297.0 L1761.3 295.3 L1762.4 293.5 L1763.4 291.7 L1764.5 290.0 L1765.7 288.2 L1766.8 286.5 L1767.9 284.7 L1769.0 283.0 L1770.1 281.2 L1771.3 279.5 L1772.4 277.8 L1773.6 276.1 L1774.8 274.4 L1775.9 272.7 L1777.1 271.0 L1778.3 269.4 L1779.5 267.7 L1780.7 266.0 L1781.9 264.4 L1783.2 262.8 L1784.4 261.2 L1785.6 259.5 L1786.9 257.9 L1788.1 256.4 L1789.4 254.8 L1790.7 253.2 L1792.0 251.7 L1793.3 250.2 L1794.6 248.7 L1795.9 247.2 L1797.2 245.7 L1798.6 244.2 L1799.9 242.8 L1801.3 241.3 L1802.7 239.9 L1804.0 238.5 L1805.4 237.1 L1806.8 235.8 L1808.2 234.4 L1809.7 233.1 L1811.1 231.8 L1812.6 230.5 L1814.0 229.2 L1815.5 228.0 L1817.0 226.8 L1818.5 225.6 L1820.0 224.4 L1821.5 223.2 L1823.0 222.1 L1824.6 221.0 L1826.1 219.9 L1827.7 218.8 L1829.3 217.7 L1830.9 216.7 L1832.5 215.7 L1834.1 214.8 L1835.7 213.8 L1837.4 212.9 L1839.0 212.0 L1840.7 211.1 L1842.4 210.3 L1844.1 209.5 L1845.8 208.7 L1847.5 207.9 L1849.2 207.2 L1851.0 206.4 L1852.7 205.7 L1854.5 205.1 L1856.3 204.4 L1858.1 203.8 L1859.9 203.2 L1861.7 202.6 L1863.5 202.0 L1865.3 201.4 L1867.2 200.9 L1869.0 200.4 L1870.9 199.9 L1872.8 199.4 L1874.6 199.0 L1876.5 198.5 L1878.4 198.1 L1880.3 197.7 L1882.2 197.3 L1884.1 197.0 L1886.1 196.6 L1888.0 196.3 L1889.9 196.0 L1891.9 195.7 L1893.8 195.4 L1895.8 195.1 L1897.8 194.9 L1899.7 194.6 L1901.7 194.4 L1903.7 194.2 L1905.7 194.0 L1907.7 193.8 L1909.7 193.6 L1911.7 193.4 L1913.7 193.3 L1915.7 193.1 L1917.8 193.0 L1919.8 192.9 L1921.8 192.8 L1923.9 192.7 L1925.9 192.7 L1927.9 192.7 L1930.0 192.7 L1932.0 192.7 L1934.1 192.7 L1936.1 192.7 L1938.2 192.7 L1940.2 192.7 L1942.3 192.7 L1944.4 192.7 L1946.4 192.7 L1948.5 192.7 L1950.6 192.7 L1952.6 192.7 L1954.7 192.7 L1956.8 192.7 L1958.8 192.7 L1960.9 192.7 L1963.0 192.7 L1965.1 192.7 L1967.1 192.7 L1969.2 192.7 L1971.3 192.7 L1973.3 192.7 L1975.4 192.7 L1977.5 192.7 L1979.5 192.8 L1981.6 192.8 L1983.6 192.9 L1985.7 193.0 L1987.8 193.0 L1989.8 193.1 L1991.9 193.1 L1993.9 193.2 L1995.9 193.2 L1998.0 193.3 L2000.0 193.3 L2002.1 193.4 L2004.1 193.4 L2006.1 193.5 L2008.1 193.5 L2010.1 193.6 L2012.2 193.6 L2014.2 193.6 L2016.2 193.6 L2018.2 193.7 L2020.2 193.7 L2022.1 193.7 L2024.1 193.7 L2026.1 193.7 L2028.1 193.7 L2030.1 193.7 L2032.0 193.7 L2034.0 193.7 L2036.0 193.7 L2037.9 193.7 L2039.9 193.6 L2041.8 193.6 L2043.8 193.6 L2045.7 193.6 L2047.7 193.6 L2049.6 193.5 L2051.6 193.5 L2053.5 193.5 L2055.5 193.4 L2057.4 193.4 L2059.4 193.4 L2061.3 193.3 L2063.2 193.3 L2065.2 193.3 L2067.1 193.2 L2069.1 193.2 L2071.0 193.2 L2073.0 193.1 L2074.9 193.1 L2076.9 193.0 L2078.8 193.0 L2080.8 193.0 L2082.7 192.9 L2084.7 192.9 L2086.6 192.9 L2088.6 192.8 L2090.5 192.8 L2092.5 192.8 L2094.5 192.7 L2096.4 192.7 L2098.4 192.7 L2100.4 192.7 L2102.4 192.7 L2104.3 192.7 L2106.3 192.7 L2108.3 192.7 L2110.3 192.7 L2112.3 192.7 L2114.3 192.7 L2116.3 192.7 L2118.3 192.7 L2120.4 192.7 L2122.4 192.7 L2124.4 192.7 L2126.4 192.7 L2128.5 192.7 L2130.5 192.7 L2132.6 192.7 L2134.6 192.7 L2136.7 192.8 L2138.8 192.8 L2140.9 192.9 L2143.0 192.9 L2145.1 193.0 L2147.2 193.0 L2149.3 193.1 L2151.4 193.2 L2153.5 193.3 L2155.7 193.3 L2157.8 193.4" fill="none" stroke="#0000ff" stroke-width="11" stroke-linecap="round" stroke-linejoin="round" stroke-dasharray="28 22.6 0.01 22.6" stroke-dashoffset="23.48"/>
<path d="M237.2 1597.0 L239.2 1597.0 L241.2 1597.0 L243.1 1597.0 L245.1 1597.0 L247.1 1597.0 L249.1 1597.0 L251.1 1596.9 L253.1 1596.9 L255.0 1596.9 L257.0 1596.9 L259.0 1596.9 L261.0 1596.9 L263.0 1596.9 L265.0 1596.9 L267.0 1596.9 L268.9 1596.9 L270.9 1596.9 L272.9 1596.9 L274.9 1596.9 L276.9 1596.9 L278.9 1596.9 L280.9 1596.9 L282.9 1596.9 L284.9 1596.9 L286.9 1596.9 L288.9 1596.9 L290.9 1596.9 L292.8 1596.9 L294.8 1596.9 L296.8 1596.9 L298.8 1596.9 L300.8 1596.9 L302.8 1596.9 L304.8 1596.9 L306.8 1597.0 L308.8 1597.0 L310.8 1597.0 L312.8 1597.0 L314.8 1597.0 L316.8 1597.0 L318.8 1597.0 L320.8 1597.0 L322.8 1597.0 L324.8 1597.0 L326.8 1597.0 L328.8 1597.0 L330.8 1597.0 L332.8 1597.0 L334.8 1597.0 L336.8 1597.0 L338.8 1597.0 L340.8 1597.0 L342.8 1597.0 L344.8 1597.0 L346.8 1597.0 L348.8 1597.0 L350.9 1597.0 L352.9 1597.0 L354.9 1597.0 L356.9 1597.0 L358.9 1597.0 L360.9 1597.0 L362.9 1597.0 L364.9 1597.0 L366.9 1597.0 L368.9 1597.0 L370.9 1597.0 L372.9 1597.0 L374.9 1597.0 L376.9 1597.0 L378.9 1597.0 L380.9 1597.0 L382.9 1597.0 L384.9 1597.0 L386.9 1597.0 L388.9 1597.0 L390.9 1597.0 L392.9 1597.0 L395.0 1597.0 L397.0 1597.0 L399.0 1597.0 L401.0 1597.0 L403.0 1597.0 L405.0 1596.9 L407.0 1596.9 L409.0 1596.9 L411.0 1596.8 L413.0 1596.8 L415.0 1596.8 L417.0 1596.7 L419.0 1596.7 L421.0 1596.6 L423.0 1596.6 L425.0 1596.5 L427.0 1596.5 L429.0 1596.4 L431.0 1596.4 L433.0 1596.3 L435.0 1596.2 L437.0 1596.2 L439.0 1596.1 L441.0 1596.0 L443.0 1596.0 L445.0 1595.9 L447.0 1595.8 L449.0 1595.7 L451.0 1595.6 L453.0 1595.6 L455.0 1595.5 L457.0 1595.4 L459.0 1595.3 L461.0 1595.2 L463.0 1595.1 L465.0 1595.0 L467.0 1594.9 L469.0 1594.7 L471.0 1594.6 L473.0 1594.5 L475.0 1594.4 L477.0 1594.3 L479.0 1594.1 L481.0 1594.0 L482.9 1593.9 L484.9 1593.7 L486.9 1593.6 L488.9 1593.4 L490.9 1593.3 L492.9 1593.1 L494.9 1592.9 L496.9 1592.8 L498.9 1592.6 L500.8 1592.4 L502.8 1592.3 L504.8 1592.1 L506.8 1591.9 L508.8 1591.7 L510.8 1591.5 L512.7 1591.3 L514.7 1591.1 L516.7 1590.9 L518.7 1590.7 L520.7 1590.5 L522.6 1590.3 L524.6 1590.0 L526.6 1589.8 L528.6 1589.6 L530.6 1589.3 L532.5 1589.1 L534.5 1588.9 L536.5 1588.6 L538.5 1588.3 L540.4 1588.1 L542.4 1587.8 L544.4 1587.5 L546.3 1587.3 L548.3 1587.0 L550.3 1586.7 L552.2 1586.4 L554.2 1586.1 L556.2 1585.8 L558.1 1585.5 L560.1 1585.2 L562.1 1584.9 L564.0 1584.6 L566.0 1584.2 L568.0 1583.9 L569.9 1583.6 L571.9 1583.2 L573.8 1582.9 L575.8 1582.6 L577.7 1582.2 L579.7 1581.9 L581.7 1581.5 L583.6 1581.2 L585.6 1580.8 L587.5 1580.4 L589.5 1580.1 L591.4 1579.7 L593.4 1579.3 L595.4 1578.9 L597.3 1578.5 L599.3 1578.2 L601.2 1577.8 L603.2 1577.4 L605.1 1577.0 L607.1 1576.6 L609.0 1576.2 L611.0 1575.8 L612.9 1575.4 L614.9 1575.0 L616.8 1574.6 L618.8 1574.1 L620.7 1573.7 L622.7 1573.3 L624.6 1572.9 L626.5 1572.5 L628.5 1572.0 L630.4 1571.6 L632.4 1571.2 L634.3 1570.8 L636.3 1570.3 L638.2 1569.9 L640.2 1569.4 L642.1 1569.0 L644.1 1568.6 L646.0 1568.1 L648.0 1567.7 L649.9 1567.2 L651.8 1566.8 L653.8 1566.3 L655.7 1565.9 L657.7 1565.4 L659.6 1565.0 L661.6 1564.5 L663.5 1564.1 L665.5 1563.6 L667.4 1563.1 L669.3 1562.7 L671.3 1562.2 L673.2 1561.8 L675.2 1561.3 L677.1 1560.8 L679.1 1560.4 L681.0 1559.9 L683.0 1559.4 L684.9 1559.0 L686.8 1558.5 L688.8 1558.0 L690.7 1557.6 L692.7 1557.1 L694.6 1556.6 L696.6 1556.2 L698.5 1555.7 L700.5 1555.2 L702.4 1554.8 L704.3 1554.3 L706.3 1553.8 L708.2 1553.4 L710.2 1552.9 L712.1 1552.4 L714.1 1552.0 L716.0 1551.5 L718.0 1551.0 L719.9 1550.6 L721.9 1550.1 L723.8 1549.6 L725.8 1549.2 L727.7 1548.7 L729.7 1548.3 L731.6 1547.8 L733.6 1547.3 L735.5 1546.9 L737.5 1546.4 L739.4 1546.0 L741.4 1545.5 L743.3 1545.1 L745.3 1544.6 L747.2 1544.1 L749.2 1543.7 L751.1 1543.3 L753.1 1542.8 L755.1 1542.4 L757.0 1541.9 L759.0 1541.5 L760.9 1541.0 L762.9 1540.6 L764.8 1540.2 L766.8 1539.7 L768.8 1539.3 L770.7 1538.9 L772.7 1538.4 L774.6 1538.0 L776.6 1537.6 L778.6 1537.2 L780.5 1536.8 L782.5 1536.3 L784.5 1535.9 L786.4 1535.5 L788.4 1535.1 L790.4 1534.7 L792.3 1534.3 L794.3 1533.8 L796.2 1533.4 L798.2 1533.0 L800.2 1532.6 L802.1 1532.2 L804.1 1531.8 L806.1 1531.4 L808.0 1531.0 L810.0 1530.6 L812.0 1530.2 L813.9 1529.8 L815.9 1529.3 L817.9 1528.9 L819.8 1528.5 L821.8 1528.1 L823.8 1527.7 L825.7 1527.3 L827.7 1526.9 L829.7 1526.5 L831.6 1526.1 L833.6 1525.7 L835.6 1525.3 L837.5 1524.9 L839.5 1524.5 L841.5 1524.1 L843.4 1523.6 L845.4 1523.2 L847.3 1522.8 L849.3 1522.4 L851.3 1522.0 L853.2 1521.6 L855.2 1521.2 L857.2 1520.8 L859.1 1520.3 L861.1 1519.9 L863.0 1519.5 L865.0 1519.1 L867.0 1518.6 L868.9 1518.2 L870.9 1517.8 L872.8 1517.4 L874.8 1516.9 L876.7 1516.5 L878.7 1516.1 L880.6 1515.6 L882.6 1515.2 L884.5 1514.7 L886.5 1514.3 L888.4 1513.9 L890.4 1513.4 L892.3 1513.0 L894.3 1512.5 L896.2 1512.0 L898.2 1511.6 L900.1 1511.1 L902.1 1510.7 L904.0 1510.2 L906.0 1509.7 L907.9 1509.2 L909.8 1508.8 L911.8 1508.3 L913.7 1507.8 L915.6 1507.3 L917.6 1506.8 L919.5 1506.3 L921.4 1505.8 L923.4 1505.3 L925.3 1504.8 L927.2 1504.3 L929.2 1503.8 L931.1 1503.3 L933.0 1502.8 L934.9 1502.3 L936.8 1501.7 L938.8 1501.2 L940.7 1500.7 L942.6 1500.1 L944.5 1499.6 L946.4 1499.0 L948.3 1498.5 L950.2 1497.9 L952.1 1497.4 L954.1 1496.8 L956.0 1496.2 L957.9 1495.6 L959.8 1495.1 L961.7 1494.5 L963.6 1493.9 L965.5 1493.3 L967.3 1492.7 L969.2 1492.1 L971.1 1491.5 L973.0 1490.8 L974.9 1490.2 L976.8 1489.6 L978.7 1489.0 L980.6 1488.3 L982.4 1487.7 L984.3 1487.0 L986.2 1486.4 L988.1 1485.7 L989.9 1485.0 L991.8 1484.4 L993.7 1483.7 L995.5 1483.0 L997.4 1482.3 L999.2 1481.6 L1001.1 1480.9 L1002.9 1480.2 L1004.8 1479.4 L1006.6 1478.7 L1008.5 1478.0 L1010.3 1477.2 L1012.2 1476.5 L1014.0 1475.7 L1015.9 1475.0 L1017.7 1474.2 L1019.5 1473.4 L1021.4 1472.7 L1023.2 1471.9 L1025.0 1471.1 L1026.8 1470.3 L1028.7 1469.5 L1030.5 1468.7 L1032.3 1467.9 L1034.1 1467.0 L1035.9 1466.2 L1037.7 1465.4 L1039.5 1464.5 L1041.3 1463.7 L1043.1 1462.8 L1044.9 1462.0 L1046.7 1461.1 L1048.5 1460.2 L1050.3 1459.3 L1052.1 1458.4 L1053.9 1457.6 L1055.6 1456.7 L1057.4 1455.7 L1059.2 1454.8 L1061.0 1453.9 L1062.7 1453.0 L1064.5 1452.1 L1066.3 1451.1 L1068.0 1450.2 L1069.8 1449.3 L1071.6 1448.3 L1073.3 1447.3 L1075.1 1446.4 L1076.8 1445.4 L1078.5 1444.4 L1080.3 1443.5 L1082.0 1442.5 L1083.8 1441.5 L1085.5 1440.5 L1087.2 1439.5 L1088.9 1438.5 L1090.7 1437.4 L1092.4 1436.4 L1094.1 1435.4 L1095.8 1434.4 L1097.5 1433.3 L1099.2 1432.3 L1100.9 1431.2 L1102.6 1430.2 L1104.3 1429.1 L1106.0 1428.1 L1107.7 1427.0 L1109.4 1425.9 L1111.1 1424.8 L1112.8 1423.8 L1114.5 1422.7 L1116.2 1421.6 L1117.8 1420.5 L1119.5 1419.4 L1121.2 1418.3 L1122.8 1417.1 L1124.5 1416.0 L1126.1 1414.9 L1127.8 1413.8 L1129.4 1412.6 L1131.1 1411.5 L1132.7 1410.3 L1134.4 1409.2 L1136.0 1408.0 L1137.6 1406.9 L1139.3 1405.7 L1140.9 1404.5 L1142.5 1403.3 L1144.1 1402.2 L1145.8 1401.0 L1147.4 1399.8 L1149.0 1398.6 L1150.6 1397.4 L1152.2 1396.2 L1153.8 1395.0 L1155.4 1393.7 L1157.0 1392.5 L1158.6 1391.3 L1160.2 1390.1 L1161.7 1388.8 L1163.3 1387.6 L1164.9 1386.3 L1166.5 1385.1 L1168.0 1383.8 L1169.6 1382.6 L1171.1 1381.3 L1172.7 1380.1 L1174.2 1378.8 L1175.8 1377.5 L1177.3 1376.2 L1178.9 1374.9 L1180.4 1373.7 L1181.9 1372.4 L1183.5 1371.1 L1185.0 1369.8 L1186.5 1368.5 L1188.0 1367.1 L1189.6 1365.8 L1191.1 1364.5 L1192.6 1363.2 L1194.1 1361.9 L1195.6 1360.5 L1197.1 1359.2 L1198.6 1357.9 L1200.0 1356.5 L1201.5 1355.2 L1203.0 1353.8 L1204.5 1352.5 L1205.9 1351.1 L1207.4 1349.7 L1208.9 1348.4 L1210.3 1347.0 L1211.8 1345.6 L1213.2 1344.2 L1214.7 1342.9 L1216.1 1341.5 L1217.6 1340.1 L1219.0 1338.7 L1220.4 1337.3 L1221.8 1335.9 L1223.3 1334.5 L1224.7 1333.1 L1226.1 1331.7 L1227.5 1330.2 L1228.9 1328.8 L1230.3 1327.4 L1231.7 1326.0 L1233.1 1324.5 L1234.5 1323.1 L1235.9 1321.7 L1237.2 1320.2 L1238.6 1318.8 L1240.0 1317.3 L1241.3 1315.9 L1242.7 1314.4 L1244.1 1313.0 L1245.4 1311.5 L1246.8 1310.0 L1248.1 1308.6 L1249.4 1307.1 L1250.8 1305.6 L1252.1 1304.1 L1253.4 1302.6 L1254.8 1301.2 L1256.1 1299.7 L1257.4 1298.2 L1258.7 1296.7 L1260.0 1295.2 L1261.3 1293.7 L1262.6 1292.2 L1263.9 1290.7 L1265.2 1289.2 L1266.5 1287.6 L1267.8 1286.1 L1269.1 1284.6 L1270.4 1283.1 L1271.7 1281.5 L1272.9 1280.0 L1274.2 1278.5 L1275.5 1276.9 L1276.7 1275.4 L1278.0 1273.9 L1279.2 1272.3 L1280.5 1270.8 L1281.7 1269.2 L1283.0 1267.7 L1284.2 1266.1 L1285.5 1264.6 L1286.7 1263.0 L1287.9 1261.4 L1289.2 1259.9 L1290.4 1258.3 L1291.6 1256.7 L1292.8 1255.1 L1294.0 1253.6 L1295.2 1252.0 L1296.5 1250.4 L1297.7 1248.8 L1298.9 1247.2 L1300.1 1245.6 L1301.3 1244.0 L1302.4 1242.4 L1303.6 1240.8 L1304.8 1239.2 L1306.0 1237.6 L1307.2 1236.0 L1308.4 1234.4 L1309.5 1232.8 L1310.7 1231.2 L1311.9 1229.6 L1313.0 1228.0 L1314.2 1226.3 L1315.3 1224.7 L1316.5 1223.1 L1317.7 1221.5 L1318.8 1219.8 L1319.9 1218.2 L1321.1 1216.6 L1322.2 1214.9 L1323.4 1213.3 L1324.5 1211.6 L1325.6 1210.0 L1326.8 1208.4 L1327.9 1206.7 L1329.0 1205.1 L1330.1 1203.4 L1331.2 1201.7 L1332.4 1200.1 L1333.5 1198.4 L1334.6 1196.8 L1335.7 1195.1 L1336.8 1193.4 L1337.9 1191.8 L1339.0 1190.1 L1340.1 1188.4 L1341.2 1186.8 L1342.3 1185.1 L1343.4 1183.4 L1344.5 1181.7 L1345.5 1180.1 L1346.6 1178.4 L1347.7 1176.7 L1348.8 1175.0 L1349.9 1173.3 L1350.9 1171.6 L1352.0 1169.9 L1353.1 1168.3 L1354.1 1166.6 L1355.2 1164.9 L1356.3 1163.2 L1357.3 1161.5 L1358.4 1159.8 L1359.4 1158.1 L1360.5 1156.4 L1361.5 1154.7 L1362.6 1153.0 L1363.6 1151.2 L1364.7 1149.5 L1365.7 1147.8 L1366.7 1146.1 L1367.8 1144.4 L1368.8 1142.7 L1369.8 1141.0 L1370.9 1139.3 L1371.9 1137.5 L1372.9 1135.8 L1374.0 1134.1 L1375.0 1132.4 L1376.0 1130.6 L1377.0 1128.9 L1378.0 1127.2 L1379.0 1125.5 L1380.1 1123.7 L1381.1 1122.0 L1382.1 1120.3 L1383.1 1118.5 L1384.1 1116.8 L1385.1 1115.1 L1386.1 1113.3 L1387.1 1111.6 L1388.1 1109.9 L1389.1 1108.1 L1390.1 1106.4 L1391.1 1104.6 L1392.1 1102.9 L1393.1 1101.2 L1394.1 1099.4 L1395.1 1097.7 L1396.0 1095.9 L1397.0 1094.2 L1398.0 1092.4 L1399.0 1090.7 L1400.0 1088.9 L1401.0 1087.2 L1401.9 1085.4 L1402.9 1083.7 L1403.9 1081.9 L1404.9 1080.2 L1405.8 1078.4 L1406.8 1076.7 L1407.8 1074.9 L1408.7 1073.2 L1409.7 1071.4 L1410.7 1069.6 L1411.6 1067.9 L1412.6 1066.1 L1413.6 1064.4 L1414.5 1062.6 L1415.5 1060.9 L1416.5 1059.1 L1417.4 1057.3 L1418.4 1055.6 L1419.3 1053.8 L1420.3 1052.0 L1421.2 1050.3 L1422.2 1048.5 L1423.1 1046.8 L1424.1 1045.0 L1425.0 1043.2 L1426.0 1041.5 L1426.9 1039.7 L1427.9 1037.9 L1428.8 1036.2 L1429.8 1034.4 L1430.7 1032.6 L1431.7 1030.9 L1432.6 1029.1 L1433.5 1027.3 L1434.5 1025.6 L1435.4 1023.8 L1436.4 1022.0 L1437.3 1020.3 L1438.2 1018.5 L1439.2 1016.7 L1440.1 1015.0 L1441.0 1013.2 L1442.0 1011.4 L1442.9 1009.7 L1443.8 1007.9 L1444.8 1006.1 L1445.7 1004.3 L1446.6 1002.6 L1447.5 1000.8 L1448.5 999.0 L1449.4 997.3 L1450.3 995.5 L1451.2 993.7 L1452.2 991.9 L1453.1 990.2 L1454.0 988.4 L1454.9 986.6 L1455.8 984.8 L1456.8 983.1 L1457.7 981.3 L1458.6 979.5 L1459.5 977.7 L1460.4 975.9 L1461.3 974.2 L1462.2 972.4 L1463.1 970.6 L1464.1 968.8 L1465.0 967.1 L1465.9 965.3 L1466.8 963.5 L1467.7 961.7 L1468.6 959.9 L1469.5 958.2 L1470.4 956.4 L1471.3 954.6 L1472.2 952.8 L1473.1 951.0 L1474.0 949.2 L1474.9 947.5 L1475.8 945.7 L1476.7 943.9 L1477.6 942.1 L1478.5 940.3 L1479.4 938.5 L1480.3 936.8 L1481.2 935.0 L1482.1 933.2 L1483.0 931.4 L1483.8 929.6 L1484.7 927.8 L1485.6 926.0 L1486.5 924.2 L1487.4 922.5 L1488.3 920.7 L1489.2 918.9 L1490.1 917.1 L1490.9 915.3 L1491.8 913.5 L1492.7 911.7 L1493.6 909.9 L1494.5 908.1 L1495.3 906.3 L1496.2 904.5 L1497.1 902.8 L1498.0 901.0 L1498.8 899.2 L1499.7 897.4 L1500.6 895.6 L1501.5 893.8 L1502.3 892.0 L1503.2 890.2 L1504.1 888.4 L1504.9 886.6 L1505.8 884.8 L1506.7 883.0 L1507.6 881.2 L1508.4 879.4 L1509.3 877.6 L1510.1 875.8 L1511.0 874.0 L1511.9 872.2 L1512.7 870.4 L1513.6 868.6 L1514.5 866.8 L1515.3 865.0 L1516.2 863.2 L1517.0 861.4 L1517.9 859.6 L1518.7 857.8 L1519.6 856.0 L1520.5 854.2 L1521.3 852.4 L1522.2 850.6 L1523.0 848.8 L1523.9 847.0 L1524.7 845.2 L1525.6 843.4 L1526.4 841.6 L1527.3 839.8 L1528.1 838.0 L1529.0 836.2 L1529.8 834.3 L1530.7 832.5 L1531.5 830.7 L1532.3 828.9 L1533.2 827.1 L1534.0 825.3 L1534.9 823.5 L1535.7 821.7 L1536.6 819.9 L1537.4 818.1 L1538.2 816.2 L1539.1 814.4 L1539.9 812.6 L1540.7 810.8 L1541.6 809.0 L1542.4 807.2 L1543.2 805.4 L1544.1 803.6 L1544.9 801.7 L1545.7 799.9 L1546.6 798.1 L1547.4 796.3 L1548.2 794.5 L1549.1 792.7 L1549.9 790.8 L1550.7 789.0 L1551.5 787.2 L1552.4 785.4 L1553.2 783.6 L1554.0 781.8 L1554.8 779.9 L1555.7 778.1 L1556.5 776.3 L1557.3 774.5 L1558.1 772.7 L1558.9 770.8 L1559.8 769.0 L1560.6 767.2 L1561.4 765.4 L1562.2 763.5 L1563.0 761.7 L1563.8 759.9 L1564.7 758.1 L1565.5 756.3 L1566.3 754.4 L1567.1 752.6 L1567.9 750.8 L1568.7 748.9 L1569.5 747.1 L1570.3 745.3 L1571.2 743.5 L1572.0 741.6 L1572.8 739.8 L1573.6 738.0 L1574.4 736.2 L1575.2 734.3 L1576.0 732.5 L1576.8 730.7 L1577.6 728.8 L1578.4 727.0 L1579.2 725.2 L1580.0 723.4 L1580.8 721.5 L1581.6 719.7 L1582.4 717.9 L1583.2 716.0 L1584.0 714.2 L1584.8 712.4 L1585.6 710.5 L1586.4 708.7 L1587.2 706.9 L1588.0 705.0 L1588.8 703.2 L1589.6 701.4 L1590.4 699.5 L1591.2 697.7 L1592.0 695.9 L1592.8 694.0 L1593.6 692.2 L1594.4 690.4 L1595.2 688.5 L1596.0 686.7 L1596.8 684.8 L1597.6 683.0 L1598.3 681.2 L1599.1 679.3 L1599.9 677.5 L1600.7 675.7 L1601.5 673.8 L1602.3 672.0 L1603.1 670.2 L1603.9 668.3 L1604.7 666.5 L1605.4 664.6 L1606.2 662.8 L1607.0 661.0 L1607.8 659.1 L1608.6 657.3 L1609.4 655.5 L1610.2 653.6 L1610.9 651.8 L1611.7 649.9 L1612.5 648.1 L1613.3 646.3 L1614.1 644.4 L1614.9 642.6 L1615.7 640.7 L1616.4 638.9 L1617.2 637.1 L1618.0 635.2 L1618.8 633.4 L1619.6 631.5 L1620.3 629.7 L1621.1 627.9 L1621.9 626.0 L1622.7 624.2 L1623.5 622.3 L1624.2 620.5 L1625.0 618.7 L1625.8 616.8 L1626.6 615.0 L1627.4 613.1 L1628.1 611.3 L1628.9 609.5 L1629.7 607.6 L1630.5 605.8 L1631.3 603.9 L1632.0 602.1 L1632.8 600.3 L1633.6 598.4 L1634.4 596.6 L1635.1 594.7 L1635.9 592.9 L1636.7 591.1 L1637.5 589.2 L1638.3 587.4 L1639.0 585.5 L1639.8 583.7 L1640.6 581.9 L1641.4 580.0 L1642.1 578.2 L1642.9 576.3 L1643.7 574.5 L1644.5 572.7 L1645.2 570.8 L1646.0 569.0 L1646.8 567.1 L1647.6 565.3 L1648.3 563.5 L1649.1 561.6 L1649.9 559.8 L1650.7 557.9 L1651.5 556.1 L1652.2 554.3 L1653.0 552.4 L1653.8 550.6 L1654.6 548.8 L1655.3 546.9 L1656.1 545.1 L1656.9 543.2 L1657.7 541.4 L1658.4 539.6 L1659.2 537.7 L1660.0 535.9 L1660.8 534.1 L1661.5 532.2 L1662.3 530.4 L1663.1 528.5 L1663.9 526.7 L1664.7 524.9 L1665.4 523.0 L1666.2 521.2 L1667.0 519.4 L1667.8 517.5 L1668.6 515.7 L1669.3 513.9 L1670.1 512.0 L1670.9 510.2 L1671.7 508.4 L1672.5 506.5 L1673.3 504.7 L1674.1 502.9 L1674.9 501.0 L1675.6 499.2 L1676.4 497.4 L1677.2 495.6 L1678.0 493.7 L1678.8 491.9 L1679.6 490.1 L1680.4 488.2 L1681.2 486.4 L1682.0 484.6 L1682.8 482.8 L1683.6 480.9 L1684.4 479.1 L1685.2 477.3 L1686.0 475.5 L1686.9 473.7 L1687.7 471.8 L1688.5 470.0 L1689.3 468.2 L1690.1 466.4 L1690.9 464.6 L1691.8 462.7 L1692.6 460.9 L1693.4 459.1 L1694.2 457.3 L1695.1 455.5 L1695.9 453.7 L1696.7 451.9 L1697.6 450.1 L1698.4 448.2 L1699.2 446.4 L1700.1 444.6 L1700.9 442.8 L1701.8 441.0 L1702.6 439.2 L1703.5 437.4 L1704.3 435.6 L1705.2 433.8 L1706.1 432.0 L1706.9 430.2 L1707.8 428.4 L1708.7 426.6 L1709.5 424.8 L1710.4 423.0 L1711.3 421.2 L1712.2 419.4 L1713.0 417.6 L1713.9 415.8 L1714.8 414.0 L1715.7 412.2 L1716.6 410.5 L1717.5 408.7 L1718.4 406.9 L1719.3 405.1 L1720.2 403.3 L1721.1 401.5 L1722.0 399.8 L1723.0 398.0 L1723.9 396.2 L1724.8 394.4 L1725.7 392.6 L1726.7 390.9 L1727.6 389.1 L1728.6 387.3 L1729.5 385.6 L1730.4 383.8 L1731.4 382.0 L1732.4 380.3 L1733.3 378.5 L1734.3 376.7 L1735.2 375.0 L1736.2 373.2 L1737.2 371.4 L1738.2 369.7 L1739.2 367.9 L1740.1 366.2 L1741.1 364.4 L1742.1 362.7 L1743.1 360.9 L1744.1 359.2 L1745.1 357.4 L1746.2 355.7 L1747.2 353.9 L1748.2 352.2 L1749.2 350.5 L1750.3 348.7 L1751.3 347.0 L1752.3 345.3 L1753.4 343.5 L1754.4 341.8 L1755.5 340.1 L1756.5 338.3 L1757.6 336.6 L1758.7 334.9 L1759.8 333.2 L1760.8 331.4 L1761.9 329.7 L1763.0 328.0 L1764.1 326.3 L1765.2 324.6 L1766.3 322.9 L1767.4 321.2 L1768.5 319.5 L1769.7 317.7 L1770.8 316.0 L1771.9 314.3 L1773.1 312.7 L1774.2 311.0 L1775.4 309.3 L1776.5 307.6 L1777.7 305.9 L1778.8 304.2 L1780.0 302.5 L1781.2 300.9 L1782.4 299.2 L1783.6 297.6 L1784.8 295.9 L1786.0 294.3 L1787.2 292.6 L1788.4 291.0 L1789.7 289.4 L1790.9 287.7 L1792.1 286.1 L1793.4 284.5 L1794.6 282.9 L1795.9 281.3 L1797.2 279.8 L1798.4 278.2 L1799.7 276.6 L1801.0 275.1 L1802.3 273.5 L1803.6 272.0 L1804.9 270.5 L1806.3 269.0 L1807.6 267.5 L1808.9 266.0 L1810.3 264.5 L1811.6 263.0 L1813.0 261.6 L1814.4 260.2 L1815.8 258.7 L1817.1 257.3 L1818.5 255.9 L1820.0 254.5 L1821.4 253.1 L1822.8 251.8 L1824.2 250.4 L1825.7 249.1 L1827.1 247.8 L1828.6 246.5 L1830.1 245.2 L1831.5 243.9 L1833.0 242.6 L1834.5 241.4 L1836.1 240.2 L1837.6 239.0 L1839.1 237.8 L1840.6 236.6 L1842.2 235.4 L1843.8 234.3 L1845.3 233.2 L1846.9 232.1 L1848.5 231.0 L1850.1 229.9 L1851.7 228.8 L1853.3 227.8 L1855.0 226.8 L1856.6 225.8 L1858.3 224.8 L1859.9 223.8 L1861.6 222.9 L1863.3 222.0 L1864.9 221.0 L1866.6 220.2 L1868.4 219.3 L1870.1 218.4 L1871.8 217.6 L1873.5 216.7 L1875.3 215.9 L1877.0 215.1 L1878.8 214.3 L1880.5 213.5 L1882.3 212.8 L1884.1 212.0 L1885.9 211.3 L1887.6 210.6 L1889.4 209.9 L1891.3 209.2 L1893.1 208.6 L1894.9 207.9 L1896.7 207.3 L1898.6 206.7 L1900.4 206.1 L1902.3 205.5 L1904.1 204.9 L1906.0 204.3 L1907.8 203.8 L1909.7 203.2 L1911.6 202.7 L1913.5 202.2 L1915.4 201.7 L1917.3 201.2 L1919.2 200.7 L1921.1 200.3 L1923.0 199.8 L1924.9 199.4 L1926.8 198.9 L1928.8 198.5 L1930.7 198.1 L1932.7 197.7 L1934.6 197.4 L1936.5 197.0 L1938.5 196.7 L1940.5 196.3 L1942.4 196.0 L1944.4 195.7 L1946.4 195.4 L1948.3 195.1 L1950.3 194.8 L1952.3 194.5 L1954.3 194.2 L1956.3 194.0 L1958.2 193.7 L1960.2 193.5 L1962.2 193.3 L1964.2 193.1 L1966.2 192.9 L1968.2 192.7 L1970.3 192.7 L1972.3 192.7 L1974.3 192.7 L1976.3 192.7 L1978.3 192.7 L1980.3 192.7 L1982.4 192.7 L1984.4 192.7 L1986.4 192.7 L1988.4 192.7 L1990.5 192.7 L1992.5 192.7 L1994.5 192.7 L1996.5 192.7 L1998.6 192.7 L2000.6 192.7 L2002.6 192.7 L2004.7 192.7 L2006.7 192.7 L2008.7 192.7 L2010.8 192.7 L2012.8 192.7 L2014.9 192.7 L2016.9 192.7 L2018.9 192.7 L2021.0 192.7 L2023.0 192.7 L2025.0 192.7 L2027.1 192.7 L2029.1 192.7 L2031.1 192.7 L2033.2 192.7 L2035.2 192.7 L2037.2 192.7 L2039.2 192.7 L2041.3 192.7 L2043.3 192.7 L2045.3 192.7 L2047.4 192.7 L2049.4 192.7 L2051.4 192.7 L2053.4 192.7 L2055.5 192.7 L2057.5 192.7 L2059.5 192.7 L2061.5 192.7 L2063.5 192.7 L2065.5 192.7 L2067.6 192.7 L2069.6 192.7 L2071.6 192.7 L2073.6 192.7 L2075.6 192.7 L2077.6 192.7 L2079.6 192.7 L2081.6 192.7 L2083.6 192.8 L2085.6 192.9 L2087.6 193.0 L2089.6 193.1 L2091.6 193.1 L2093.6 193.2 L2095.6 193.3 L2097.6 193.4 L2099.6 193.4 L2101.6 193.5 L2103.5 193.5 L2105.5 193.6 L2107.5 193.6 L2109.5 193.6 L2111.5 193.7 L2113.4 193.7 L2115.4 193.7 L2117.4 193.7 L2119.3 193.7 L2121.3 193.7 L2123.3 193.7 L2125.2 193.7 L2127.2 193.7 L2129.1 193.7 L2131.1 193.6 L2133.0 193.6 L2135.0 193.5 L2136.9 193.5 L2138.9 193.4 L2140.8 193.3 L2142.7 193.2 L2144.7 193.1 L2146.6 193.0 L2148.5 192.9 L2150.4 192.7 L2152.4 192.7 L2154.3 192.7 L2156.2 192.7" fill="none" stroke="#0000ff" stroke-width="11" stroke-linecap="round" stroke-linejoin="round"/>
<line x1="298.4" y1="100.4" x2="326.4" y2="100.4" stroke="#000" stroke-width="11" stroke-linecap="round"/>
<line x1="348.9" y1="100.4" x2="348.9" y2="100.4" stroke="#000" stroke-width="11" stroke-linecap="round"/>
<line x1="371.6" y1="100.4" x2="399.6" y2="100.4" stroke="#000" stroke-width="11" stroke-linecap="round"/>
<line x1="421.6" y1="100.4" x2="421.6" y2="100.4" stroke="#000" stroke-width="11" stroke-linecap="round"/>
<line x1="444.4" y1="100.4" x2="472.5" y2="100.4" stroke="#000" stroke-width="11" stroke-linecap="round"/>
<line x1="298.3" y1="202.4" x2="483.5" y2="202.4" stroke="#000" stroke-width="11" stroke-linecap="round"/>
<line x1="298.2" y1="303.4" x2="313.5" y2="303.4" stroke="#000" stroke-width="11" stroke-linecap="round"/>
<line x1="339.3" y1="303.4" x2="354.5" y2="303.4" stroke="#000" stroke-width="11" stroke-linecap="round"/>
<line x1="381.3" y1="303.4" x2="396.4" y2="303.4" stroke="#000" stroke-width="11" stroke-linecap="round"/>
<line x1="422.2" y1="303.4" x2="437.5" y2="303.4" stroke="#000" stroke-width="11" stroke-linecap="round"/>
<line x1="463.3" y1="303.4" x2="478.5" y2="303.4" stroke="#000" stroke-width="11" stroke-linecap="round"/>
<line x1="284.3" y1="465.2" x2="312.7" y2="465.2" stroke="#0000ff" stroke-width="11" stroke-linecap="round"/>
<line x1="335.0" y1="465.2" x2="335.0" y2="465.2" stroke="#0000ff" stroke-width="11" stroke-linecap="round"/>
<line x1="357.3" y1="465.2" x2="385.5" y2="465.2" stroke="#0000ff" stroke-width="11" stroke-linecap="round"/>
<line x1="408.0" y1="465.2" x2="408.0" y2="465.2" stroke="#0000ff" stroke-width="11" stroke-linecap="round"/>
<line x1="430.3" y1="465.2" x2="458.7" y2="465.2" stroke="#0000ff" stroke-width="11" stroke-linecap="round"/>
<line x1="284.3" y1="566.5" x2="470.6" y2="566.5" stroke="#0000ff" stroke-width="11" stroke-linecap="round"/>
<line x1="284.3" y1="668.4" x2="299.4" y2="668.4" stroke="#0000ff" stroke-width="11" stroke-linecap="round"/>
<line x1="326.2" y1="668.4" x2="341.3" y2="668.4" stroke="#0000ff" stroke-width="11" stroke-linecap="round"/>
<line x1="367.4" y1="668.4" x2="382.4" y2="668.4" stroke="#0000ff" stroke-width="11" stroke-linecap="round"/>
<line x1="408.4" y1="668.4" x2="423.5" y2="668.4" stroke="#0000ff" stroke-width="11" stroke-linecap="round"/>
<line x1="450.3" y1="668.4" x2="465.3" y2="668.4" stroke="#0000ff" stroke-width="11" stroke-linecap="round"/>
<g font-family="'Liberation Serif','Times New Roman',serif" fill="#000">
<text x="197.5" y="1624.0" font-size="76" text-anchor="end">0</text>
<text x="197.5" y="1366.0" font-size="76" text-anchor="end">2</text>
<text x="197.5" y="1108.0" font-size="76" text-anchor="end">4</text>
<text x="197.5" y="850.0" font-size="76" text-anchor="end">6</text>
<text x="197.5" y="592.0" font-size="76" text-anchor="end">8</text>
<text x="197.5" y="334.0" font-size="76" text-anchor="end">10</text>
<text x="197.5" y="76.0" font-size="76" text-anchor="end">12</text>
<text x="226.0" y="1696.5" font-size="76" text-anchor="middle">0.1</text>
<text x="730.5" y="1696.5" font-size="76" text-anchor="middle">1</text>
<text x="1235.0" y="1696.5" font-size="76" text-anchor="middle">10</text>
<text x="1739.5" y="1696.5" font-size="76" text-anchor="middle">100</text>
<text x="2244.0" y="1696.5" font-size="76" text-anchor="middle">1000</text>
<text x="1235" y="1838" font-size="83" text-anchor="middle">Particle size (μm)</text>
<text transform="translate(88.8 828) rotate(-90)" font-size="83" text-anchor="middle">Differential volume (%)</text>
<text x="502.5" y="129" font-size="83">MgO Differential volume</text>
<text x="502.5" y="230" font-size="83">FA Differential volume</text>
<text x="502.5" y="331" font-size="83">Sand Differential volume</text>
</g>
<g font-family="'Liberation Serif','Times New Roman',serif" fill="#0000ff">
<text x="2273" y="1618.1" font-size="56">0</text>
<text x="2273" y="1336.4" font-size="56">20</text>
<text x="2273" y="1054.7" font-size="56">40</text>
<text x="2273" y="772.9" font-size="56">60</text>
<text x="2273" y="491.2" font-size="56">80</text>
<text x="2273" y="209.5" font-size="56">100</text>
<text transform="translate(2447 826.8) rotate(-90)" font-size="83" text-anchor="middle">Cumulative volume (%)</text>
<text x="489.3" y="493.5" font-size="83">MgO Cumulative volume</text>
<text x="489.3" y="595" font-size="83">FA Cumulative volume</text>
<text x="489.3" y="695.5" font-size="83">Sand Cumulative volume</text>
</g>
</svg>
</body></html>
